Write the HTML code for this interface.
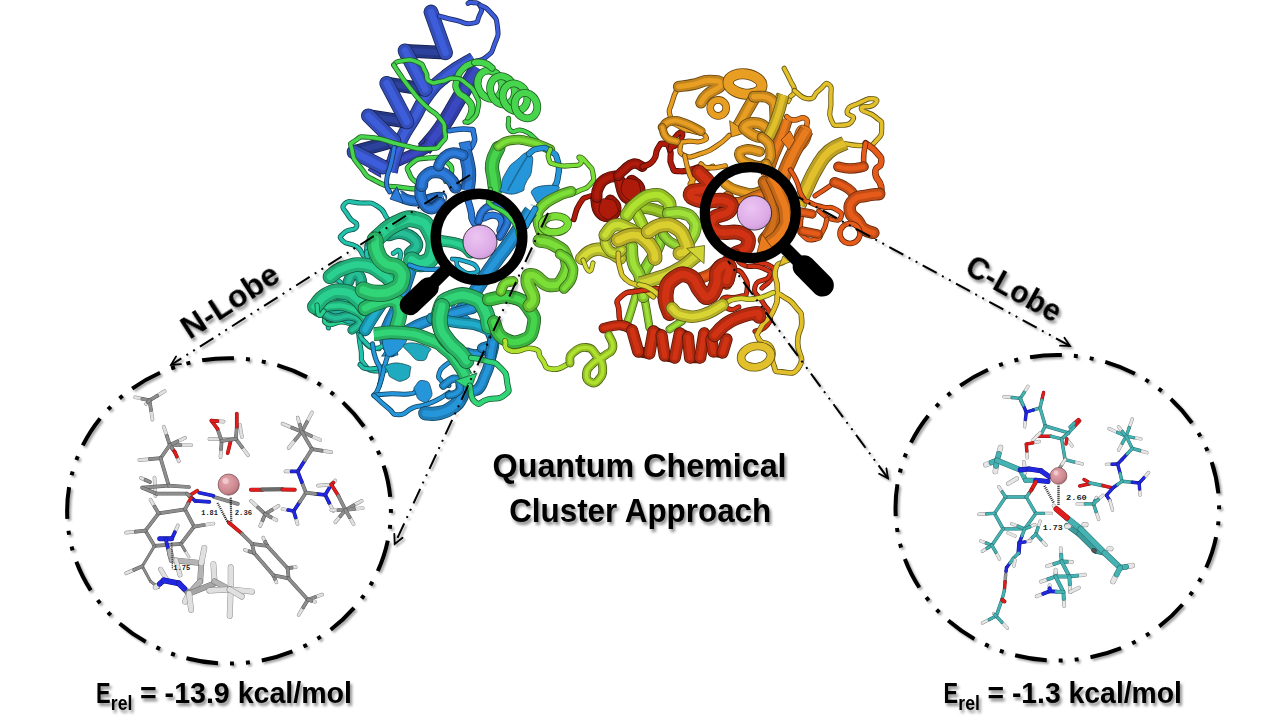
<!DOCTYPE html>
<html lang="en">
<head>
<meta charset="utf-8">
<title>Quantum Chemical Cluster Approach</title>
<style>
html,body{margin:0;padding:0;background:#fff;}
body{width:1280px;height:720px;overflow:hidden;font-family:"Liberation Sans",sans-serif;}
svg{display:block;}
.t{font-family:"Liberation Sans",sans-serif;font-weight:bold;fill:#000;}
.m{font-family:"Liberation Mono",monospace;fill:#222;}
</style>
</head>
<body>
<svg width="1280" height="720" viewBox="0 0 1280 720">
<defs>
<filter id="sh" x="-10%" y="-30%" width="120%" height="170%"><feGaussianBlur in="SourceAlpha" stdDeviation="1.6"/><feOffset dx="1.5" dy="2.5" result="o"/><feComponentTransfer><feFuncA type="linear" slope="0.45"/></feComponentTransfer><feMerge><feMergeNode/><feMergeNode in="SourceGraphic"/></feMerge></filter>
<filter id="sh2" x="-10%" y="-10%" width="120%" height="120%"><feGaussianBlur in="SourceAlpha" stdDeviation="1.2"/><feOffset dx="1.5" dy="2" result="o"/><feComponentTransfer><feFuncA type="linear" slope="0.35"/></feComponentTransfer><feMerge><feMergeNode/><feMergeNode in="SourceGraphic"/></feMerge></filter>
<radialGradient id="sph" cx="0.4" cy="0.35" r="0.75"><stop offset="0" stop-color="#ecc4f2"/><stop offset="0.7" stop-color="#dcaae6"/><stop offset="1" stop-color="#c392cf"/></radialGradient>
<radialGradient id="fe" cx="0.4" cy="0.35" r="0.75"><stop offset="0" stop-color="#e8aab0"/><stop offset="0.7" stop-color="#c9848c"/><stop offset="1" stop-color="#8f5a60"/></radialGradient>
</defs>
<rect width="1280" height="720" fill="#fff"/>
<g id="protein">
<path d="M477.5 68C472.6 76.1 468.6 82.5 459 98.4C449.4 114.3 450.7 114 441.4 127.5C432.1 141 428.6 143.3 424 149" fill="none" stroke="#191f54" stroke-width="15.9" stroke-linecap="butt" stroke-linejoin="round"/>
<path d="M477.5 68C472.6 76.1 468.6 82.5 459 98.4C449.4 114.3 450.7 114 441.4 127.5C432.1 141 428.6 143.3 424 149" fill="none" stroke="#303da2" stroke-width="14.3" stroke-linecap="butt" stroke-linejoin="round"/>
<path d="M477.5 68C472.6 76.1 468.6 82.5 459 98.4C449.4 114.3 450.7 114 441.4 127.5C432.1 141 428.6 143.3 424 149" fill="none" stroke="#3a49c2" stroke-width="7.2" stroke-linecap="butt" stroke-linejoin="round"/>
<path d="M430 142C428 144.3 434.5 142.8 424 149C413.5 155.2 412.3 154.4 398.6 160.6C384.9 166.8 389.5 165 383 167.5C376.5 170 380.5 167.9 379.2 168.1" fill="none" stroke="#191f54" stroke-width="11.5" stroke-linecap="butt" stroke-linejoin="round"/>
<path d="M430 142C428 144.3 434.5 142.8 424 149C413.5 155.2 412.3 154.4 398.6 160.6C384.9 166.8 389.5 165 383 167.5C376.5 170 380.5 167.9 379.2 168.1" fill="none" stroke="#303da2" stroke-width="9.9" stroke-linecap="butt" stroke-linejoin="round"/>
<path d="M430 142C428 144.3 434.5 142.8 424 149C413.5 155.2 412.3 154.4 398.6 160.6C384.9 166.8 389.5 165 383 167.5C376.5 170 380.5 167.9 379.2 168.1" fill="none" stroke="#3a49c2" stroke-width="5" stroke-linecap="butt" stroke-linejoin="round"/>
<path d="M377.7 158.9L368 170L380.8 177.4Z" fill="#3a49c2" stroke="#191f54" stroke-width="0.8" stroke-linejoin="round"/>
<path d="M473.6 58.5C466.6 62.9 459.5 65.4 447.3 75C435.1 84.6 436.6 83.1 427.8 94.5C419 105.9 420.9 106.4 414.2 117.8C407.5 129.2 407.7 126.9 402.5 137.3C397.3 147.7 397.8 147.4 394.7 156.7C391.6 166 392 167.9 391 172" fill="none" stroke="#1a285e" stroke-width="13.7" stroke-linecap="butt" stroke-linejoin="round"/>
<path d="M473.6 58.5C466.6 62.9 459.5 65.4 447.3 75C435.1 84.6 436.6 83.1 427.8 94.5C419 105.9 420.9 106.4 414.2 117.8C407.5 129.2 407.7 126.9 402.5 137.3C397.3 147.7 397.8 147.4 394.7 156.7C391.6 166 392 167.9 391 172" fill="none" stroke="#344eb7" stroke-width="12.1" stroke-linecap="butt" stroke-linejoin="round"/>
<path d="M473.6 58.5C466.6 62.9 459.5 65.4 447.3 75C435.1 84.6 436.6 83.1 427.8 94.5C419 105.9 420.9 106.4 414.2 117.8C407.5 129.2 407.7 126.9 402.5 137.3C397.3 147.7 397.8 147.4 394.7 156.7C391.6 166 392 167.9 391 172" fill="none" stroke="#3e5ddb" stroke-width="6.1" stroke-linecap="butt" stroke-linejoin="round"/>
<path d="M445.6 52.8L405 50.8" fill="none" stroke="#131c44" stroke-width="13.5" stroke-linecap="round" stroke-linejoin="round"/>
<path d="M445.6 52.8L405 50.8" fill="none" stroke="#243783" stroke-width="11.9" stroke-linecap="round" stroke-linejoin="round"/>
<path d="M445.6 52.8L405 50.8" fill="none" stroke="#2c429d" stroke-width="5.9" stroke-linecap="round" stroke-linejoin="round"/>
<path d="M425.3 89.4L386.7 83.3" fill="none" stroke="#131c44" stroke-width="13.5" stroke-linecap="round" stroke-linejoin="round"/>
<path d="M425.3 89.4L386.7 83.3" fill="none" stroke="#243783" stroke-width="11.9" stroke-linecap="round" stroke-linejoin="round"/>
<path d="M425.3 89.4L386.7 83.3" fill="none" stroke="#2c429d" stroke-width="5.9" stroke-linecap="round" stroke-linejoin="round"/>
<path d="M407 121.9L368.4 115.8" fill="none" stroke="#131c44" stroke-width="13.5" stroke-linecap="round" stroke-linejoin="round"/>
<path d="M407 121.9L368.4 115.8" fill="none" stroke="#243783" stroke-width="11.9" stroke-linecap="round" stroke-linejoin="round"/>
<path d="M407 121.9L368.4 115.8" fill="none" stroke="#2c429d" stroke-width="5.9" stroke-linecap="round" stroke-linejoin="round"/>
<path d="M394 141L354 152" fill="none" stroke="#131c44" stroke-width="13.5" stroke-linecap="round" stroke-linejoin="round"/>
<path d="M394 141L354 152" fill="none" stroke="#243783" stroke-width="11.9" stroke-linecap="round" stroke-linejoin="round"/>
<path d="M394 141L354 152" fill="none" stroke="#2c429d" stroke-width="5.9" stroke-linecap="round" stroke-linejoin="round"/>
<path d="M431 12L445.6 52.8" fill="none" stroke="#1a285e" stroke-width="14.8" stroke-linecap="round" stroke-linejoin="round"/>
<path d="M431 12L445.6 52.8" fill="none" stroke="#344eb7" stroke-width="13.2" stroke-linecap="round" stroke-linejoin="round"/>
<path d="M431 12L445.6 52.8" fill="none" stroke="#3e5ddb" stroke-width="6.6" stroke-linecap="round" stroke-linejoin="round"/>
<path d="M405 50.8L425.3 89.4" fill="none" stroke="#1a285e" stroke-width="14.8" stroke-linecap="round" stroke-linejoin="round"/>
<path d="M405 50.8L425.3 89.4" fill="none" stroke="#344eb7" stroke-width="13.2" stroke-linecap="round" stroke-linejoin="round"/>
<path d="M405 50.8L425.3 89.4" fill="none" stroke="#3e5ddb" stroke-width="6.6" stroke-linecap="round" stroke-linejoin="round"/>
<path d="M386.7 83.3L407 121.9" fill="none" stroke="#1a285e" stroke-width="14.8" stroke-linecap="round" stroke-linejoin="round"/>
<path d="M386.7 83.3L407 121.9" fill="none" stroke="#344eb7" stroke-width="13.2" stroke-linecap="round" stroke-linejoin="round"/>
<path d="M386.7 83.3L407 121.9" fill="none" stroke="#3e5ddb" stroke-width="6.6" stroke-linecap="round" stroke-linejoin="round"/>
<path d="M368.4 115.8L394 141" fill="none" stroke="#1a285e" stroke-width="14.8" stroke-linecap="round" stroke-linejoin="round"/>
<path d="M368.4 115.8L394 141" fill="none" stroke="#344eb7" stroke-width="13.2" stroke-linecap="round" stroke-linejoin="round"/>
<path d="M368.4 115.8L394 141" fill="none" stroke="#3e5ddb" stroke-width="6.6" stroke-linecap="round" stroke-linejoin="round"/>
<path d="M354 152L383 167" fill="none" stroke="#1a285e" stroke-width="14.8" stroke-linecap="round" stroke-linejoin="round"/>
<path d="M354 152L383 167" fill="none" stroke="#344eb7" stroke-width="13.2" stroke-linecap="round" stroke-linejoin="round"/>
<path d="M354 152L383 167" fill="none" stroke="#3e5ddb" stroke-width="6.6" stroke-linecap="round" stroke-linejoin="round"/>
<path d="M439.5 16.2C444.9 17.6 445 17.9 455.8 20.3C466.6 22.7 464.2 24.8 472 23.4C479.8 22 476.4 22 479.1 16.2C481.8 10.4 482.6 10.7 480.2 6.1C477.8 1.5 476.1 3.4 472 2.5C467.9 1.6 469.3 3.2 468 3.5" fill="none" stroke="#1a285e" stroke-width="5" stroke-linecap="round" stroke-linejoin="round"/>
<path d="M439.5 16.2C444.9 17.6 445 17.9 455.8 20.3C466.6 22.7 464.2 24.8 472 23.4C479.8 22 476.4 22 479.1 16.2C481.8 10.4 482.6 10.7 480.2 6.1C477.8 1.5 476.1 3.4 472 2.5C467.9 1.6 469.3 3.2 468 3.5" fill="none" stroke="#3e5ddb" stroke-width="3.4" stroke-linecap="round" stroke-linejoin="round"/>
<path d="M480 5C483.4 7.4 484.5 5.1 490.3 12.2C496.1 19.3 496 15.6 497.4 26.4C498.8 37.2 498.1 34.5 494.4 44.7C490.7 54.9 492.4 51.5 486.3 56.9C480.2 62.3 479.4 59.6 476 61" fill="none" stroke="#1a285e" stroke-width="5" stroke-linecap="round" stroke-linejoin="round"/>
<path d="M480 5C483.4 7.4 484.5 5.1 490.3 12.2C496.1 19.3 496 15.6 497.4 26.4C498.8 37.2 498.1 34.5 494.4 44.7C490.7 54.9 492.4 51.5 486.3 56.9C480.2 62.3 479.4 59.6 476 61" fill="none" stroke="#3e5ddb" stroke-width="3.4" stroke-linecap="round" stroke-linejoin="round"/>
<path d="M474.7 62.5C471.7 64 468.4 63.2 463.6 68C458.8 72.8 458.2 74.3 456.7 80.6C455.2 86.9 455.4 86.9 458 91.7C460.6 96.5 462.7 94.2 466.4 98.6C470.1 103 471.6 102.4 472 108.3C472.4 114.2 468.9 117.5 467.8 120.8" fill="none" stroke="#1e5c21" stroke-width="7.1" stroke-linecap="round" stroke-linejoin="round"/>
<path d="M474.7 62.5C471.7 64 468.4 63.2 463.6 68C458.8 72.8 458.2 74.3 456.7 80.6C455.2 86.9 455.4 86.9 458 91.7C460.6 96.5 462.7 94.2 466.4 98.6C470.1 103 471.6 102.4 472 108.3C472.4 114.2 468.9 117.5 467.8 120.8" fill="none" stroke="#46d54d" stroke-width="5.5" stroke-linecap="round" stroke-linejoin="round"/>
<ellipse cx="490" cy="84.7" rx="12" ry="14.5" fill="none" stroke="#1e5c21" stroke-width="7.8" transform="rotate(-22 490 84.7)"/>
<ellipse cx="490" cy="84.7" rx="12" ry="14.5" fill="none" stroke="#46d54d" stroke-width="6.2" transform="rotate(-22 490 84.7)"/>
<ellipse cx="502.5" cy="90.3" rx="12" ry="14.5" fill="none" stroke="#1e5c21" stroke-width="7.8" transform="rotate(-22 502.5 90.3)"/>
<ellipse cx="502.5" cy="90.3" rx="12" ry="14.5" fill="none" stroke="#46d54d" stroke-width="6.2" transform="rotate(-22 502.5 90.3)"/>
<ellipse cx="515" cy="97.2" rx="12" ry="14" fill="none" stroke="#1e5c21" stroke-width="7.8" transform="rotate(-22 515 97.2)"/>
<ellipse cx="515" cy="97.2" rx="12" ry="14" fill="none" stroke="#46d54d" stroke-width="6.2" transform="rotate(-22 515 97.2)"/>
<ellipse cx="526" cy="105.6" rx="11" ry="13" fill="none" stroke="#1e5c21" stroke-width="7.8" transform="rotate(-22 526 105.6)"/>
<ellipse cx="526" cy="105.6" rx="11" ry="13" fill="none" stroke="#46d54d" stroke-width="6.2" transform="rotate(-22 526 105.6)"/>
<path d="M474.7 62.5C477.8 62.7 478.2 61.2 484 63C489.8 64.8 489.3 66.3 492 68" fill="none" stroke="#1e5c21" stroke-width="7.1" stroke-linecap="round" stroke-linejoin="round"/>
<path d="M474.7 62.5C477.8 62.7 478.2 61.2 484 63C489.8 64.8 489.3 66.3 492 68" fill="none" stroke="#46d54d" stroke-width="5.5" stroke-linecap="round" stroke-linejoin="round"/>
<path d="M393.8 65C396.2 63.7 393.2 62 401 61C408.8 60 409.1 58.6 417.2 62C425.3 65.4 421.2 64.7 425.3 71.1C429.4 77.5 424 77.9 429.4 81.3C434.8 84.7 433.5 82.3 441.6 81.3C449.7 80.3 445.7 77.5 453.8 78.2C461.9 78.9 458.6 77.5 466 83.3C473.4 89.1 472 87.4 476 95.5C480 103.6 479.3 99.6 478 107.7C476.7 115.8 476.3 115.1 472 119.8C467.7 124.5 467.3 121.2 465 121.9" fill="none" stroke="#1e5c21" stroke-width="5.2" stroke-linecap="round" stroke-linejoin="round"/>
<path d="M393.8 65C396.2 63.7 393.2 62 401 61C408.8 60 409.1 58.6 417.2 62C425.3 65.4 421.2 64.7 425.3 71.1C429.4 77.5 424 77.9 429.4 81.3C434.8 84.7 433.5 82.3 441.6 81.3C449.7 80.3 445.7 77.5 453.8 78.2C461.9 78.9 458.6 77.5 466 83.3C473.4 89.1 472 87.4 476 95.5C480 103.6 479.3 99.6 478 107.7C476.7 115.8 476.3 115.1 472 119.8C467.7 124.5 467.3 121.2 465 121.9" fill="none" stroke="#46d54d" stroke-width="3.6" stroke-linecap="round" stroke-linejoin="round"/>
<path d="M393.8 65C395.5 67.7 393.3 64.9 399 73C404.7 81.1 402.2 78.5 411 89.4C419.8 100.3 415.8 96.1 425.3 105.6C434.8 115.1 433.1 109.5 439.5 117.8C445.9 126.1 443.9 122.2 444.6 130.5C445.3 138.8 447.4 136.6 441.6 142.7C435.8 148.8 440.8 148.1 427.3 148.8C413.8 149.5 419.3 148.4 401 144.7C382.7 141 387.8 139 372.5 137.6C357.2 136.2 362 136.2 355.2 140.6C348.4 145 350.5 142 352.2 150.8C353.9 159.6 352.2 156.8 360.3 167C368.4 177.2 363 174.5 376.6 181.3C390.2 188.1 387.1 185.6 401 187.3C414.9 189 415.2 190.3 418.2 186.3C421.2 182.3 412.4 182.6 410 175.2C407.6 167.8 404.5 169.8 411 164C417.5 158.2 417.5 158.6 429.4 157.9C441.3 157.2 439.3 156.2 446.6 162C453.9 167.8 451.6 168.8 451.3 175.2C451 181.6 447.5 179.3 445.6 181.3" fill="none" stroke="#1e5c21" stroke-width="5.2" stroke-linecap="round" stroke-linejoin="round"/>
<path d="M393.8 65C395.5 67.7 393.3 64.9 399 73C404.7 81.1 402.2 78.5 411 89.4C419.8 100.3 415.8 96.1 425.3 105.6C434.8 115.1 433.1 109.5 439.5 117.8C445.9 126.1 443.9 122.2 444.6 130.5C445.3 138.8 447.4 136.6 441.6 142.7C435.8 148.8 440.8 148.1 427.3 148.8C413.8 149.5 419.3 148.4 401 144.7C382.7 141 387.8 139 372.5 137.6C357.2 136.2 362 136.2 355.2 140.6C348.4 145 350.5 142 352.2 150.8C353.9 159.6 352.2 156.8 360.3 167C368.4 177.2 363 174.5 376.6 181.3C390.2 188.1 387.1 185.6 401 187.3C414.9 189 415.2 190.3 418.2 186.3C421.2 182.3 412.4 182.6 410 175.2C407.6 167.8 404.5 169.8 411 164C417.5 158.2 417.5 158.6 429.4 157.9C441.3 157.2 439.3 156.2 446.6 162C453.9 167.8 451.6 168.8 451.3 175.2C451 181.6 447.5 179.3 445.6 181.3" fill="none" stroke="#46d54d" stroke-width="3.6" stroke-linecap="round" stroke-linejoin="round"/>
<path d="M394.2 147.5C393.2 152.6 393.7 151.6 391.2 162.8C388.7 174 387.1 171.5 386.6 181.2C386.1 190.9 388.6 188.3 389.6 191.9" fill="none" stroke="#13355e" stroke-width="5" stroke-linecap="round" stroke-linejoin="round"/>
<path d="M394.2 147.5C393.2 152.6 393.7 151.6 391.2 162.8C388.7 174 387.1 171.5 386.6 181.2C386.1 190.9 388.6 188.3 389.6 191.9" fill="none" stroke="#2d7bdb" stroke-width="3.4" stroke-linecap="round" stroke-linejoin="round"/>
<path d="M449.3 130.7C455.4 130.2 459.5 128.2 467.6 129.2C475.7 130.2 472.2 128.2 473.7 133.8C475.2 139.4 475.2 140.4 472.2 146C469.2 151.6 467.1 149.1 464.6 150.6" fill="none" stroke="#13355e" stroke-width="5.6" stroke-linecap="round" stroke-linejoin="round"/>
<path d="M449.3 130.7C455.4 130.2 459.5 128.2 467.6 129.2C475.7 130.2 472.2 128.2 473.7 133.8C475.2 139.4 475.2 140.4 472.2 146C469.2 151.6 467.1 149.1 464.6 150.6" fill="none" stroke="#2d7bdb" stroke-width="4" stroke-linecap="round" stroke-linejoin="round"/>
<path d="M459 143L470 141L472 150L462 154Z" fill="#2d7bdb" stroke="#13355e" stroke-width="0.8" stroke-linejoin="round"/>
<path d="M464.6 150.6C465.4 153.9 466.4 156.3 467.6 162.8C468.8 169.3 469.1 167.7 469.1 175C469.1 182.3 468 186 467.6 190" fill="none" stroke="#13355e" stroke-width="14.2" stroke-linecap="butt" stroke-linejoin="round"/>
<path d="M464.6 150.6C465.4 153.9 466.4 156.3 467.6 162.8C468.8 169.3 469.1 167.7 469.1 175C469.1 182.3 468 186 467.6 190" fill="none" stroke="#2567b7" stroke-width="12.7" stroke-linecap="butt" stroke-linejoin="round"/>
<path d="M464.6 150.6C465.4 153.9 466.4 156.3 467.6 162.8C468.8 169.3 469.1 167.7 469.1 175C469.1 182.3 468 186 467.6 190" fill="none" stroke="#2d7bdb" stroke-width="6.3" stroke-linecap="butt" stroke-linejoin="round"/>
<path d="M441 199C439.7 198.5 445.5 196.8 437 197.5C428.5 198.2 428.3 201.7 415.6 201C402.9 200.3 404.2 197.5 399 195.5C393.8 193.5 399.7 195.2 400 195.1" fill="none" stroke="#13355e" stroke-width="11" stroke-linecap="butt" stroke-linejoin="round"/>
<path d="M441 199C439.7 198.5 445.5 196.8 437 197.5C428.5 198.2 428.3 201.7 415.6 201C402.9 200.3 404.2 197.5 399 195.5C393.8 193.5 399.7 195.2 400 195.1" fill="none" stroke="#2567b7" stroke-width="9.4" stroke-linecap="butt" stroke-linejoin="round"/>
<path d="M441 199C439.7 198.5 445.5 196.8 437 197.5C428.5 198.2 428.3 201.7 415.6 201C402.9 200.3 404.2 197.5 399 195.5C393.8 193.5 399.7 195.2 400 195.1" fill="none" stroke="#2d7bdb" stroke-width="4.7" stroke-linecap="butt" stroke-linejoin="round"/>
<path d="M396.8 186.8L390 199L403.2 203.4Z" fill="#2d7bdb" stroke="#13355e" stroke-width="0.8" stroke-linejoin="round"/>
<path d="M420.2 187.3C420.6 190.6 418.8 193.8 421.7 199.5C424.6 205.2 426 207.9 430.9 208.7C435.8 209.5 437.6 204.2 440.1 202.6" fill="none" stroke="#13355e" stroke-width="11.5" stroke-linecap="round" stroke-linejoin="round"/>
<path d="M420.2 187.3C420.6 190.6 418.8 193.8 421.7 199.5C424.6 205.2 426 207.9 430.9 208.7C435.8 209.5 437.6 204.2 440.1 202.6" fill="none" stroke="#2567b7" stroke-width="9.9" stroke-linecap="round" stroke-linejoin="round"/>
<path d="M420.2 187.3C420.6 190.6 418.8 193.8 421.7 199.5C424.6 205.2 426 207.9 430.9 208.7C435.8 209.5 437.6 204.2 440.1 202.6" fill="none" stroke="#2d7bdb" stroke-width="5" stroke-linecap="round" stroke-linejoin="round"/>
<path d="M421.7 185.7C422.5 183.3 420.7 180.3 424.8 176.6C428.9 172.9 430.5 171.6 437 172C443.5 172.4 444.4 174 449.3 178.1C454.2 182.2 453.8 184.8 455.4 187.3" fill="none" stroke="#13355e" stroke-width="12.6" stroke-linecap="round" stroke-linejoin="round"/>
<path d="M421.7 185.7C422.5 183.3 420.7 180.3 424.8 176.6C428.9 172.9 430.5 171.6 437 172C443.5 172.4 444.4 174 449.3 178.1C454.2 182.2 453.8 184.8 455.4 187.3" fill="none" stroke="#2567b7" stroke-width="11" stroke-linecap="round" stroke-linejoin="round"/>
<path d="M421.7 185.7C422.5 183.3 420.7 180.3 424.8 176.6C428.9 172.9 430.5 171.6 437 172C443.5 172.4 444.4 174 449.3 178.1C454.2 182.2 453.8 184.8 455.4 187.3" fill="none" stroke="#2d7bdb" stroke-width="5.5" stroke-linecap="round" stroke-linejoin="round"/>
<path d="M438.6 165.9C439.8 163.8 439.4 161.7 443.1 158.2C446.8 154.7 447 153.7 452.3 152.9C457.6 152.1 460.1 154.6 463 155.2" fill="none" stroke="#13355e" stroke-width="11" stroke-linecap="round" stroke-linejoin="round"/>
<path d="M438.6 165.9C439.8 163.8 439.4 161.7 443.1 158.2C446.8 154.7 447 153.7 452.3 152.9C457.6 152.1 460.1 154.6 463 155.2" fill="none" stroke="#2567b7" stroke-width="9.4" stroke-linecap="round" stroke-linejoin="round"/>
<path d="M438.6 165.9C439.8 163.8 439.4 161.7 443.1 158.2C446.8 154.7 447 153.7 452.3 152.9C457.6 152.1 460.1 154.6 463 155.2" fill="none" stroke="#2d7bdb" stroke-width="4.7" stroke-linecap="round" stroke-linejoin="round"/>
<path d="M508.6 118.3C509.3 122.4 505.9 126.4 510.6 130.5C515.3 134.6 514.7 127.8 522.8 130.5C530.9 133.2 528.9 133.2 535 138.6C541.1 144 539.1 144 541.1 146.7" fill="none" stroke="#1e5c21" stroke-width="5" stroke-linecap="round" stroke-linejoin="round"/>
<path d="M508.6 118.3C509.3 122.4 505.9 126.4 510.6 130.5C515.3 134.6 514.7 127.8 522.8 130.5C530.9 133.2 528.9 133.2 535 138.6C541.1 144 539.1 144 541.1 146.7" fill="none" stroke="#46d54d" stroke-width="3.4" stroke-linecap="round" stroke-linejoin="round"/>
<path d="M498.3 147.9C496.7 152 493.4 155 492.2 163.2C491 171.4 492.9 171.4 493.7 178.5C494.5 185.6 494.9 186.9 495.3 190" fill="none" stroke="#1e5c21" stroke-width="14.2" stroke-linecap="round" stroke-linejoin="round"/>
<path d="M498.3 147.9C496.7 152 493.4 155 492.2 163.2C491 171.4 492.9 171.4 493.7 178.5C494.5 185.6 494.9 186.9 495.3 190" fill="none" stroke="#3ab240" stroke-width="12.7" stroke-linecap="round" stroke-linejoin="round"/>
<path d="M498.3 147.9C496.7 152 493.4 155 492.2 163.2C491 171.4 492.9 171.4 493.7 178.5C494.5 185.6 494.9 186.9 495.3 190" fill="none" stroke="#46d54d" stroke-width="6.3" stroke-linecap="round" stroke-linejoin="round"/>
<path d="M498.3 146.4C501.6 144.8 502 141.5 510.6 140.3C519.2 139.1 519.8 139.4 530.4 141.8C541 144.2 545 147.4 550.3 149.4" fill="none" stroke="#356018" stroke-width="9.8" stroke-linecap="round" stroke-linejoin="round"/>
<path d="M498.3 146.4C501.6 144.8 502 141.5 510.6 140.3C519.2 139.1 519.8 139.4 530.4 141.8C541 144.2 545 147.4 550.3 149.4" fill="none" stroke="#67bb2f" stroke-width="8.2" stroke-linecap="round" stroke-linejoin="round"/>
<path d="M498.3 146.4C501.6 144.8 502 141.5 510.6 140.3C519.2 139.1 519.8 139.4 530.4 141.8C541 144.2 545 147.4 550.3 149.4" fill="none" stroke="#7bdf38" stroke-width="4.1" stroke-linecap="round" stroke-linejoin="round"/>
<path d="M528.9 154C534 156.6 532.9 158.1 531.9 167.8C530.9 177.5 529.9 174.9 525.8 183C521.7 191.1 527.3 189.1 519.7 192.2C512.1 195.3 509 194.2 502.9 192.2C496.8 190.2 500.4 192.7 501.4 186.1C502.4 179.5 500.9 181.1 506 172.4C511.1 163.7 509.1 166.2 516.7 160.1C524.3 154 523.8 151.4 528.9 154Z" fill="#2696db" stroke="#10415e" stroke-width="0.8" stroke-linejoin="round"/>
<path d="M527 157C524 162 524.3 161 518 172C511.7 183 511.3 184 508 190" fill="none" stroke="#0d344b" stroke-width="1.2" stroke-linecap="round" stroke-linejoin="round"/>
<path d="M527 157C524 162 524.3 161 518 172C511.7 183 511.3 184 508 190" fill="none" stroke="#1f78ae" stroke-width="1.2" stroke-linecap="round" stroke-linejoin="round"/>
<path d="M528.9 154C531.9 152.2 530.9 149.7 538 148.7C545.1 147.7 543.7 146.7 550.3 151C556.9 155.3 555.4 153.1 557.9 161.7C560.4 170.3 558.9 168.8 557.9 176.9C556.9 185 555.9 183 554.9 186.1" fill="none" stroke="#10415e" stroke-width="6.2" stroke-linecap="round" stroke-linejoin="round"/>
<path d="M528.9 154C531.9 152.2 530.9 149.7 538 148.7C545.1 147.7 543.7 146.7 550.3 151C556.9 155.3 555.4 153.1 557.9 161.7C560.4 170.3 558.9 168.8 557.9 176.9C556.9 185 555.9 183 554.9 186.1" fill="none" stroke="#2696db" stroke-width="4.6" stroke-linecap="round" stroke-linejoin="round"/>
<path d="M531.9 190.7C533.4 188.6 535.9 187 541.1 186.1C546.3 185.2 554.8 184.9 557.9 186.1C561 187.3 558.2 189.1 556.4 192.2C554.6 195.3 552.1 199 548.7 201.4C545.3 203.8 542.6 205.3 539.6 204.4C536.6 203.5 535 199.5 533.5 196.8C532 194.1 530.4 192.8 531.9 190.7Z" fill="#2696db" stroke="#10415e" stroke-width="0.8" stroke-linejoin="round"/>
<path d="M539.6 204.4C538.1 207.5 538.1 208.5 535 213.6C531.9 218.7 531.9 217.7 530.4 219.7" fill="none" stroke="#10415e" stroke-width="5.6" stroke-linecap="round" stroke-linejoin="round"/>
<path d="M539.6 204.4C538.1 207.5 538.1 208.5 535 213.6C531.9 218.7 531.9 217.7 530.4 219.7" fill="none" stroke="#2696db" stroke-width="4" stroke-linecap="round" stroke-linejoin="round"/>
<path d="M550.3 149.4C549.8 152.5 546.7 153.5 548.7 158.6C550.7 163.7 548.7 162.4 556.4 164.7C564.1 167 563.6 166 571.7 165.5C579.8 165 578.3 166 580.8 163.2C583.3 160.4 577.3 157.1 579.3 157.1C581.3 157.1 582.3 157.6 586.9 163.2C591.5 168.8 592 166.8 593 173.9C594 181 594.6 179 590 184.6C585.4 190.2 585.9 187.4 579.3 190.7C572.7 194 573.2 193.2 570.1 194.5" fill="none" stroke="#356018" stroke-width="5.2" stroke-linecap="round" stroke-linejoin="round"/>
<path d="M550.3 149.4C549.8 152.5 546.7 153.5 548.7 158.6C550.7 163.7 548.7 162.4 556.4 164.7C564.1 167 563.6 166 571.7 165.5C579.8 165 578.3 166 580.8 163.2C583.3 160.4 577.3 157.1 579.3 157.1C581.3 157.1 582.3 157.6 586.9 163.2C591.5 168.8 592 166.8 593 173.9C594 181 594.6 179 590 184.6C585.4 190.2 585.9 187.4 579.3 190.7C572.7 194 573.2 193.2 570.1 194.5" fill="none" stroke="#7bdf38" stroke-width="3.6" stroke-linecap="round" stroke-linejoin="round"/>
<path d="M571 191.5C567.1 192.9 564.4 192.5 556.4 196.8C548.4 201.1 546 201.4 541.1 207.5C536.2 213.6 538 213.2 538 219.7C538 226.2 540.3 228.6 541.1 231.9" fill="none" stroke="#356018" stroke-width="11" stroke-linecap="round" stroke-linejoin="round"/>
<path d="M571 191.5C567.1 192.9 564.4 192.5 556.4 196.8C548.4 201.1 546 201.4 541.1 207.5C536.2 213.6 538 213.2 538 219.7C538 226.2 540.3 228.6 541.1 231.9" fill="none" stroke="#67bb2f" stroke-width="9.4" stroke-linecap="round" stroke-linejoin="round"/>
<path d="M571 191.5C567.1 192.9 564.4 192.5 556.4 196.8C548.4 201.1 546 201.4 541.1 207.5C536.2 213.6 538 213.2 538 219.7C538 226.2 540.3 228.6 541.1 231.9" fill="none" stroke="#7bdf38" stroke-width="4.7" stroke-linecap="round" stroke-linejoin="round"/>
<ellipse cx="554.9" cy="224.3" rx="13" ry="8" fill="none" stroke="#356018" stroke-width="8.1" transform="rotate(-5 554.9 224.3)"/>
<ellipse cx="554.9" cy="224.3" rx="13" ry="8" fill="none" stroke="#7bdf38" stroke-width="6.5" transform="rotate(-5 554.9 224.3)"/>
<path d="M531 211C529.3 213.4 532.7 208.1 525.9 218.2C519.1 228.3 520.3 227.4 510.6 241.2C500.9 255 505 248.3 496.9 259.5C488.8 270.7 495.8 260.6 486.2 274.8C476.6 289 476.4 290.1 468 302C459.6 313.9 463.4 307.8 461.1 310.6" fill="none" stroke="#10415e" stroke-width="14.2" stroke-linecap="butt" stroke-linejoin="round"/>
<path d="M531 211C529.3 213.4 532.7 208.1 525.9 218.2C519.1 228.3 520.3 227.4 510.6 241.2C500.9 255 505 248.3 496.9 259.5C488.8 270.7 495.8 260.6 486.2 274.8C476.6 289 476.4 290.1 468 302C459.6 313.9 463.4 307.8 461.1 310.6" fill="none" stroke="#1f7eb7" stroke-width="12.7" stroke-linecap="butt" stroke-linejoin="round"/>
<path d="M531 211C529.3 213.4 532.7 208.1 525.9 218.2C519.1 228.3 520.3 227.4 510.6 241.2C500.9 255 505 248.3 496.9 259.5C488.8 270.7 495.8 260.6 486.2 274.8C476.6 289 476.4 290.1 468 302C459.6 313.9 463.4 307.8 461.1 310.6" fill="none" stroke="#2696db" stroke-width="6.3" stroke-linecap="butt" stroke-linejoin="round"/>
<path d="M451.7 303.1L452 322L470.5 318.1Z" fill="#2696db" stroke="#10415e" stroke-width="0.8" stroke-linejoin="round"/>
<path d="M535.1 209C533.1 212.6 532.1 214.2 529 219.8C525.9 225.4 526.9 223.9 525.9 225.9" fill="none" stroke="#10415e" stroke-width="6.6" stroke-linecap="round" stroke-linejoin="round"/>
<path d="M535.1 209C533.1 212.6 532.1 214.2 529 219.8C525.9 225.4 526.9 223.9 525.9 225.9" fill="none" stroke="#2696db" stroke-width="5" stroke-linecap="round" stroke-linejoin="round"/>
<path d="M466.3 195C467.8 200.2 468.9 202.3 470.9 210.6C472.9 218.9 470.4 214.7 472.4 219.8C474.4 224.9 475.5 223.9 477 225.9" fill="none" stroke="#13355e" stroke-width="7.1" stroke-linecap="round" stroke-linejoin="round"/>
<path d="M466.3 195C467.8 200.2 468.9 202.3 470.9 210.6C472.9 218.9 470.4 214.7 472.4 219.8C474.4 224.9 475.5 223.9 477 225.9" fill="none" stroke="#2d7bdb" stroke-width="5.5" stroke-linecap="round" stroke-linejoin="round"/>
<path d="M483.1 218.2C486 217.4 488.9 214.4 493.8 215.2C498.7 216 499.9 217.2 501.5 221.3C503.1 225.4 500.3 228 499.9 230.5" fill="none" stroke="#13355e" stroke-width="7.1" stroke-linecap="round" stroke-linejoin="round"/>
<path d="M483.1 218.2C486 217.4 488.9 214.4 493.8 215.2C498.7 216 499.9 217.2 501.5 221.3C503.1 225.4 500.3 228 499.9 230.5" fill="none" stroke="#2d7bdb" stroke-width="5.5" stroke-linecap="round" stroke-linejoin="round"/>
<path d="M478.5 221.3C479.7 218.4 479 214.7 483.1 210.6C487.2 206.5 488.5 206 493.8 206C499.1 206 499.3 206.9 503 210.6C506.7 214.3 507.2 214.9 507.6 219.8C508 224.7 506.6 224.4 504.5 228.9C502.4 233.4 501.1 234.5 499.9 236.6" fill="none" stroke="#13355e" stroke-width="8.2" stroke-linecap="round" stroke-linejoin="round"/>
<path d="M478.5 221.3C479.7 218.4 479 214.7 483.1 210.6C487.2 206.5 488.5 206 493.8 206C499.1 206 499.3 206.9 503 210.6C506.7 214.3 507.2 214.9 507.6 219.8C508 224.7 506.6 224.4 504.5 228.9C502.4 233.4 501.1 234.5 499.9 236.6" fill="none" stroke="#2567b7" stroke-width="6.6" stroke-linecap="round" stroke-linejoin="round"/>
<path d="M478.5 221.3C479.7 218.4 479 214.7 483.1 210.6C487.2 206.5 488.5 206 493.8 206C499.1 206 499.3 206.9 503 210.6C506.7 214.3 507.2 214.9 507.6 219.8C508 224.7 506.6 224.4 504.5 228.9C502.4 233.4 501.1 234.5 499.9 236.6" fill="none" stroke="#2d7bdb" stroke-width="3.3" stroke-linecap="round" stroke-linejoin="round"/>
<path d="M490.3 189.4C489.9 192.4 489.1 193.3 489.2 198.3C489.3 203.3 486.6 200.4 490.7 204.5C494.8 208.6 494.9 206 501.5 210.6C508.1 215.2 505.5 212.6 510.6 218.2C515.7 223.8 514.1 222.3 516.7 227.4C519.3 232.5 516.9 227.6 518.3 233.5C519.7 239.4 520.1 241.2 521 245" fill="none" stroke="#1e5c21" stroke-width="5.2" stroke-linecap="round" stroke-linejoin="round"/>
<path d="M490.3 189.4C489.9 192.4 489.1 193.3 489.2 198.3C489.3 203.3 486.6 200.4 490.7 204.5C494.8 208.6 494.9 206 501.5 210.6C508.1 215.2 505.5 212.6 510.6 218.2C515.7 223.8 514.1 222.3 516.7 227.4C519.3 232.5 516.9 227.6 518.3 233.5C519.7 239.4 520.1 241.2 521 245" fill="none" stroke="#46d54d" stroke-width="3.6" stroke-linecap="round" stroke-linejoin="round"/>
<path d="M411.6 267C407.5 278.5 407.3 281.9 399.4 301.6C391.5 321.3 392.7 313.9 388 326C383.3 338.1 384.2 330 385.2 338C386.2 346 390.2 346.8 391 350C391.8 353.2 388.8 348.4 387.7 347.6" fill="none" stroke="#10415e" stroke-width="12.6" stroke-linecap="butt" stroke-linejoin="round"/>
<path d="M411.6 267C407.5 278.5 407.3 281.9 399.4 301.6C391.5 321.3 392.7 313.9 388 326C383.3 338.1 384.2 330 385.2 338C386.2 346 390.2 346.8 391 350C391.8 353.2 388.8 348.4 387.7 347.6" fill="none" stroke="#1f7eb7" stroke-width="11" stroke-linecap="butt" stroke-linejoin="round"/>
<path d="M411.6 267C407.5 278.5 407.3 281.9 399.4 301.6C391.5 321.3 392.7 313.9 388 326C383.3 338.1 384.2 330 385.2 338C386.2 346 390.2 346.8 391 350C391.8 353.2 388.8 348.4 387.7 347.6" fill="none" stroke="#2696db" stroke-width="5.5" stroke-linecap="butt" stroke-linejoin="round"/>
<path d="M381.6 356.2L398 355L393.8 339.1Z" fill="#2696db" stroke="#10415e" stroke-width="0.8" stroke-linejoin="round"/>
<path d="M472.5 308.1C466 309.9 461 311.2 448 315C435 318.8 434.6 318.2 423.8 322.3C413 326.4 411.8 328.3 407.5 330.5" fill="none" stroke="#10415e" stroke-width="11.5" stroke-linecap="round" stroke-linejoin="round"/>
<path d="M472.5 308.1C466 309.9 461 311.2 448 315C435 318.8 434.6 318.2 423.8 322.3C413 326.4 411.8 328.3 407.5 330.5" fill="none" stroke="#1f7eb7" stroke-width="9.9" stroke-linecap="round" stroke-linejoin="round"/>
<path d="M472.5 308.1C466 309.9 461 311.2 448 315C435 318.8 434.6 318.2 423.8 322.3C413 326.4 411.8 328.3 407.5 330.5" fill="none" stroke="#2696db" stroke-width="5" stroke-linecap="round" stroke-linejoin="round"/>
<path d="M431.9 318.3C438.4 319.4 443.3 320.1 456.3 322.3C469.3 324.5 470.9 322.1 480.6 326.4C490.3 330.7 490.1 330.5 492.8 338.6C495.5 346.7 491.3 352 490.8 356.9" fill="none" stroke="#0e4a58" stroke-width="11.5" stroke-linecap="round" stroke-linejoin="round"/>
<path d="M431.9 318.3C438.4 319.4 443.3 320.1 456.3 322.3C469.3 324.5 470.9 322.1 480.6 326.4C490.3 330.7 490.1 330.5 492.8 338.6C495.5 346.7 491.3 352 490.8 356.9" fill="none" stroke="#1a90aa" stroke-width="9.9" stroke-linecap="round" stroke-linejoin="round"/>
<path d="M431.9 318.3C438.4 319.4 443.3 320.1 456.3 322.3C469.3 324.5 470.9 322.1 480.6 326.4C490.3 330.7 490.1 330.5 492.8 338.6C495.5 346.7 491.3 352 490.8 356.9" fill="none" stroke="#20accb" stroke-width="5" stroke-linecap="round" stroke-linejoin="round"/>
<path d="M391.2 224.4C389.9 222.4 391.9 224.4 387.2 218.3C382.5 212.2 385.8 211.1 377 206C368.2 200.9 371.6 203.7 360.8 203C350 202.3 348.6 199.6 344.5 204C340.4 208.4 344.5 208.7 348.6 216.2C352.7 223.7 358.1 221 356.7 226.4C355.3 231.8 349.2 227.8 344.5 232.5C339.8 237.2 338.4 235.9 342.5 240.6C346.6 245.3 349.3 242 356.7 246.7C364.1 251.4 360.7 256.8 364.8 254.8C368.9 252.8 364.2 247.4 368.9 240.6C373.6 233.8 375.6 236.5 379 234.5" fill="none" stroke="#0f544a" stroke-width="5" stroke-linecap="round" stroke-linejoin="round"/>
<path d="M391.2 224.4C389.9 222.4 391.9 224.4 387.2 218.3C382.5 212.2 385.8 211.1 377 206C368.2 200.9 371.6 203.7 360.8 203C350 202.3 348.6 199.6 344.5 204C340.4 208.4 344.5 208.7 348.6 216.2C352.7 223.7 358.1 221 356.7 226.4C355.3 231.8 349.2 227.8 344.5 232.5C339.8 237.2 338.4 235.9 342.5 240.6C346.6 245.3 349.3 242 356.7 246.7C364.1 251.4 360.7 256.8 364.8 254.8C368.9 252.8 364.2 247.4 368.9 240.6C373.6 233.8 375.6 236.5 379 234.5" fill="none" stroke="#23c2ac" stroke-width="3.4" stroke-linecap="round" stroke-linejoin="round"/>
<path d="M314 301.6C314.7 305.7 311.9 309.7 316 313.8C320.1 317.9 322.2 309.1 326.3 313.8C330.4 318.5 327.6 323.3 328.3 328" fill="none" stroke="#0f544a" stroke-width="5" stroke-linecap="round" stroke-linejoin="round"/>
<path d="M314 301.6C314.7 305.7 311.9 309.7 316 313.8C320.1 317.9 322.2 309.1 326.3 313.8C330.4 318.5 327.6 323.3 328.3 328" fill="none" stroke="#23c2ac" stroke-width="3.4" stroke-linecap="round" stroke-linejoin="round"/>
<path d="M324.2 316.2C325.6 318.9 321.5 322.4 328.3 324.4C335.1 326.4 335 320.3 344.5 322.3C354 324.3 349.2 323 356.7 330.5C364.2 338 359.5 338.6 366.9 344.7C374.3 350.8 375 347.4 379 348.8" fill="none" stroke="#125a3e" stroke-width="5" stroke-linecap="round" stroke-linejoin="round"/>
<path d="M324.2 316.2C325.6 318.9 321.5 322.4 328.3 324.4C335.1 326.4 335 320.3 344.5 322.3C354 324.3 349.2 323 356.7 330.5C364.2 338 359.5 338.6 366.9 344.7C374.3 350.8 375 347.4 379 348.8" fill="none" stroke="#29d090" stroke-width="3.4" stroke-linecap="round" stroke-linejoin="round"/>
<path d="M358.8 334.5C359.5 339.3 358.8 338.6 360.8 348.8C362.8 359 358.7 357.6 364.8 365C370.9 372.4 370.2 370.4 379 371.1C387.8 371.8 387.1 368.4 391.2 367" fill="none" stroke="#0f544a" stroke-width="5" stroke-linecap="round" stroke-linejoin="round"/>
<path d="M358.8 334.5C359.5 339.3 358.8 338.6 360.8 348.8C362.8 359 358.7 357.6 364.8 365C370.9 372.4 370.2 370.4 379 371.1C387.8 371.8 387.1 368.4 391.2 367" fill="none" stroke="#23c2ac" stroke-width="3.4" stroke-linecap="round" stroke-linejoin="round"/>
<path d="M330 305C334 298.3 340 297.7 352 300C364 302.3 363.3 304.7 366 312C368.7 319.3 368.7 319.3 360 322C351.3 324.7 350 325.7 340 320C330 314.3 326 311.7 330 305Z" fill="#23b2a2" stroke="#0f4d46" stroke-width="0.8" stroke-linejoin="round"/>
<path d="M322 312C325.2 313.6 326.5 316.9 334 318C341.5 319.1 343.1 314.9 350 316C356.9 317.1 359.5 318.3 360 322C360.5 325.7 354.1 327.9 352 330" fill="none" stroke="#105241" stroke-width="9.3" stroke-linecap="round" stroke-linejoin="round"/>
<path d="M322 312C325.2 313.6 326.5 316.9 334 318C341.5 319.1 343.1 314.9 350 316C356.9 317.1 359.5 318.3 360 322C360.5 325.7 354.1 327.9 352 330" fill="none" stroke="#1f9f7e" stroke-width="7.7" stroke-linecap="round" stroke-linejoin="round"/>
<path d="M322 312C325.2 313.6 326.5 316.9 334 318C341.5 319.1 343.1 314.9 350 316C356.9 317.1 359.5 318.3 360 322C360.5 325.7 354.1 327.9 352 330" fill="none" stroke="#25be97" stroke-width="3.9" stroke-linecap="round" stroke-linejoin="round"/>
<path d="M316.1 310.2C319.9 309.1 321.1 306.7 330.3 306.1C339.5 305.5 340.8 304.3 350.6 308.1C360.4 311.9 363.1 314.3 366.9 320.3C370.7 326.3 365.4 327.8 364.8 330.5" fill="none" stroke="#125a3e" stroke-width="10.4" stroke-linecap="round" stroke-linejoin="round"/>
<path d="M316.1 310.2C319.9 309.1 321.1 306.7 330.3 306.1C339.5 305.5 340.8 304.3 350.6 308.1C360.4 311.9 363.1 314.3 366.9 320.3C370.7 326.3 365.4 327.8 364.8 330.5" fill="none" stroke="#22ae78" stroke-width="8.8" stroke-linecap="round" stroke-linejoin="round"/>
<path d="M316.1 310.2C319.9 309.1 321.1 306.7 330.3 306.1C339.5 305.5 340.8 304.3 350.6 308.1C360.4 311.9 363.1 314.3 366.9 320.3C370.7 326.3 365.4 327.8 364.8 330.5" fill="none" stroke="#29d090" stroke-width="4.4" stroke-linecap="round" stroke-linejoin="round"/>
<path d="M381.7 303.3C379.1 307.2 376.5 310.9 372 318C367.5 325.1 366.9 326.8 365 330" fill="none" stroke="#0e4a58" stroke-width="12.6" stroke-linecap="round" stroke-linejoin="round"/>
<path d="M381.7 303.3C379.1 307.2 376.5 310.9 372 318C367.5 325.1 366.9 326.8 365 330" fill="none" stroke="#1a90aa" stroke-width="11" stroke-linecap="round" stroke-linejoin="round"/>
<path d="M381.7 303.3C379.1 307.2 376.5 310.9 372 318C367.5 325.1 366.9 326.8 365 330" fill="none" stroke="#20accb" stroke-width="5.5" stroke-linecap="round" stroke-linejoin="round"/>
<path d="M326.7 276.7C329.5 274.5 329.5 274.5 335 270C340.5 265.5 333.9 265 343.3 263.3C352.7 261.6 355.5 268.9 363.3 265C371.1 261.1 365.6 256.1 366.7 251.7" fill="none" stroke="#0f544a" stroke-width="5" stroke-linecap="round" stroke-linejoin="round"/>
<path d="M326.7 276.7C329.5 274.5 329.5 274.5 335 270C340.5 265.5 333.9 265 343.3 263.3C352.7 261.6 355.5 268.9 363.3 265C371.1 261.1 365.6 256.1 366.7 251.7" fill="none" stroke="#23c2ac" stroke-width="3.4" stroke-linecap="round" stroke-linejoin="round"/>
<path d="M331.7 280C334.5 280.6 336.7 278.4 340 281.7C343.3 285 341.1 287.2 341.7 290" fill="none" stroke="#0f544a" stroke-width="5" stroke-linecap="round" stroke-linejoin="round"/>
<path d="M331.7 280C334.5 280.6 336.7 278.4 340 281.7C343.3 285 341.1 287.2 341.7 290" fill="none" stroke="#23c2ac" stroke-width="3.4" stroke-linecap="round" stroke-linejoin="round"/>
<path d="M348.3 281.7C349.6 279.5 350.2 274.6 353.3 273.3C356.4 272 357.8 272.7 360 276.7C362.2 280.7 361.2 285.2 361.7 288.3" fill="none" stroke="#105241" stroke-width="11.5" stroke-linecap="round" stroke-linejoin="round"/>
<path d="M348.3 281.7C349.6 279.5 350.2 274.6 353.3 273.3C356.4 272 357.8 272.7 360 276.7C362.2 280.7 361.2 285.2 361.7 288.3" fill="none" stroke="#1f9f7e" stroke-width="9.9" stroke-linecap="round" stroke-linejoin="round"/>
<path d="M348.3 281.7C349.6 279.5 350.2 274.6 353.3 273.3C356.4 272 357.8 272.7 360 276.7C362.2 280.7 361.2 285.2 361.7 288.3" fill="none" stroke="#25be97" stroke-width="5" stroke-linecap="round" stroke-linejoin="round"/>
<path d="M330 276.7C333.5 274.5 334 271.4 343.3 268.3C352.6 265.2 354.8 263.7 365 265C375.2 266.3 375 269.3 381.7 273.3C388.4 277.3 387.8 278.2 390 280" fill="none" stroke="#125a3e" stroke-width="14.8" stroke-linecap="round" stroke-linejoin="round"/>
<path d="M330 276.7C333.5 274.5 334 271.4 343.3 268.3C352.6 265.2 354.8 263.7 365 265C375.2 266.3 375 269.3 381.7 273.3C388.4 277.3 387.8 278.2 390 280" fill="none" stroke="#22ae78" stroke-width="13.2" stroke-linecap="round" stroke-linejoin="round"/>
<path d="M330 276.7C333.5 274.5 334 271.4 343.3 268.3C352.6 265.2 354.8 263.7 365 265C375.2 266.3 375 269.3 381.7 273.3C388.4 277.3 387.8 278.2 390 280" fill="none" stroke="#29d090" stroke-width="6.6" stroke-linecap="round" stroke-linejoin="round"/>
<path d="M315 306.7C318.1 303.6 319.2 299 326.7 295C334.2 291 335.3 290.8 343.3 291.7C351.3 292.6 350.9 293.9 356.7 298.3C362.5 302.7 362.8 305.6 365 308.3" fill="none" stroke="#125a3e" stroke-width="15.9" stroke-linecap="round" stroke-linejoin="round"/>
<path d="M315 306.7C318.1 303.6 319.2 299 326.7 295C334.2 291 335.3 290.8 343.3 291.7C351.3 292.6 350.9 293.9 356.7 298.3C362.5 302.7 362.8 305.6 365 308.3" fill="none" stroke="#22ae78" stroke-width="14.3" stroke-linecap="round" stroke-linejoin="round"/>
<path d="M315 306.7C318.1 303.6 319.2 299 326.7 295C334.2 291 335.3 290.8 343.3 291.7C351.3 292.6 350.9 293.9 356.7 298.3C362.5 302.7 362.8 305.6 365 308.3" fill="none" stroke="#29d090" stroke-width="7.2" stroke-linecap="round" stroke-linejoin="round"/>
<path d="M317 305C317.7 308.3 316.7 313 319 315C321.3 317 322.3 312.3 324 311" fill="none" stroke="#125a3e" stroke-width="5.1" stroke-linecap="round" stroke-linejoin="round"/>
<path d="M317 305C317.7 308.3 316.7 313 319 315C321.3 317 322.3 312.3 324 311" fill="none" stroke="#29d090" stroke-width="3.5" stroke-linecap="round" stroke-linejoin="round"/>
<path d="M365 308.3C368.1 307 369.2 305.5 376.7 303.3C384.2 301.1 387.1 298.2 393.3 300C399.5 301.8 399.1 302.9 400 310C400.9 317.1 397.6 322.2 396.7 326.7" fill="none" stroke="#155b33" stroke-width="14.8" stroke-linecap="round" stroke-linejoin="round"/>
<path d="M365 308.3C368.1 307 369.2 305.5 376.7 303.3C384.2 301.1 387.1 298.2 393.3 300C399.5 301.8 399.1 302.9 400 310C400.9 317.1 397.6 322.2 396.7 326.7" fill="none" stroke="#29b263" stroke-width="13.2" stroke-linecap="round" stroke-linejoin="round"/>
<path d="M365 308.3C368.1 307 369.2 305.5 376.7 303.3C384.2 301.1 387.1 298.2 393.3 300C399.5 301.8 399.1 302.9 400 310C400.9 317.1 397.6 322.2 396.7 326.7" fill="none" stroke="#31d476" stroke-width="6.6" stroke-linecap="round" stroke-linejoin="round"/>
<path d="M388.3 235C392.3 234.5 395.7 231.1 403.3 233.3C410.9 235.5 414.9 238 416.7 243.3C418.5 248.6 411.8 250.6 410 253.3" fill="none" stroke="#105241" stroke-width="12.6" stroke-linecap="round" stroke-linejoin="round"/>
<path d="M388.3 235C392.3 234.5 395.7 231.1 403.3 233.3C410.9 235.5 414.9 238 416.7 243.3C418.5 248.6 411.8 250.6 410 253.3" fill="none" stroke="#1f9f7e" stroke-width="11" stroke-linecap="round" stroke-linejoin="round"/>
<path d="M388.3 235C392.3 234.5 395.7 231.1 403.3 233.3C410.9 235.5 414.9 238 416.7 243.3C418.5 248.6 411.8 250.6 410 253.3" fill="none" stroke="#25be97" stroke-width="5.5" stroke-linecap="round" stroke-linejoin="round"/>
<path d="M393.3 253.3C395.5 252.8 398.3 247.8 400 251.7C401.7 255.6 398.9 260.6 398.3 265" fill="none" stroke="#0f544a" stroke-width="5.1" stroke-linecap="round" stroke-linejoin="round"/>
<path d="M393.3 253.3C395.5 252.8 398.3 247.8 400 251.7C401.7 255.6 398.9 260.6 398.3 265" fill="none" stroke="#23c2ac" stroke-width="3.5" stroke-linecap="round" stroke-linejoin="round"/>
<path d="M376.7 238.3C382 234.3 386 228.2 396.7 223.3C407.4 218.4 407.8 217.8 416.7 220C425.6 222.2 425.6 223.2 430 231.7C434.4 240.2 435.1 243.3 433.3 251.7C431.5 260.1 429.1 261.1 423.3 263.3C417.5 265.5 414.8 260.9 411.7 260" fill="none" stroke="#125a3e" stroke-width="17" stroke-linecap="round" stroke-linejoin="round"/>
<path d="M376.7 238.3C382 234.3 386 228.2 396.7 223.3C407.4 218.4 407.8 217.8 416.7 220C425.6 222.2 425.6 223.2 430 231.7C434.4 240.2 435.1 243.3 433.3 251.7C431.5 260.1 429.1 261.1 423.3 263.3C417.5 265.5 414.8 260.9 411.7 260" fill="none" stroke="#22ae78" stroke-width="15.4" stroke-linecap="round" stroke-linejoin="round"/>
<path d="M376.7 238.3C382 234.3 386 228.2 396.7 223.3C407.4 218.4 407.8 217.8 416.7 220C425.6 222.2 425.6 223.2 430 231.7C434.4 240.2 435.1 243.3 433.3 251.7C431.5 260.1 429.1 261.1 423.3 263.3C417.5 265.5 414.8 260.9 411.7 260" fill="none" stroke="#29d090" stroke-width="7.7" stroke-linecap="round" stroke-linejoin="round"/>
<path d="M375 240C375.5 243.1 374 245.5 376.7 251.7C379.4 257.9 379.2 258.9 385 263.3C390.8 267.7 393.8 263.8 398.3 268.3C402.8 272.8 403 274.2 401.7 280C400.4 285.8 400 286.5 393.3 290C386.6 293.5 384.7 293.3 376.7 293.3C368.7 293.3 366.9 290.9 363.3 290" fill="none" stroke="#155b33" stroke-width="17" stroke-linecap="round" stroke-linejoin="round"/>
<path d="M375 240C375.5 243.1 374 245.5 376.7 251.7C379.4 257.9 379.2 258.9 385 263.3C390.8 267.7 393.8 263.8 398.3 268.3C402.8 272.8 403 274.2 401.7 280C400.4 285.8 400 286.5 393.3 290C386.6 293.5 384.7 293.3 376.7 293.3C368.7 293.3 366.9 290.9 363.3 290" fill="none" stroke="#29b263" stroke-width="15.4" stroke-linecap="round" stroke-linejoin="round"/>
<path d="M375 240C375.5 243.1 374 245.5 376.7 251.7C379.4 257.9 379.2 258.9 385 263.3C390.8 267.7 393.8 263.8 398.3 268.3C402.8 272.8 403 274.2 401.7 280C400.4 285.8 400 286.5 393.3 290C386.6 293.5 384.7 293.3 376.7 293.3C368.7 293.3 366.9 290.9 363.3 290" fill="none" stroke="#31d476" stroke-width="7.7" stroke-linecap="round" stroke-linejoin="round"/>
<path d="M440 240.6C445.4 241.7 452.2 241.4 460.3 244.7C468.4 248 467.8 250.6 470.5 252.8" fill="none" stroke="#125a3e" stroke-width="11.5" stroke-linecap="round" stroke-linejoin="round"/>
<path d="M440 240.6C445.4 241.7 452.2 241.4 460.3 244.7C468.4 248 467.8 250.6 470.5 252.8" fill="none" stroke="#22ae78" stroke-width="9.9" stroke-linecap="round" stroke-linejoin="round"/>
<path d="M440 240.6C445.4 241.7 452.2 241.4 460.3 244.7C468.4 248 467.8 250.6 470.5 252.8" fill="none" stroke="#29d090" stroke-width="5" stroke-linecap="round" stroke-linejoin="round"/>
<path d="M452.2 258.9C456.3 259.6 456.3 258.3 464.4 261C472.5 263.7 473.9 263 476.6 267C479.3 271 477.9 272.4 472.5 273.1C467.1 273.8 465.7 273 460.3 269C454.9 265 457.6 263.7 456.3 261" fill="none" stroke="#0e4a58" stroke-width="4.6" stroke-linecap="round" stroke-linejoin="round"/>
<path d="M452.2 258.9C456.3 259.6 456.3 258.3 464.4 261C472.5 263.7 473.9 263 476.6 267C479.3 271 477.9 272.4 472.5 273.1C467.1 273.8 465.7 273 460.3 269C454.9 265 457.6 263.7 456.3 261" fill="none" stroke="#20accb" stroke-width="3" stroke-linecap="round" stroke-linejoin="round"/>
<path d="M409.5 265C414.3 266.3 413.6 267.7 423.8 269C434 270.3 434.6 269 440 269" fill="none" stroke="#10415e" stroke-width="5.1" stroke-linecap="round" stroke-linejoin="round"/>
<path d="M409.5 265C414.3 266.3 413.6 267.7 423.8 269C434 270.3 434.6 269 440 269" fill="none" stroke="#2696db" stroke-width="3.5" stroke-linecap="round" stroke-linejoin="round"/>
<path d="M360 335.6C361.4 337.4 359.6 337 364.2 341.1C368.8 345.2 367.4 346.6 373.9 348C380.4 349.4 380.4 346.2 383.6 345.3" fill="none" stroke="#0f544a" stroke-width="5" stroke-linecap="round" stroke-linejoin="round"/>
<path d="M360 335.6C361.4 337.4 359.6 337 364.2 341.1C368.8 345.2 367.4 346.6 373.9 348C380.4 349.4 380.4 346.2 383.6 345.3" fill="none" stroke="#23c2ac" stroke-width="3.4" stroke-linecap="round" stroke-linejoin="round"/>
<path d="M360 364.7C362.8 366.1 360 368.4 368.3 368.9C376.6 369.4 379.4 367 385 366.1" fill="none" stroke="#0f544a" stroke-width="5" stroke-linecap="round" stroke-linejoin="round"/>
<path d="M360 364.7C362.8 366.1 360 368.4 368.3 368.9C376.6 369.4 379.4 367 385 366.1" fill="none" stroke="#23c2ac" stroke-width="3.4" stroke-linecap="round" stroke-linejoin="round"/>
<path d="M372.5 343.9C373.4 348.5 372.5 348.5 375.3 357.8C378.1 367.1 379.4 362.4 380.8 371.7C382.2 381 379.9 381 379.4 385.6" fill="none" stroke="#10415e" stroke-width="5" stroke-linecap="round" stroke-linejoin="round"/>
<path d="M372.5 343.9C373.4 348.5 372.5 348.5 375.3 357.8C378.1 367.1 379.4 362.4 380.8 371.7C382.2 381 379.9 381 379.4 385.6" fill="none" stroke="#2696db" stroke-width="3.4" stroke-linecap="round" stroke-linejoin="round"/>
<path d="M373.9 395.3C375.7 392.1 375.7 395.8 379.4 385.6C383.1 375.4 382.2 374.9 385 364.7C387.8 354.5 386.9 358.2 387.8 355" fill="none" stroke="#10415e" stroke-width="5" stroke-linecap="round" stroke-linejoin="round"/>
<path d="M373.9 395.3C375.7 392.1 375.7 395.8 379.4 385.6C383.1 375.4 382.2 374.9 385 364.7C387.8 354.5 386.9 358.2 387.8 355" fill="none" stroke="#2696db" stroke-width="3.4" stroke-linecap="round" stroke-linejoin="round"/>
<path d="M373.9 395.3C378.5 394.8 376.2 394.4 387.8 393.9C399.4 393.4 399.3 394.8 408.6 393.9C417.9 393 413.3 392 415.6 391.1" fill="none" stroke="#10415e" stroke-width="5" stroke-linecap="round" stroke-linejoin="round"/>
<path d="M373.9 395.3C378.5 394.8 376.2 394.4 387.8 393.9C399.4 393.4 399.3 394.8 408.6 393.9C417.9 393 413.3 392 415.6 391.1" fill="none" stroke="#2696db" stroke-width="3.4" stroke-linecap="round" stroke-linejoin="round"/>
<path d="M373.9 395.3C378.5 399.5 379.5 401.3 387.8 407.8C396.1 414.3 390.6 414.7 398.9 414.7C407.2 414.7 404.5 411 412.8 407.8C421.1 404.6 415.6 407.8 423.9 405C432.2 402.2 429.5 403.6 437.8 399.4C446.1 395.2 445.2 394.8 448.9 392.5" fill="none" stroke="#10415e" stroke-width="5" stroke-linecap="round" stroke-linejoin="round"/>
<path d="M373.9 395.3C378.5 399.5 379.5 401.3 387.8 407.8C396.1 414.3 390.6 414.7 398.9 414.7C407.2 414.7 404.5 411 412.8 407.8C421.1 404.6 415.6 407.8 423.9 405C432.2 402.2 429.5 403.6 437.8 399.4C446.1 395.2 445.2 394.8 448.9 392.5" fill="none" stroke="#2696db" stroke-width="3.4" stroke-linecap="round" stroke-linejoin="round"/>
<path d="M383.6 338.3C386.8 335.5 402.8 336.7 405.8 338.3C408.8 339.9 403.8 345.2 401.7 348C399.6 350.8 395.9 353.8 393.3 355C390.8 356.2 388 357.8 386.4 355C384.8 352.2 380.4 341.1 383.6 338.3Z" fill="#2696db" stroke="#10415e" stroke-width="0.8" stroke-linejoin="round"/>
<path d="M405.8 343.9C411.4 341.6 419.3 343.5 426.7 346.7C434.1 349.9 429.9 349 428 353.6C426.1 358.2 427.1 360.6 421.1 360.6C415.1 360.6 415.1 359.2 410 353.6C404.9 348 400.2 346.2 405.8 343.9Z" fill="#20aac0" stroke="#0e4953" stroke-width="0.8" stroke-linejoin="round"/>
<path d="M387.8 364.7C393.8 362.4 398.4 362.4 405.8 364.7C413.2 367 410.5 366.6 410 371.7C409.5 376.8 410 377.7 404.4 380C398.8 382.3 398.8 381.4 393.3 378.6C387.8 375.8 389.6 376.3 387.8 371.7C386 367.1 381.8 367 387.8 364.7Z" fill="#20aac0" stroke="#0e4953" stroke-width="0.8" stroke-linejoin="round"/>
<path d="M415.6 385.6C418.4 381.7 418.8 379.8 423.9 380.7C429 381.6 429 382.1 430.8 388.3C432.6 394.5 432.6 395.2 429.4 399.4C426.2 403.6 425.7 403.1 421.1 400.8C416.5 398.5 417.4 397.6 415.6 392.5C413.8 387.4 412.8 389.5 415.6 385.6Z" fill="#2696db" stroke="#10415e" stroke-width="0.8" stroke-linejoin="round"/>
<path d="M466.9 352.2C469.9 352.6 473.2 354.7 478 353.6C482.8 352.5 483.1 349.5 485 348" fill="none" stroke="#10415e" stroke-width="9.3" stroke-linecap="round" stroke-linejoin="round"/>
<path d="M466.9 352.2C469.9 352.6 473.2 354.7 478 353.6C482.8 352.5 483.1 349.5 485 348" fill="none" stroke="#1f7eb7" stroke-width="7.7" stroke-linecap="round" stroke-linejoin="round"/>
<path d="M466.9 352.2C469.9 352.6 473.2 354.7 478 353.6C482.8 352.5 483.1 349.5 485 348" fill="none" stroke="#2696db" stroke-width="3.9" stroke-linecap="round" stroke-linejoin="round"/>
<path d="M482.2 348C484.8 346.9 488.9 346.5 491.9 343.9C494.9 341.3 492.9 339.8 493.3 338.3" fill="none" stroke="#10415e" stroke-width="10.4" stroke-linecap="round" stroke-linejoin="round"/>
<path d="M482.2 348C484.8 346.9 488.9 346.5 491.9 343.9C494.9 341.3 492.9 339.8 493.3 338.3" fill="none" stroke="#1f7eb7" stroke-width="8.8" stroke-linecap="round" stroke-linejoin="round"/>
<path d="M482.2 348C484.8 346.9 488.9 346.5 491.9 343.9C494.9 341.3 492.9 339.8 493.3 338.3" fill="none" stroke="#2696db" stroke-width="4.4" stroke-linecap="round" stroke-linejoin="round"/>
<path d="M493.3 340C492.7 343.2 492.1 345.4 491 352C489.9 358.6 490.8 358.4 489.2 364.7C487.6 371 487.5 369.9 485 375.8C482.5 381.7 483 382.9 480 387C477 391.1 475.5 390 473.9 391.1" fill="none" stroke="#10415e" stroke-width="11.5" stroke-linecap="round" stroke-linejoin="round"/>
<path d="M493.3 340C492.7 343.2 492.1 345.4 491 352C489.9 358.6 490.8 358.4 489.2 364.7C487.6 371 487.5 369.9 485 375.8C482.5 381.7 483 382.9 480 387C477 391.1 475.5 390 473.9 391.1" fill="none" stroke="#1f7eb7" stroke-width="9.9" stroke-linecap="round" stroke-linejoin="round"/>
<path d="M493.3 340C492.7 343.2 492.1 345.4 491 352C489.9 358.6 490.8 358.4 489.2 364.7C487.6 371 487.5 369.9 485 375.8C482.5 381.7 483 382.9 480 387C477 391.1 475.5 390 473.9 391.1" fill="none" stroke="#2696db" stroke-width="5" stroke-linecap="round" stroke-linejoin="round"/>
<path d="M425.3 413.3C428.6 413.3 430.8 414.8 437.8 413.3C444.8 411.8 445.4 412.2 451.7 407.8C458 403.4 458.4 402.6 461.4 396.7C464.4 390.8 462.4 388.6 462.8 385.6" fill="none" stroke="#10415e" stroke-width="14.2" stroke-linecap="round" stroke-linejoin="round"/>
<path d="M425.3 413.3C428.6 413.3 430.8 414.8 437.8 413.3C444.8 411.8 445.4 412.2 451.7 407.8C458 403.4 458.4 402.6 461.4 396.7C464.4 390.8 462.4 388.6 462.8 385.6" fill="none" stroke="#1f7eb7" stroke-width="12.7" stroke-linecap="round" stroke-linejoin="round"/>
<path d="M425.3 413.3C428.6 413.3 430.8 414.8 437.8 413.3C444.8 411.8 445.4 412.2 451.7 407.8C458 403.4 458.4 402.6 461.4 396.7C464.4 390.8 462.4 388.6 462.8 385.6" fill="none" stroke="#2696db" stroke-width="6.3" stroke-linecap="round" stroke-linejoin="round"/>
<path d="M448.9 385.6C446.6 384.2 445.1 385.6 441.9 381.4C438.7 377.2 437.8 378.6 439.2 373C440.6 367.4 441.9 368.4 446.1 364.7C450.3 361 449.8 362.9 451.7 362" fill="none" stroke="#10415e" stroke-width="5" stroke-linecap="round" stroke-linejoin="round"/>
<path d="M448.9 385.6C446.6 384.2 445.1 385.6 441.9 381.4C438.7 377.2 437.8 378.6 439.2 373C440.6 367.4 441.9 368.4 446.1 364.7C450.3 361 449.8 362.9 451.7 362" fill="none" stroke="#2696db" stroke-width="3.4" stroke-linecap="round" stroke-linejoin="round"/>
<path d="M443.3 385.6C446.3 383.7 449.9 378.6 454.4 378.6C458.9 378.6 459.3 381.9 460 385.6C460.7 389.3 460.2 389.9 457.2 392.5C454.2 395.1 451.1 394.6 448.9 395.3" fill="none" stroke="#10415e" stroke-width="8.2" stroke-linecap="round" stroke-linejoin="round"/>
<path d="M443.3 385.6C446.3 383.7 449.9 378.6 454.4 378.6C458.9 378.6 459.3 381.9 460 385.6C460.7 389.3 460.2 389.9 457.2 392.5C454.2 395.1 451.1 394.6 448.9 395.3" fill="none" stroke="#1f7eb7" stroke-width="6.6" stroke-linecap="round" stroke-linejoin="round"/>
<path d="M443.3 385.6C446.3 383.7 449.9 378.6 454.4 378.6C458.9 378.6 459.3 381.9 460 385.6C460.7 389.3 460.2 389.9 457.2 392.5C454.2 395.1 451.1 394.6 448.9 395.3" fill="none" stroke="#2696db" stroke-width="3.3" stroke-linecap="round" stroke-linejoin="round"/>
<path d="M373.9 334.2C383.2 333.7 383.2 331 401.7 332.8C420.2 334.6 414.6 334.2 429.4 339.7C444.2 345.2 436.8 342 446.1 349.4C455.4 356.8 450.7 353.1 457.2 361.9C463.7 370.7 462.7 370.8 465.6 375.8C468.5 380.8 465.8 376.5 466 376.8" fill="none" stroke="#155b33" stroke-width="13.7" stroke-linecap="butt" stroke-linejoin="round"/>
<path d="M373.9 334.2C383.2 333.7 383.2 331 401.7 332.8C420.2 334.6 414.6 334.2 429.4 339.7C444.2 345.2 436.8 342 446.1 349.4C455.4 356.8 450.7 353.1 457.2 361.9C463.7 370.7 462.7 370.8 465.6 375.8C468.5 380.8 465.8 376.5 466 376.8" fill="none" stroke="#29b263" stroke-width="12.1" stroke-linecap="butt" stroke-linejoin="round"/>
<path d="M373.9 334.2C383.2 333.7 383.2 331 401.7 332.8C420.2 334.6 414.6 334.2 429.4 339.7C444.2 345.2 436.8 342 446.1 349.4C455.4 356.8 450.7 353.1 457.2 361.9C463.7 370.7 462.7 370.8 465.6 375.8C468.5 380.8 465.8 376.5 466 376.8" fill="none" stroke="#31d476" stroke-width="6.1" stroke-linecap="butt" stroke-linejoin="round"/>
<path d="M455.1 380.6L470.5 390L476.8 373.1Z" fill="#31d476" stroke="#155b33" stroke-width="0.8" stroke-linejoin="round"/>
<path d="M452.2 346C449.5 342.3 445.3 341.7 442 332C438.7 322.3 437.3 318.9 440 309.7C442.7 300.5 443.5 300.8 452.2 297.5C460.9 294.2 463.8 294.2 472.5 297.5C481.2 300.8 480.4 302.1 484.7 309.7C489 317.3 487.7 321.7 488.8 326" fill="none" stroke="#155b33" stroke-width="15.9" stroke-linecap="round" stroke-linejoin="round"/>
<path d="M452.2 346C449.5 342.3 445.3 341.7 442 332C438.7 322.3 437.3 318.9 440 309.7C442.7 300.5 443.5 300.8 452.2 297.5C460.9 294.2 463.8 294.2 472.5 297.5C481.2 300.8 480.4 302.1 484.7 309.7C489 317.3 487.7 321.7 488.8 326" fill="none" stroke="#29b263" stroke-width="14.3" stroke-linecap="round" stroke-linejoin="round"/>
<path d="M452.2 346C449.5 342.3 445.3 341.7 442 332C438.7 322.3 437.3 318.9 440 309.7C442.7 300.5 443.5 300.8 452.2 297.5C460.9 294.2 463.8 294.2 472.5 297.5C481.2 300.8 480.4 302.1 484.7 309.7C489 317.3 487.7 321.7 488.8 326" fill="none" stroke="#31d476" stroke-width="7.2" stroke-linecap="round" stroke-linejoin="round"/>
<path d="M442 306C441.5 310.9 438.4 315.2 440 324.4C441.6 333.6 442.7 333 448.1 340.6C453.5 348.2 455.4 347.4 460.3 352.8C465.2 358.2 464.8 358.8 466.4 361" fill="none" stroke="#155b33" stroke-width="15.9" stroke-linecap="round" stroke-linejoin="round"/>
<path d="M442 306C441.5 310.9 438.4 315.2 440 324.4C441.6 333.6 442.7 333 448.1 340.6C453.5 348.2 455.4 347.4 460.3 352.8C465.2 358.2 464.8 358.8 466.4 361" fill="none" stroke="#29b263" stroke-width="14.3" stroke-linecap="round" stroke-linejoin="round"/>
<path d="M442 306C441.5 310.9 438.4 315.2 440 324.4C441.6 333.6 442.7 333 448.1 340.6C453.5 348.2 455.4 347.4 460.3 352.8C465.2 358.2 464.8 358.8 466.4 361" fill="none" stroke="#31d476" stroke-width="7.2" stroke-linecap="round" stroke-linejoin="round"/>
<path d="M469.7 385.6C471.6 391.1 469.3 397.6 475.3 402.2C481.3 406.8 478.1 401.7 487.8 399.4C497.5 397.1 497.9 400.8 504.4 395.3C510.9 389.8 508.6 392.1 507.2 382.8C505.8 373.5 507.7 374.9 500.3 367.5C492.9 360.1 494.7 363.8 485 360.6C475.3 357.4 475.7 358.7 471.1 357.8" fill="none" stroke="#155b33" stroke-width="6" stroke-linecap="round" stroke-linejoin="round"/>
<path d="M469.7 385.6C471.6 391.1 469.3 397.6 475.3 402.2C481.3 406.8 478.1 401.7 487.8 399.4C497.5 397.1 497.9 400.8 504.4 395.3C510.9 389.8 508.6 392.1 507.2 382.8C505.8 373.5 507.7 374.9 500.3 367.5C492.9 360.1 494.7 363.8 485 360.6C475.3 357.4 475.7 358.7 471.1 357.8" fill="none" stroke="#31d476" stroke-width="4.4" stroke-linecap="round" stroke-linejoin="round"/>
<path d="M488.8 299.5C495.3 299 502.3 294.8 513.1 297.5C523.9 300.2 524 302.1 529.4 309.7C534.8 317.3 535 317.9 533.4 326C531.8 334.1 531.4 337 523.3 340.2C515.2 343.4 510.8 343 503 338.1C495.2 333.2 496.4 326.3 494 322" fill="none" stroke="#1e5c21" stroke-width="13.7" stroke-linecap="round" stroke-linejoin="round"/>
<path d="M488.8 299.5C495.3 299 502.3 294.8 513.1 297.5C523.9 300.2 524 302.1 529.4 309.7C534.8 317.3 535 317.9 533.4 326C531.8 334.1 531.4 337 523.3 340.2C515.2 343.4 510.8 343 503 338.1C495.2 333.2 496.4 326.3 494 322" fill="none" stroke="#3ab240" stroke-width="12.1" stroke-linecap="round" stroke-linejoin="round"/>
<path d="M488.8 299.5C495.3 299 502.3 294.8 513.1 297.5C523.9 300.2 524 302.1 529.4 309.7C534.8 317.3 535 317.9 533.4 326C531.8 334.1 531.4 337 523.3 340.2C515.2 343.4 510.8 343 503 338.1C495.2 333.2 496.4 326.3 494 322" fill="none" stroke="#46d54d" stroke-width="6.1" stroke-linecap="round" stroke-linejoin="round"/>
<path d="M539.5 240.6C543.3 241.7 546.7 240.4 553.7 244.7C560.7 249 563.2 248.2 565.9 256.9C568.6 265.6 568.2 269.6 563.9 277.2C559.6 284.8 557.8 285.8 549.7 285.3C541.6 284.8 539.4 276.3 533.4 275.2C527.4 274.1 527.3 275.4 527.3 281.3C527.3 287.2 532.8 291 533.4 297.5C534 304 530.5 303.4 529.4 305.6" fill="none" stroke="#356018" stroke-width="13.7" stroke-linecap="round" stroke-linejoin="round"/>
<path d="M539.5 240.6C543.3 241.7 546.7 240.4 553.7 244.7C560.7 249 563.2 248.2 565.9 256.9C568.6 265.6 568.2 269.6 563.9 277.2C559.6 284.8 557.8 285.8 549.7 285.3C541.6 284.8 539.4 276.3 533.4 275.2C527.4 274.1 527.3 275.4 527.3 281.3C527.3 287.2 532.8 291 533.4 297.5C534 304 530.5 303.4 529.4 305.6" fill="none" stroke="#67bb2f" stroke-width="12.1" stroke-linecap="round" stroke-linejoin="round"/>
<path d="M539.5 240.6C543.3 241.7 546.7 240.4 553.7 244.7C560.7 249 563.2 248.2 565.9 256.9C568.6 265.6 568.2 269.6 563.9 277.2C559.6 284.8 557.8 285.8 549.7 285.3C541.6 284.8 539.4 276.3 533.4 275.2C527.4 274.1 527.3 275.4 527.3 281.3C527.3 287.2 532.8 291 533.4 297.5C534 304 530.5 303.4 529.4 305.6" fill="none" stroke="#7bdf38" stroke-width="6.1" stroke-linecap="round" stroke-linejoin="round"/>
<path d="M500.9 291.4C502 289.2 501.7 286 505 283.3C508.3 280.6 510.9 281.8 513.1 281.3" fill="none" stroke="#356018" stroke-width="10.4" stroke-linecap="round" stroke-linejoin="round"/>
<path d="M500.9 291.4C502 289.2 501.7 286 505 283.3C508.3 280.6 510.9 281.8 513.1 281.3" fill="none" stroke="#67bb2f" stroke-width="8.8" stroke-linecap="round" stroke-linejoin="round"/>
<path d="M500.9 291.4C502 289.2 501.7 286 505 283.3C508.3 280.6 510.9 281.8 513.1 281.3" fill="none" stroke="#7bdf38" stroke-width="4.4" stroke-linecap="round" stroke-linejoin="round"/>
<path d="M505 340.6C507 344 501.6 348.1 511.1 350.8C520.6 353.5 523.2 346.1 533.4 348.8C543.6 351.5 535.5 352.1 541.6 358.9C547.7 365.7 542.2 367.7 551.7 369.1C561.2 370.5 563.9 365 570 363" fill="none" stroke="#4c6214" stroke-width="5.6" stroke-linecap="round" stroke-linejoin="round"/>
<path d="M505 340.6C507 344 501.6 348.1 511.1 350.8C520.6 353.5 523.2 346.1 533.4 348.8C543.6 351.5 535.5 352.1 541.6 358.9C547.7 365.7 542.2 367.7 551.7 369.1C561.2 370.5 563.9 365 570 363" fill="none" stroke="#afe22e" stroke-width="4" stroke-linecap="round" stroke-linejoin="round"/>
<path d="M573.8 219.4C575.8 214.1 574.8 211 579.9 203.4C585 195.8 583.4 198.6 589 196.5C594.6 194.4 594.1 197 596.7 197.2" fill="none" stroke="#4b0b05" stroke-width="5.6" stroke-linecap="round" stroke-linejoin="round"/>
<path d="M573.8 219.4C575.8 214.1 574.8 211 579.9 203.4C585 195.8 583.4 198.6 589 196.5C594.6 194.4 594.1 197 596.7 197.2" fill="none" stroke="#ae1b0b" stroke-width="4" stroke-linecap="round" stroke-linejoin="round"/>
<path d="M595.9 198.8C596.9 202.5 595.8 208 599.7 212.5C603.6 217 606.1 216.8 610.4 215.6C614.7 214.4 615.8 212.1 615.8 208C615.8 203.9 611.8 202.4 610.4 200.3" fill="none" stroke="#4b0b05" stroke-width="11.5" stroke-linecap="round" stroke-linejoin="round"/>
<path d="M595.9 198.8C596.9 202.5 595.8 208 599.7 212.5C603.6 217 606.1 216.8 610.4 215.6C614.7 214.4 615.8 212.1 615.8 208C615.8 203.9 611.8 202.4 610.4 200.3" fill="none" stroke="#921609" stroke-width="9.9" stroke-linecap="round" stroke-linejoin="round"/>
<path d="M595.9 198.8C596.9 202.5 595.8 208 599.7 212.5C603.6 217 606.1 216.8 610.4 215.6C614.7 214.4 615.8 212.1 615.8 208C615.8 203.9 611.8 202.4 610.4 200.3" fill="none" stroke="#ae1b0b" stroke-width="5" stroke-linecap="round" stroke-linejoin="round"/>
<path d="M600 204C601.7 198 602.3 198.3 608 199C613.7 199.7 615 200.3 617 206C619 211.7 618.7 212.3 614 216C609.3 219.7 607.7 221 603 217C598.3 213 598.3 210 600 204Z" fill="#ae1b0b" stroke="#4b0b05" stroke-width="0.8" stroke-linejoin="round"/>
<path d="M596.7 197.2C597.1 194.8 595.8 193 598.2 188.1C600.6 183.2 600.5 182.2 605.8 178.9C611.1 175.6 614.8 176.6 618.1 175.8" fill="none" stroke="#4b0b05" stroke-width="11.5" stroke-linecap="round" stroke-linejoin="round"/>
<path d="M596.7 197.2C597.1 194.8 595.8 193 598.2 188.1C600.6 183.2 600.5 182.2 605.8 178.9C611.1 175.6 614.8 176.6 618.1 175.8" fill="none" stroke="#921609" stroke-width="9.9" stroke-linecap="round" stroke-linejoin="round"/>
<path d="M596.7 197.2C597.1 194.8 595.8 193 598.2 188.1C600.6 183.2 600.5 182.2 605.8 178.9C611.1 175.6 614.8 176.6 618.1 175.8" fill="none" stroke="#ae1b0b" stroke-width="5" stroke-linecap="round" stroke-linejoin="round"/>
<path d="M619.6 180.4C621.2 184.9 621.2 193.1 625.7 197.2C630.2 201.3 632.7 198.1 636.4 195.7C640.1 193.3 640.7 192.2 639.5 188.1C638.3 184 633.9 182.5 631.8 180.4" fill="none" stroke="#4b0b05" stroke-width="11.5" stroke-linecap="round" stroke-linejoin="round"/>
<path d="M619.6 180.4C621.2 184.9 621.2 193.1 625.7 197.2C630.2 201.3 632.7 198.1 636.4 195.7C640.1 193.3 640.7 192.2 639.5 188.1C638.3 184 633.9 182.5 631.8 180.4" fill="none" stroke="#921609" stroke-width="9.9" stroke-linecap="round" stroke-linejoin="round"/>
<path d="M619.6 180.4C621.2 184.9 621.2 193.1 625.7 197.2C630.2 201.3 632.7 198.1 636.4 195.7C640.1 193.3 640.7 192.2 639.5 188.1C638.3 184 633.9 182.5 631.8 180.4" fill="none" stroke="#ae1b0b" stroke-width="5" stroke-linecap="round" stroke-linejoin="round"/>
<path d="M622 184C624 177.7 626 178 632 179C638 180 638.7 181 640 187C641.3 193 640.7 193.3 636 197C631.3 200.7 630.7 202.3 626 198C621.3 193.7 620 190.3 622 184Z" fill="#ae1b0b" stroke="#4b0b05" stroke-width="0.8" stroke-linejoin="round"/>
<path d="M618.1 175.8C619.7 174.2 620.1 173 624.2 169.7C628.3 166.4 628.5 164.4 633.4 163.6C638.3 162.8 640.1 165.9 642.5 166.7" fill="none" stroke="#4b0b05" stroke-width="10.4" stroke-linecap="round" stroke-linejoin="round"/>
<path d="M618.1 175.8C619.7 174.2 620.1 173 624.2 169.7C628.3 166.4 628.5 164.4 633.4 163.6C638.3 162.8 640.1 165.9 642.5 166.7" fill="none" stroke="#921609" stroke-width="8.8" stroke-linecap="round" stroke-linejoin="round"/>
<path d="M618.1 175.8C619.7 174.2 620.1 173 624.2 169.7C628.3 166.4 628.5 164.4 633.4 163.6C638.3 162.8 640.1 165.9 642.5 166.7" fill="none" stroke="#ae1b0b" stroke-width="4.4" stroke-linecap="round" stroke-linejoin="round"/>
<path d="M642.5 166.7C646.1 164.7 648.1 166.7 653.2 160.6C658.3 154.5 654.2 153.9 657.8 148.3C661.4 142.7 659.8 143.3 663.9 143.8C668 144.3 667.4 142.8 670 149.9C672.6 157 668 158 671.6 165.1C675.2 172.2 671.2 170.8 680.7 171.3C690.2 171.8 693.6 168.2 700 166.7" fill="none" stroke="#4b0b05" stroke-width="6.1" stroke-linecap="round" stroke-linejoin="round"/>
<path d="M642.5 166.7C646.1 164.7 648.1 166.7 653.2 160.6C658.3 154.5 654.2 153.9 657.8 148.3C661.4 142.7 659.8 143.3 663.9 143.8C668 144.3 667.4 142.8 670 149.9C672.6 157 668 158 671.6 165.1C675.2 172.2 671.2 170.8 680.7 171.3C690.2 171.8 693.6 168.2 700 166.7" fill="none" stroke="#ae1b0b" stroke-width="4.5" stroke-linecap="round" stroke-linejoin="round"/>
<path d="M670 149.9C671.5 145.8 670.5 143.2 674.6 137.6C678.7 132 680.8 131.6 682.3 133.1C683.8 134.6 682.3 137.6 679.2 142.2C676.1 146.8 675.1 145.3 673.1 146.8" fill="none" stroke="#4b0b05" stroke-width="5.6" stroke-linecap="round" stroke-linejoin="round"/>
<path d="M670 149.9C671.5 145.8 670.5 143.2 674.6 137.6C678.7 132 680.8 131.6 682.3 133.1C683.8 134.6 682.3 137.6 679.2 142.2C676.1 146.8 675.1 145.3 673.1 146.8" fill="none" stroke="#ae1b0b" stroke-width="4" stroke-linecap="round" stroke-linejoin="round"/>
<path d="M678.6 86.6C676.6 91.3 675.2 90.7 672.5 100.8C669.8 110.9 667.8 108.2 670.5 117C673.2 125.8 673.2 122.4 680.6 127.2C688 132 684.7 128.6 692.8 131.3C700.9 134 702.3 131.9 705 135.3C707.7 138.7 707.1 139.4 701 141.4C694.9 143.4 693.5 140 686.7 141.4C679.9 142.8 681.3 140.8 680.6 145.5C679.9 150.2 677.9 152.9 684.7 155.6C691.5 158.3 690.2 157 701 153.6C711.8 150.2 707.7 151.6 717.2 145.5C726.7 139.4 725.3 138.7 729.4 135.3" fill="none" stroke="#64440f" stroke-width="5.2" stroke-linecap="round" stroke-linejoin="round"/>
<path d="M678.6 86.6C676.6 91.3 675.2 90.7 672.5 100.8C669.8 110.9 667.8 108.2 670.5 117C673.2 125.8 673.2 122.4 680.6 127.2C688 132 684.7 128.6 692.8 131.3C700.9 134 702.3 131.9 705 135.3C707.7 138.7 707.1 139.4 701 141.4C694.9 143.4 693.5 140 686.7 141.4C679.9 142.8 681.3 140.8 680.6 145.5C679.9 150.2 677.9 152.9 684.7 155.6C691.5 158.3 690.2 157 701 153.6C711.8 150.2 707.7 151.6 717.2 145.5C726.7 139.4 725.3 138.7 729.4 135.3" fill="none" stroke="#e89e23" stroke-width="3.6" stroke-linecap="round" stroke-linejoin="round"/>
<path d="M684.7 155.6C686 161 686 163.1 688.7 171.9C691.4 180.7 692.1 178.5 692.8 182C693.5 185.5 688.1 185.7 690.8 182.5C693.5 179.3 693.6 177.7 701 172.3C708.4 166.9 709.1 168.2 713.1 166.2" fill="none" stroke="#64440f" stroke-width="5.2" stroke-linecap="round" stroke-linejoin="round"/>
<path d="M684.7 155.6C686 161 686 163.1 688.7 171.9C691.4 180.7 692.1 178.5 692.8 182C693.5 185.5 688.1 185.7 690.8 182.5C693.5 179.3 693.6 177.7 701 172.3C708.4 166.9 709.1 168.2 713.1 166.2" fill="none" stroke="#e89e23" stroke-width="3.6" stroke-linecap="round" stroke-linejoin="round"/>
<path d="M701 163.8C703.7 165.1 700.9 167.1 709 167.8C717.1 168.5 719.9 166.5 725.3 165.8" fill="none" stroke="#64440f" stroke-width="5.2" stroke-linecap="round" stroke-linejoin="round"/>
<path d="M701 163.8C703.7 165.1 700.9 167.1 709 167.8C717.1 168.5 719.9 166.5 725.3 165.8" fill="none" stroke="#e89e23" stroke-width="3.6" stroke-linecap="round" stroke-linejoin="round"/>
<path d="M662.3 127.2C664.5 125.6 664.5 122.2 670.5 121.1C676.5 120 676.6 120.4 684.7 123.1C692.8 125.8 696.7 129.1 701 131.3" fill="none" stroke="#64440f" stroke-width="9.3" stroke-linecap="round" stroke-linejoin="round"/>
<path d="M662.3 127.2C664.5 125.6 664.5 122.2 670.5 121.1C676.5 120 676.6 120.4 684.7 123.1C692.8 125.8 696.7 129.1 701 131.3" fill="none" stroke="#c2841d" stroke-width="7.7" stroke-linecap="round" stroke-linejoin="round"/>
<path d="M662.3 127.2C664.5 125.6 664.5 122.2 670.5 121.1C676.5 120 676.6 120.4 684.7 123.1C692.8 125.8 696.7 129.1 701 131.3" fill="none" stroke="#e89e23" stroke-width="3.9" stroke-linecap="round" stroke-linejoin="round"/>
<path d="M662.3 127.2C663.4 129.9 662.6 133.5 666.4 137.3C670.2 141.1 673.9 140.3 676.6 141.4" fill="none" stroke="#64440f" stroke-width="8.2" stroke-linecap="round" stroke-linejoin="round"/>
<path d="M662.3 127.2C663.4 129.9 662.6 133.5 666.4 137.3C670.2 141.1 673.9 140.3 676.6 141.4" fill="none" stroke="#c2841d" stroke-width="6.6" stroke-linecap="round" stroke-linejoin="round"/>
<path d="M662.3 127.2C663.4 129.9 662.6 133.5 666.4 137.3C670.2 141.1 673.9 140.3 676.6 141.4" fill="none" stroke="#e89e23" stroke-width="3.3" stroke-linecap="round" stroke-linejoin="round"/>
<path d="M784.2 68.3C786.2 72.4 786.9 73.1 790.3 80.5C793.7 87.9 794.4 85.2 794.4 90.6C794.4 96 791.7 94.7 790.3 96.7" fill="none" stroke="#615313" stroke-width="5.2" stroke-linecap="round" stroke-linejoin="round"/>
<path d="M784.2 68.3C786.2 72.4 786.9 73.1 790.3 80.5C793.7 87.9 794.4 85.2 794.4 90.6C794.4 96 791.7 94.7 790.3 96.7" fill="none" stroke="#e1c02c" stroke-width="3.6" stroke-linecap="round" stroke-linejoin="round"/>
<path d="M794.4 90.6C799.1 93.3 800.5 98.8 808.6 98.8C816.7 98.8 811.9 95.4 818.7 90.6C825.5 85.8 824.8 81.1 828.9 84.5C833 87.9 830.2 89.3 830.9 100.8C831.6 112.3 827.5 111 830.9 119.1C834.3 127.2 833.6 125.2 841.1 125.2C848.6 125.2 851.3 123.8 853.3 119.1C855.3 114.4 845.2 116.4 847.2 111C849.2 105.6 850.6 106.9 859.4 102.8C868.2 98.7 868.9 98.1 873.6 98.8C878.3 99.5 877.7 101.5 873.6 104.9C869.5 108.3 860.7 104.9 861.4 108.9C862.1 112.9 868.8 110.9 875.6 117C882.4 123.1 881.7 119.1 881.7 127.2C881.7 135.3 881.7 135.3 875.6 141.4C869.5 147.5 874.2 144.8 863.4 145.5C852.6 146.2 849.9 144.1 843.1 143.4" fill="none" stroke="#615313" stroke-width="5.2" stroke-linecap="round" stroke-linejoin="round"/>
<path d="M794.4 90.6C799.1 93.3 800.5 98.8 808.6 98.8C816.7 98.8 811.9 95.4 818.7 90.6C825.5 85.8 824.8 81.1 828.9 84.5C833 87.9 830.2 89.3 830.9 100.8C831.6 112.3 827.5 111 830.9 119.1C834.3 127.2 833.6 125.2 841.1 125.2C848.6 125.2 851.3 123.8 853.3 119.1C855.3 114.4 845.2 116.4 847.2 111C849.2 105.6 850.6 106.9 859.4 102.8C868.2 98.7 868.9 98.1 873.6 98.8C878.3 99.5 877.7 101.5 873.6 104.9C869.5 108.3 860.7 104.9 861.4 108.9C862.1 112.9 868.8 110.9 875.6 117C882.4 123.1 881.7 119.1 881.7 127.2C881.7 135.3 881.7 135.3 875.6 141.4C869.5 147.5 874.2 144.8 863.4 145.5C852.6 146.2 849.9 144.1 843.1 143.4" fill="none" stroke="#e1c02c" stroke-width="3.6" stroke-linecap="round" stroke-linejoin="round"/>
<path d="M777 93L792 99L789 104L775 98Z" fill="#e1c02c" stroke="#615313" stroke-width="0.8" stroke-linejoin="round"/>
<path d="M845 143C840.7 145.3 836.4 145 828.9 151.6C821.4 158.2 822.6 158.1 816.7 167.8C810.8 177.5 811.3 178.2 806.6 188.1C801.9 198 801 200.5 799 205" fill="none" stroke="#615313" stroke-width="14.8" stroke-linecap="butt" stroke-linejoin="round"/>
<path d="M845 143C840.7 145.3 836.4 145 828.9 151.6C821.4 158.2 822.6 158.1 816.7 167.8C810.8 177.5 811.3 178.2 806.6 188.1C801.9 198 801 200.5 799 205" fill="none" stroke="#bda124" stroke-width="13.2" stroke-linecap="butt" stroke-linejoin="round"/>
<path d="M845 143C840.7 145.3 836.4 145 828.9 151.6C821.4 158.2 822.6 158.1 816.7 167.8C810.8 177.5 811.3 178.2 806.6 188.1C801.9 198 801 200.5 799 205" fill="none" stroke="#e1c02c" stroke-width="6.6" stroke-linecap="butt" stroke-linejoin="round"/>
<path d="M786.7 116.7C788.9 117.8 787.2 119.5 793.3 120C799.4 120.5 800.5 116.1 805 118.3C809.5 120.5 806.1 123.9 806.7 126.7" fill="none" stroke="#65350d" stroke-width="5.6" stroke-linecap="round" stroke-linejoin="round"/>
<path d="M786.7 116.7C788.9 117.8 787.2 119.5 793.3 120C799.4 120.5 800.5 116.1 805 118.3C809.5 120.5 806.1 123.9 806.7 126.7" fill="none" stroke="#ea7c1e" stroke-width="4" stroke-linecap="round" stroke-linejoin="round"/>
<path d="M786.7 120C784.9 125.3 784 129.3 780 140C776 150.7 775.2 150.2 771.7 160C768.2 169.8 768 172.2 766.7 176.7" fill="none" stroke="#65350d" stroke-width="12.1" stroke-linecap="butt" stroke-linejoin="round"/>
<path d="M786.7 120C784.9 125.3 784 129.3 780 140C776 150.7 775.2 150.2 771.7 160C768.2 169.8 768 172.2 766.7 176.7" fill="none" stroke="#c46819" stroke-width="10.5" stroke-linecap="butt" stroke-linejoin="round"/>
<path d="M786.7 120C784.9 125.3 784 129.3 780 140C776 150.7 775.2 150.2 771.7 160C768.2 169.8 768 172.2 766.7 176.7" fill="none" stroke="#ea7c1e" stroke-width="5.2" stroke-linecap="butt" stroke-linejoin="round"/>
<path d="M798 127C801.3 123.4 807 126 809.6 128C812.2 130 811.7 133.2 811 137C810.3 140.8 808.4 144 806 147C803.6 150 801.6 152.2 799 152C796.4 151.8 793.2 151 793 146C792.8 141 794.7 130.6 798 127Z" fill="#ea7c1e" stroke="#65350d" stroke-width="0.8" stroke-linejoin="round"/>
<path d="M806.7 130C803.1 136.2 799.5 140.8 793.3 153.3C787.1 165.8 786.8 166.3 783.3 176.7C779.8 187.1 781 188.1 780.2 192.2" fill="none" stroke="#65350d" stroke-width="14.8" stroke-linecap="butt" stroke-linejoin="round"/>
<path d="M806.7 130C803.1 136.2 799.5 140.8 793.3 153.3C787.1 165.8 786.8 166.3 783.3 176.7C779.8 187.1 781 188.1 780.2 192.2" fill="none" stroke="#c46819" stroke-width="13.2" stroke-linecap="butt" stroke-linejoin="round"/>
<path d="M806.7 130C803.1 136.2 799.5 140.8 793.3 153.3C787.1 165.8 786.8 166.3 783.3 176.7C779.8 187.1 781 188.1 780.2 192.2" fill="none" stroke="#ea7c1e" stroke-width="6.6" stroke-linecap="butt" stroke-linejoin="round"/>
<path d="M781 140L790 131L795 140L789 150Z" fill="#ea7c1e" stroke="#65350d" stroke-width="0.8" stroke-linejoin="round"/>
<path d="M678.6 86.6C682.4 86 684.7 86.1 692.8 84.5C700.9 82.9 701.4 80.5 709 80.5C716.6 80.5 721.8 80.7 721.3 84.5C720.8 88.3 712.4 89.8 707 94.7C701.6 99.6 702.6 100.6 701 102.8" fill="none" stroke="#64440f" stroke-width="11.5" stroke-linecap="round" stroke-linejoin="round"/>
<path d="M678.6 86.6C682.4 86 684.7 86.1 692.8 84.5C700.9 82.9 701.4 80.5 709 80.5C716.6 80.5 721.8 80.7 721.3 84.5C720.8 88.3 712.4 89.8 707 94.7C701.6 99.6 702.6 100.6 701 102.8" fill="none" stroke="#c2841d" stroke-width="9.9" stroke-linecap="round" stroke-linejoin="round"/>
<path d="M678.6 86.6C682.4 86 684.7 86.1 692.8 84.5C700.9 82.9 701.4 80.5 709 80.5C716.6 80.5 721.8 80.7 721.3 84.5C720.8 88.3 712.4 89.8 707 94.7C701.6 99.6 702.6 100.6 701 102.8" fill="none" stroke="#e89e23" stroke-width="5" stroke-linecap="round" stroke-linejoin="round"/>
<ellipse cx="718.2" cy="107.9" rx="8" ry="8" fill="none" stroke="#64440f" stroke-width="7.6"/>
<ellipse cx="718.2" cy="107.9" rx="8" ry="8" fill="none" stroke="#e89e23" stroke-width="6"/>
<ellipse cx="745" cy="84" rx="17" ry="10" fill="none" stroke="#64440f" stroke-width="11.1" transform="rotate(8 745 84)"/>
<ellipse cx="745" cy="84" rx="17" ry="10" fill="none" stroke="#e89e23" stroke-width="9.5" transform="rotate(8 745 84)"/>
<path d="M753.8 98.8C751.1 103.5 750.9 103.6 745.6 113C740.3 122.4 740.4 122.5 738 127C735.6 131.5 738.2 126.6 738.4 126.4" fill="none" stroke="#64440f" stroke-width="12.6" stroke-linecap="butt" stroke-linejoin="round"/>
<path d="M753.8 98.8C751.1 103.5 750.9 103.6 745.6 113C740.3 122.4 740.4 122.5 738 127C735.6 131.5 738.2 126.6 738.4 126.4" fill="none" stroke="#c2841d" stroke-width="11" stroke-linecap="butt" stroke-linejoin="round"/>
<path d="M753.8 98.8C751.1 103.5 750.9 103.6 745.6 113C740.3 122.4 740.4 122.5 738 127C735.6 131.5 738.2 126.6 738.4 126.4" fill="none" stroke="#e89e23" stroke-width="5.5" stroke-linecap="butt" stroke-linejoin="round"/>
<path d="M729.6 120.7L731.4 137L747.1 132.2Z" fill="#e89e23" stroke="#64440f" stroke-width="0.8" stroke-linejoin="round"/>
<path d="M753.8 96.7C758.1 97.3 764.3 94.5 770 98.8C775.7 103.1 774.6 104.3 775.1 113C775.6 121.7 775.5 124.8 772 131.3C768.5 137.8 768.4 137.3 761.9 137.3C755.4 137.3 752 134.5 747.7 131.3C743.4 128.1 742.9 127.4 745.6 125.2C748.3 123 751.8 122 757.8 123.1C763.8 124.2 765.3 127.6 768 129.2" fill="none" stroke="#64440f" stroke-width="11.5" stroke-linecap="round" stroke-linejoin="round"/>
<path d="M753.8 96.7C758.1 97.3 764.3 94.5 770 98.8C775.7 103.1 774.6 104.3 775.1 113C775.6 121.7 775.5 124.8 772 131.3C768.5 137.8 768.4 137.3 761.9 137.3C755.4 137.3 752 134.5 747.7 131.3C743.4 128.1 742.9 127.4 745.6 125.2C748.3 123 751.8 122 757.8 123.1C763.8 124.2 765.3 127.6 768 129.2" fill="none" stroke="#c2841d" stroke-width="9.9" stroke-linecap="round" stroke-linejoin="round"/>
<path d="M753.8 96.7C758.1 97.3 764.3 94.5 770 98.8C775.7 103.1 774.6 104.3 775.1 113C775.6 121.7 775.5 124.8 772 131.3C768.5 137.8 768.4 137.3 761.9 137.3C755.4 137.3 752 134.5 747.7 131.3C743.4 128.1 742.9 127.4 745.6 125.2C748.3 123 751.8 122 757.8 123.1C763.8 124.2 765.3 127.6 768 129.2" fill="none" stroke="#e89e23" stroke-width="5" stroke-linecap="round" stroke-linejoin="round"/>
<path d="M783.5 95C781.7 101.2 780.8 106.8 776.7 118.3C772.6 129.8 770.3 132.7 768 138" fill="none" stroke="#615313" stroke-width="12.1" stroke-linecap="butt" stroke-linejoin="round"/>
<path d="M783.5 95C781.7 101.2 780.8 106.8 776.7 118.3C772.6 129.8 770.3 132.7 768 138" fill="none" stroke="#bda124" stroke-width="10.5" stroke-linecap="butt" stroke-linejoin="round"/>
<path d="M783.5 95C781.7 101.2 780.8 106.8 776.7 118.3C772.6 129.8 770.3 132.7 768 138" fill="none" stroke="#e1c02c" stroke-width="5.2" stroke-linecap="butt" stroke-linejoin="round"/>
<path d="M761.9 137.3C764.1 140 768.9 140.4 770 147.5C771.1 154.6 771.4 159.5 766 163.8C760.6 168.1 756.8 166 749.7 163.8C742.6 161.6 740.6 159.4 739.5 155.6C738.4 151.8 740.2 150.6 745.6 149.5C751 148.4 756 151 759.8 151.6" fill="none" stroke="#64440f" stroke-width="10.4" stroke-linecap="round" stroke-linejoin="round"/>
<path d="M761.9 137.3C764.1 140 768.9 140.4 770 147.5C771.1 154.6 771.4 159.5 766 163.8C760.6 168.1 756.8 166 749.7 163.8C742.6 161.6 740.6 159.4 739.5 155.6C738.4 151.8 740.2 150.6 745.6 149.5C751 148.4 756 151 759.8 151.6" fill="none" stroke="#c2841d" stroke-width="8.8" stroke-linecap="round" stroke-linejoin="round"/>
<path d="M761.9 137.3C764.1 140 768.9 140.4 770 147.5C771.1 154.6 771.4 159.5 766 163.8C760.6 168.1 756.8 166 749.7 163.8C742.6 161.6 740.6 159.4 739.5 155.6C738.4 151.8 740.2 150.6 745.6 149.5C751 148.4 756 151 759.8 151.6" fill="none" stroke="#e89e23" stroke-width="4.4" stroke-linecap="round" stroke-linejoin="round"/>
<path d="M766 163.8C767.1 168.1 772.2 172.4 770 180C767.8 187.6 766.5 189.5 757.8 192.2C749.1 194.9 746.2 192.4 737.5 190.2C728.8 188 728.6 185.7 725.3 184" fill="none" stroke="#64440f" stroke-width="10.4" stroke-linecap="round" stroke-linejoin="round"/>
<path d="M766 163.8C767.1 168.1 772.2 172.4 770 180C767.8 187.6 766.5 189.5 757.8 192.2C749.1 194.9 746.2 192.4 737.5 190.2C728.8 188 728.6 185.7 725.3 184" fill="none" stroke="#c2841d" stroke-width="8.8" stroke-linecap="round" stroke-linejoin="round"/>
<path d="M766 163.8C767.1 168.1 772.2 172.4 770 180C767.8 187.6 766.5 189.5 757.8 192.2C749.1 194.9 746.2 192.4 737.5 190.2C728.8 188 728.6 185.7 725.3 184" fill="none" stroke="#e89e23" stroke-width="4.4" stroke-linecap="round" stroke-linejoin="round"/>
<path d="M727.3 196.7C730 198.3 728.3 203.3 737.5 202.8C746.7 202.3 753.2 195.8 761.9 194.7C770.6 193.6 767.8 197.7 770 198.8" fill="none" stroke="#65350d" stroke-width="11.5" stroke-linecap="round" stroke-linejoin="round"/>
<path d="M727.3 196.7C730 198.3 728.3 203.3 737.5 202.8C746.7 202.3 753.2 195.8 761.9 194.7C770.6 193.6 767.8 197.7 770 198.8" fill="none" stroke="#c46819" stroke-width="9.9" stroke-linecap="round" stroke-linejoin="round"/>
<path d="M727.3 196.7C730 198.3 728.3 203.3 737.5 202.8C746.7 202.3 753.2 195.8 761.9 194.7C770.6 193.6 767.8 197.7 770 198.8" fill="none" stroke="#ea7c1e" stroke-width="5" stroke-linecap="round" stroke-linejoin="round"/>
<path d="M790.3 169.9C792.3 173.4 792.3 171.6 796.4 180.5C800.5 189.4 797.8 189.3 802.5 196.7C807.2 204.1 803.8 199.4 810.6 202.8C817.4 206.2 814.7 204.9 822.8 206.9C830.9 208.9 828.9 205.5 835 208.9C841.1 212.3 842.5 213.6 841.1 217C839.7 220.4 838.4 221.1 830.9 219.1C823.4 217.1 822.8 213.6 818.7 210.9" fill="none" stroke="#63270a" stroke-width="5.1" stroke-linecap="round" stroke-linejoin="round"/>
<path d="M790.3 169.9C792.3 173.4 792.3 171.6 796.4 180.5C800.5 189.4 797.8 189.3 802.5 196.7C807.2 204.1 803.8 199.4 810.6 202.8C817.4 206.2 814.7 204.9 822.8 206.9C830.9 208.9 828.9 205.5 835 208.9C841.1 212.3 842.5 213.6 841.1 217C839.7 220.4 838.4 221.1 830.9 219.1C823.4 217.1 822.8 213.6 818.7 210.9" fill="none" stroke="#e65b19" stroke-width="3.5" stroke-linecap="round" stroke-linejoin="round"/>
<path d="M802.5 210.9C801.8 215.7 800.5 217.1 800.5 225.2C800.5 233.3 797.8 230.6 802.5 235.3C807.2 240 807.9 240.7 814.7 239.4C821.5 238.1 818.7 238.1 822.8 231.3C826.9 224.5 825.5 223.2 826.9 219.1" fill="none" stroke="#63270a" stroke-width="5.1" stroke-linecap="round" stroke-linejoin="round"/>
<path d="M802.5 210.9C801.8 215.7 800.5 217.1 800.5 225.2C800.5 233.3 797.8 230.6 802.5 235.3C807.2 240 807.9 240.7 814.7 239.4C821.5 238.1 818.7 238.1 822.8 231.3C826.9 224.5 825.5 223.2 826.9 219.1" fill="none" stroke="#e65b19" stroke-width="3.5" stroke-linecap="round" stroke-linejoin="round"/>
<path d="M801 212L812 214" fill="none" stroke="#63270a" stroke-width="9.3" stroke-linecap="round" stroke-linejoin="round"/>
<path d="M801 212L812 214" fill="none" stroke="#c14c15" stroke-width="7.7" stroke-linecap="round" stroke-linejoin="round"/>
<path d="M801 212L812 214" fill="none" stroke="#e65b19" stroke-width="3.9" stroke-linecap="round" stroke-linejoin="round"/>
<path d="M803 231L818 234" fill="none" stroke="#63270a" stroke-width="9.3" stroke-linecap="round" stroke-linejoin="round"/>
<path d="M803 231L818 234" fill="none" stroke="#c14c15" stroke-width="7.7" stroke-linecap="round" stroke-linejoin="round"/>
<path d="M803 231L818 234" fill="none" stroke="#e65b19" stroke-width="3.9" stroke-linecap="round" stroke-linejoin="round"/>
<path d="M815 195.8C818.9 193.2 820.2 192.6 826.7 188.1C833.2 183.6 831.9 184.2 834.5 182.2" fill="none" stroke="#63270a" stroke-width="5.1" stroke-linecap="round" stroke-linejoin="round"/>
<path d="M815 195.8C818.9 193.2 820.2 192.6 826.7 188.1C833.2 183.6 831.9 184.2 834.5 182.2" fill="none" stroke="#e65b19" stroke-width="3.5" stroke-linecap="round" stroke-linejoin="round"/>
<path d="M865.6 143.3C869.5 146.6 872 146.6 877.2 153.1C882.4 159.6 881.7 156.3 881.1 162.8C880.5 169.3 875.3 164.7 875.3 172.5C875.3 180.3 879.8 179 881.1 186.1C882.4 193.2 879.8 191.3 879.2 193.9" fill="none" stroke="#63270a" stroke-width="6.6" stroke-linecap="round" stroke-linejoin="round"/>
<path d="M865.6 143.3C869.5 146.6 872 146.6 877.2 153.1C882.4 159.6 881.7 156.3 881.1 162.8C880.5 169.3 875.3 164.7 875.3 172.5C875.3 180.3 879.8 179 881.1 186.1C882.4 193.2 879.8 191.3 879.2 193.9" fill="none" stroke="#e65b19" stroke-width="5" stroke-linecap="round" stroke-linejoin="round"/>
<path d="M865.6 143.3C864.9 148.5 863.6 151.1 863.6 158.9C863.6 166.7 864.9 164.1 865.6 166.7" fill="none" stroke="#63270a" stroke-width="5.6" stroke-linecap="round" stroke-linejoin="round"/>
<path d="M865.6 143.3C864.9 148.5 863.6 151.1 863.6 158.9C863.6 166.7 864.9 164.1 865.6 166.7" fill="none" stroke="#e65b19" stroke-width="4" stroke-linecap="round" stroke-linejoin="round"/>
<path d="M838.3 166.7C841.4 167.2 843.3 168.5 850 168.5C856.7 168.5 860 167.2 863.6 166.7" fill="none" stroke="#63270a" stroke-width="10.4" stroke-linecap="round" stroke-linejoin="round"/>
<path d="M838.3 166.7C841.4 167.2 843.3 168.5 850 168.5C856.7 168.5 860 167.2 863.6 166.7" fill="none" stroke="#c14c15" stroke-width="8.8" stroke-linecap="round" stroke-linejoin="round"/>
<path d="M838.3 166.7C841.4 167.2 843.3 168.5 850 168.5C856.7 168.5 860 167.2 863.6 166.7" fill="none" stroke="#e65b19" stroke-width="4.4" stroke-linecap="round" stroke-linejoin="round"/>
<path d="M834.5 182.2C837.1 183.2 839.5 183.5 844.2 186.1C848.9 188.7 849.4 188.9 852 192C854.6 195.1 853.4 196.3 853.9 197.8" fill="none" stroke="#63270a" stroke-width="10.4" stroke-linecap="round" stroke-linejoin="round"/>
<path d="M834.5 182.2C837.1 183.2 839.5 183.5 844.2 186.1C848.9 188.7 849.4 188.9 852 192C854.6 195.1 853.4 196.3 853.9 197.8" fill="none" stroke="#c14c15" stroke-width="8.8" stroke-linecap="round" stroke-linejoin="round"/>
<path d="M834.5 182.2C837.1 183.2 839.5 183.5 844.2 186.1C848.9 188.7 849.4 188.9 852 192C854.6 195.1 853.4 196.3 853.9 197.8" fill="none" stroke="#e65b19" stroke-width="4.4" stroke-linecap="round" stroke-linejoin="round"/>
<path d="M879.2 193.9C875.6 194.4 872.3 194.3 865.6 195.8C858.9 197.3 858.1 195.5 853.9 199.7C849.7 203.9 849 205.7 850 211.4C851 217.1 854.2 216.4 857.8 221.1C861.4 225.8 859.5 225.8 863.6 228.9C867.7 232 870.7 231.8 873.3 232.8" fill="none" stroke="#63270a" stroke-width="12.6" stroke-linecap="round" stroke-linejoin="round"/>
<path d="M879.2 193.9C875.6 194.4 872.3 194.3 865.6 195.8C858.9 197.3 858.1 195.5 853.9 199.7C849.7 203.9 849 205.7 850 211.4C851 217.1 854.2 216.4 857.8 221.1C861.4 225.8 859.5 225.8 863.6 228.9C867.7 232 870.7 231.8 873.3 232.8" fill="none" stroke="#c14c15" stroke-width="11" stroke-linecap="round" stroke-linejoin="round"/>
<path d="M879.2 193.9C875.6 194.4 872.3 194.3 865.6 195.8C858.9 197.3 858.1 195.5 853.9 199.7C849.7 203.9 849 205.7 850 211.4C851 217.1 854.2 216.4 857.8 221.1C861.4 225.8 859.5 225.8 863.6 228.9C867.7 232 870.7 231.8 873.3 232.8" fill="none" stroke="#e65b19" stroke-width="5.5" stroke-linecap="round" stroke-linejoin="round"/>
<ellipse cx="850" cy="233.5" rx="10" ry="10" fill="none" stroke="#63270a" stroke-width="5.6"/>
<ellipse cx="850" cy="233.5" rx="10" ry="10" fill="none" stroke="#e65b19" stroke-width="4"/>
<path d="M764 182C766.1 187.6 769.6 191.8 772 203C774.4 214.2 775.1 214.1 773 224C770.9 233.9 766.4 235.7 764 240" fill="none" stroke="#5b300b" stroke-width="12.6" stroke-linecap="round" stroke-linejoin="round"/>
<path d="M764 182C766.1 187.6 769.6 191.8 772 203C774.4 214.2 775.1 214.1 773 224C770.9 233.9 766.4 235.7 764 240" fill="none" stroke="#b05d15" stroke-width="11" stroke-linecap="round" stroke-linejoin="round"/>
<path d="M764 182C766.1 187.6 769.6 191.8 772 203C774.4 214.2 775.1 214.1 773 224C770.9 233.9 766.4 235.7 764 240" fill="none" stroke="#d26f1a" stroke-width="5.5" stroke-linecap="round" stroke-linejoin="round"/>
<path d="M772 176.4C774.7 182.5 775.4 181.8 780.2 194.7C785 207.6 785.6 202.8 786.3 215C787 227.2 787.6 221.8 782.2 231.3C776.8 240.8 774.3 239.2 770 243.4C765.7 247.6 769.5 243.8 769.2 244" fill="none" stroke="#65350d" stroke-width="14.8" stroke-linecap="butt" stroke-linejoin="round"/>
<path d="M772 176.4C774.7 182.5 775.4 181.8 780.2 194.7C785 207.6 785.6 202.8 786.3 215C787 227.2 787.6 221.8 782.2 231.3C776.8 240.8 774.3 239.2 770 243.4C765.7 247.6 769.5 243.8 769.2 244" fill="none" stroke="#c46819" stroke-width="13.2" stroke-linecap="butt" stroke-linejoin="round"/>
<path d="M772 176.4C774.7 182.5 775.4 181.8 780.2 194.7C785 207.6 785.6 202.8 786.3 215C787 227.2 787.6 221.8 782.2 231.3C776.8 240.8 774.3 239.2 770 243.4C765.7 247.6 769.5 243.8 769.2 244" fill="none" stroke="#ea7c1e" stroke-width="6.6" stroke-linecap="butt" stroke-linejoin="round"/>
<path d="M761.8 233.9L757 253L776.7 254.1Z" fill="#ea7c1e" stroke="#65350d" stroke-width="0.8" stroke-linejoin="round"/>
<path d="M698.9 172.3C701.6 176.1 711.2 181.2 709 186.6C706.8 192 692.9 188.9 690.8 192.7C688.7 196.5 691.8 198.6 701 200.8C710.2 203 717.7 198.1 725.3 200.8C732.9 203.5 732.7 206 729.4 210.9C726.1 215.8 716.4 213.7 713.1 219.1C709.8 224.5 709.6 227.5 717.2 231.3C724.8 235.1 733.5 229.5 741.6 233.3C749.7 237.1 749.3 240.1 747.7 245.5C746.1 250.9 738.8 251.4 735.5 253.6" fill="none" stroke="#5a1508" stroke-width="14.8" stroke-linecap="round" stroke-linejoin="round"/>
<path d="M698.9 172.3C701.6 176.1 711.2 181.2 709 186.6C706.8 192 692.9 188.9 690.8 192.7C688.7 196.5 691.8 198.6 701 200.8C710.2 203 717.7 198.1 725.3 200.8C732.9 203.5 732.7 206 729.4 210.9C726.1 215.8 716.4 213.7 713.1 219.1C709.8 224.5 709.6 227.5 717.2 231.3C724.8 235.1 733.5 229.5 741.6 233.3C749.7 237.1 749.3 240.1 747.7 245.5C746.1 250.9 738.8 251.4 735.5 253.6" fill="none" stroke="#af2a0f" stroke-width="13.2" stroke-linecap="round" stroke-linejoin="round"/>
<path d="M698.9 172.3C701.6 176.1 711.2 181.2 709 186.6C706.8 192 692.9 188.9 690.8 192.7C688.7 196.5 691.8 198.6 701 200.8C710.2 203 717.7 198.1 725.3 200.8C732.9 203.5 732.7 206 729.4 210.9C726.1 215.8 716.4 213.7 713.1 219.1C709.8 224.5 709.6 227.5 717.2 231.3C724.8 235.1 733.5 229.5 741.6 233.3C749.7 237.1 749.3 240.1 747.7 245.5C746.1 250.9 738.8 251.4 735.5 253.6" fill="none" stroke="#d13213" stroke-width="6.6" stroke-linecap="round" stroke-linejoin="round"/>
<path d="M735.5 253.6C732.8 256.3 726.9 256.8 725.3 263.8C723.7 270.8 728.3 275.7 729.4 280" fill="none" stroke="#5a1508" stroke-width="10.4" stroke-linecap="round" stroke-linejoin="round"/>
<path d="M735.5 253.6C732.8 256.3 726.9 256.8 725.3 263.8C723.7 270.8 728.3 275.7 729.4 280" fill="none" stroke="#af2a0f" stroke-width="8.8" stroke-linecap="round" stroke-linejoin="round"/>
<path d="M735.5 253.6C732.8 256.3 726.9 256.8 725.3 263.8C723.7 270.8 728.3 275.7 729.4 280" fill="none" stroke="#d13213" stroke-width="4.4" stroke-linecap="round" stroke-linejoin="round"/>
<path d="M735.5 253.6C738.9 257.7 735.4 262.4 745.6 265.8C755.8 269.2 757.2 260.4 766 263.8C774.8 267.2 773.4 267.8 772 275.9C770.6 284 765.3 284 761.9 288.1" fill="none" stroke="#5a1508" stroke-width="5.1" stroke-linecap="round" stroke-linejoin="round"/>
<path d="M735.5 253.6C738.9 257.7 735.4 262.4 745.6 265.8C755.8 269.2 757.2 260.4 766 263.8C774.8 267.2 773.4 267.8 772 275.9C770.6 284 765.3 284 761.9 288.1" fill="none" stroke="#d13213" stroke-width="3.5" stroke-linecap="round" stroke-linejoin="round"/>
<path d="M748.9 266.2C753.6 266.9 756.3 264.9 763.1 268.3C769.9 271.7 771.9 270.3 769.2 276.4C766.5 282.5 757 277.8 755 286.6C753 295.4 758.4 294 763.1 302.8C767.8 311.6 767.8 305.5 769.2 313C770.6 320.5 771.9 319.1 767.2 325.2C762.5 331.3 759.1 329.3 755 331.3" fill="none" stroke="#5a1508" stroke-width="5.1" stroke-linecap="round" stroke-linejoin="round"/>
<path d="M748.9 266.2C753.6 266.9 756.3 264.9 763.1 268.3C769.9 271.7 771.9 270.3 769.2 276.4C766.5 282.5 757 277.8 755 286.6C753 295.4 758.4 294 763.1 302.8C767.8 311.6 767.8 305.5 769.2 313C770.6 320.5 771.9 319.1 767.2 325.2C762.5 331.3 759.1 329.3 755 331.3" fill="none" stroke="#d13213" stroke-width="3.5" stroke-linecap="round" stroke-linejoin="round"/>
<path d="M732.7 270.3C736.1 271.7 738.1 267.6 742.8 274.4C747.5 281.2 748.2 283.2 746.9 290.6C745.6 298 746.9 294 738.8 296.7C730.7 299.4 725.9 294.7 722.5 298.8C719.1 302.9 723.2 306.2 728.6 308.9C734 311.6 735.4 307.6 738.8 306.9" fill="none" stroke="#5a1508" stroke-width="5.1" stroke-linecap="round" stroke-linejoin="round"/>
<path d="M732.7 270.3C736.1 271.7 738.1 267.6 742.8 274.4C747.5 281.2 748.2 283.2 746.9 290.6C745.6 298 746.9 294 738.8 296.7C730.7 299.4 725.9 294.7 722.5 298.8C719.1 302.9 723.2 306.2 728.6 308.9C734 311.6 735.4 307.6 738.8 306.9" fill="none" stroke="#d13213" stroke-width="3.5" stroke-linecap="round" stroke-linejoin="round"/>
<path d="M783.4 262C780.7 264.8 777.3 260.8 775.3 270.3C773.3 279.8 778 277.1 777.3 290.6C776.6 304.1 778.7 298.7 773.3 310.9C767.9 323.1 765.8 317.7 761.1 327.2C756.4 336.7 755.7 332.6 759.1 339.4C762.5 346.2 766.5 339.4 771.2 347.5C775.9 355.6 769.9 355.7 773.3 363.8C776.7 371.9 772.6 371.2 781.4 371.9C790.2 372.6 794.3 376 799.7 365.8C805.1 355.6 797 356.3 797.7 341.4C798.4 326.5 802.4 332.6 801.7 321.1C801 309.6 801.7 315 795.6 306.9C789.5 298.8 790.2 301.4 783.4 296.7C776.6 292 778 294 775.3 292.7" fill="none" stroke="#615313" stroke-width="5.6" stroke-linecap="round" stroke-linejoin="round"/>
<path d="M783.4 262C780.7 264.8 777.3 260.8 775.3 270.3C773.3 279.8 778 277.1 777.3 290.6C776.6 304.1 778.7 298.7 773.3 310.9C767.9 323.1 765.8 317.7 761.1 327.2C756.4 336.7 755.7 332.6 759.1 339.4C762.5 346.2 766.5 339.4 771.2 347.5C775.9 355.6 769.9 355.7 773.3 363.8C776.7 371.9 772.6 371.2 781.4 371.9C790.2 372.6 794.3 376 799.7 365.8C805.1 355.6 797 356.3 797.7 341.4C798.4 326.5 802.4 332.6 801.7 321.1C801 309.6 801.7 315 795.6 306.9C789.5 298.8 790.2 301.4 783.4 296.7C776.6 292 778 294 775.3 292.7" fill="none" stroke="#e1c02c" stroke-width="4" stroke-linecap="round" stroke-linejoin="round"/>
<path d="M779 266L783 256L790 262Z" fill="#e1c02c" stroke="#615313" stroke-width="0.8" stroke-linejoin="round"/>
<ellipse cx="756" cy="356.6" rx="15" ry="10.5" fill="none" stroke="#615313" stroke-width="8.6" transform="rotate(-10 756 356.6)"/>
<ellipse cx="756" cy="356.6" rx="15" ry="10.5" fill="none" stroke="#e1c02c" stroke-width="7" transform="rotate(-10 756 356.6)"/>
<path d="M633.1 250C633.7 254.3 633 257.5 635.2 266.2C637.4 274.9 638.6 272.7 641.3 282.5C644 292.3 643.1 290.9 645.3 302.8C647.5 314.7 648.3 320.7 649.4 327.2" fill="none" stroke="#446118" stroke-width="8.2" stroke-linecap="round" stroke-linejoin="round"/>
<path d="M633.1 250C633.7 254.3 633 257.5 635.2 266.2C637.4 274.9 638.6 272.7 641.3 282.5C644 292.3 643.1 290.9 645.3 302.8C647.5 314.7 648.3 320.7 649.4 327.2" fill="none" stroke="#85bd2f" stroke-width="6.6" stroke-linecap="round" stroke-linejoin="round"/>
<path d="M633.1 250C633.7 254.3 633 257.5 635.2 266.2C637.4 274.9 638.6 272.7 641.3 282.5C644 292.3 643.1 290.9 645.3 302.8C647.5 314.7 648.3 320.7 649.4 327.2" fill="none" stroke="#9fe138" stroke-width="3.3" stroke-linecap="round" stroke-linejoin="round"/>
<path d="M637.2 290.6C635.6 296 633.8 302.2 631.1 310.9C628.4 319.6 628.1 319.8 627 323.1" fill="none" stroke="#446118" stroke-width="8.2" stroke-linecap="round" stroke-linejoin="round"/>
<path d="M637.2 290.6C635.6 296 633.8 302.2 631.1 310.9C628.4 319.6 628.1 319.8 627 323.1" fill="none" stroke="#85bd2f" stroke-width="6.6" stroke-linecap="round" stroke-linejoin="round"/>
<path d="M637.2 290.6C635.6 296 633.8 302.2 631.1 310.9C628.4 319.6 628.1 319.8 627 323.1" fill="none" stroke="#9fe138" stroke-width="3.3" stroke-linecap="round" stroke-linejoin="round"/>
<path d="M681.9 321.1L669.7 329.2" fill="none" stroke="#446118" stroke-width="8.2" stroke-linecap="round" stroke-linejoin="round"/>
<path d="M681.9 321.1L669.7 329.2" fill="none" stroke="#85bd2f" stroke-width="6.6" stroke-linecap="round" stroke-linejoin="round"/>
<path d="M681.9 321.1L669.7 329.2" fill="none" stroke="#9fe138" stroke-width="3.3" stroke-linecap="round" stroke-linejoin="round"/>
<path d="M661.7 235C660.4 239 660.7 241.5 656.7 250C652.7 258.5 651.2 258.7 646.7 266.7C642.2 274.7 641.8 276.5 640 280" fill="none" stroke="#3f6018" stroke-width="12.1" stroke-linecap="round" stroke-linejoin="round"/>
<path d="M661.7 235C660.4 239 660.7 241.5 656.7 250C652.7 258.5 651.2 258.7 646.7 266.7C642.2 274.7 641.8 276.5 640 280" fill="none" stroke="#7bbb2f" stroke-width="10.5" stroke-linecap="round" stroke-linejoin="round"/>
<path d="M661.7 235C660.4 239 660.7 241.5 656.7 250C652.7 258.5 651.2 258.7 646.7 266.7C642.2 274.7 641.8 276.5 640 280" fill="none" stroke="#93df38" stroke-width="5.2" stroke-linecap="round" stroke-linejoin="round"/>
<path d="M631.7 246.7C632.1 251.1 631.1 255.3 633.3 263.3C635.5 271.3 637.3 267.8 640 276.7C642.7 285.6 642.4 291.4 643.3 296.7" fill="none" stroke="#446118" stroke-width="12.6" stroke-linecap="round" stroke-linejoin="round"/>
<path d="M631.7 246.7C632.1 251.1 631.1 255.3 633.3 263.3C635.5 271.3 637.3 267.8 640 276.7C642.7 285.6 642.4 291.4 643.3 296.7" fill="none" stroke="#85bd2f" stroke-width="11" stroke-linecap="round" stroke-linejoin="round"/>
<path d="M631.7 246.7C632.1 251.1 631.1 255.3 633.3 263.3C635.5 271.3 637.3 267.8 640 276.7C642.7 285.6 642.4 291.4 643.3 296.7" fill="none" stroke="#9fe138" stroke-width="5.5" stroke-linecap="round" stroke-linejoin="round"/>
<path d="M630 208.3C634.9 208.3 639 207 648.3 208.3C657.6 209.6 660.5 212 665 213.3" fill="none" stroke="#445812" stroke-width="12.1" stroke-linecap="round" stroke-linejoin="round"/>
<path d="M630 208.3C634.9 208.3 639 207 648.3 208.3C657.6 209.6 660.5 212 665 213.3" fill="none" stroke="#83aa22" stroke-width="10.5" stroke-linecap="round" stroke-linejoin="round"/>
<path d="M630 208.3C634.9 208.3 639 207 648.3 208.3C657.6 209.6 660.5 212 665 213.3" fill="none" stroke="#9dcb29" stroke-width="5.2" stroke-linecap="round" stroke-linejoin="round"/>
<path d="M636.7 213.3C638 216 639.5 218.4 641.7 223.3C643.9 228.2 644.1 229.5 645 231.7" fill="none" stroke="#4c6214" stroke-width="12.1" stroke-linecap="round" stroke-linejoin="round"/>
<path d="M636.7 213.3C638 216 639.5 218.4 641.7 223.3C643.9 228.2 644.1 229.5 645 231.7" fill="none" stroke="#93bd26" stroke-width="10.5" stroke-linecap="round" stroke-linejoin="round"/>
<path d="M636.7 213.3C638 216 639.5 218.4 641.7 223.3C643.9 228.2 644.1 229.5 645 231.7" fill="none" stroke="#afe22e" stroke-width="5.2" stroke-linecap="round" stroke-linejoin="round"/>
<path d="M626.7 215C629.4 211.9 629.6 208.6 636.7 203.3C643.8 198 645.3 195.9 653.3 195C661.3 194.1 662.2 196.5 666.7 200C671.2 203.5 669.1 206.1 670 208.3" fill="none" stroke="#4c6214" stroke-width="13.7" stroke-linecap="round" stroke-linejoin="round"/>
<path d="M626.7 215C629.4 211.9 629.6 208.6 636.7 203.3C643.8 198 645.3 195.9 653.3 195C661.3 194.1 662.2 196.5 666.7 200C671.2 203.5 669.1 206.1 670 208.3" fill="none" stroke="#93bd26" stroke-width="12.1" stroke-linecap="round" stroke-linejoin="round"/>
<path d="M626.7 215C629.4 211.9 629.6 208.6 636.7 203.3C643.8 198 645.3 195.9 653.3 195C661.3 194.1 662.2 196.5 666.7 200C671.2 203.5 669.1 206.1 670 208.3" fill="none" stroke="#afe22e" stroke-width="6.1" stroke-linecap="round" stroke-linejoin="round"/>
<path d="M668.3 213.3C672.3 213.3 676.6 211.5 683.3 213.3C690 215.1 690.2 215.5 693.3 220C696.4 224.5 695.9 224.7 695 230C694.1 235.3 691.3 237.3 690 240" fill="none" stroke="#446118" stroke-width="12.6" stroke-linecap="round" stroke-linejoin="round"/>
<path d="M668.3 213.3C672.3 213.3 676.6 211.5 683.3 213.3C690 215.1 690.2 215.5 693.3 220C696.4 224.5 695.9 224.7 695 230C694.1 235.3 691.3 237.3 690 240" fill="none" stroke="#85bd2f" stroke-width="11" stroke-linecap="round" stroke-linejoin="round"/>
<path d="M668.3 213.3C672.3 213.3 676.6 211.5 683.3 213.3C690 215.1 690.2 215.5 693.3 220C696.4 224.5 695.9 224.7 695 230C694.1 235.3 691.3 237.3 690 240" fill="none" stroke="#9fe138" stroke-width="5.5" stroke-linecap="round" stroke-linejoin="round"/>
<path d="M663.3 235C665.1 236.8 665.5 238.6 670 241.7C674.5 244.8 677.3 245.4 680 246.7" fill="none" stroke="#415e18" stroke-width="10.4" stroke-linecap="round" stroke-linejoin="round"/>
<path d="M663.3 235C665.1 236.8 665.5 238.6 670 241.7C674.5 244.8 677.3 245.4 680 246.7" fill="none" stroke="#7eb62f" stroke-width="8.8" stroke-linecap="round" stroke-linejoin="round"/>
<path d="M663.3 235C665.1 236.8 665.5 238.6 670 241.7C674.5 244.8 677.3 245.4 680 246.7" fill="none" stroke="#97d938" stroke-width="4.4" stroke-linecap="round" stroke-linejoin="round"/>
<path d="M581.7 258.3C584.8 256.1 586.2 251.8 593.3 250C600.4 248.2 601.2 249.5 608.3 251.7C615.4 253.9 616.9 256.5 620 258.3" fill="none" stroke="#5c5e17" stroke-width="13.2" stroke-linecap="round" stroke-linejoin="round"/>
<path d="M581.7 258.3C584.8 256.1 586.2 251.8 593.3 250C600.4 248.2 601.2 249.5 608.3 251.7C615.4 253.9 616.9 256.5 620 258.3" fill="none" stroke="#b2b72d" stroke-width="11.6" stroke-linecap="round" stroke-linejoin="round"/>
<path d="M581.7 258.3C584.8 256.1 586.2 251.8 593.3 250C600.4 248.2 601.2 249.5 608.3 251.7C615.4 253.9 616.9 256.5 620 258.3" fill="none" stroke="#d5db36" stroke-width="5.8" stroke-linecap="round" stroke-linejoin="round"/>
<path d="M583 260C585 263.7 585.7 270 589 271C592.3 272 591.7 265.7 593 263" fill="none" stroke="#5c5e17" stroke-width="5.1" stroke-linecap="round" stroke-linejoin="round"/>
<path d="M583 260C585 263.7 585.7 270 589 271C592.3 272 591.7 265.7 593 263" fill="none" stroke="#d5db36" stroke-width="3.5" stroke-linecap="round" stroke-linejoin="round"/>
<path d="M605 235C605.5 238.1 604 241.8 606.7 246.7C609.4 251.6 611 252.4 615 253.3C619 254.2 619.9 250.9 621.7 250" fill="none" stroke="#575f16" stroke-width="11" stroke-linecap="round" stroke-linejoin="round"/>
<path d="M605 235C605.5 238.1 604 241.8 606.7 246.7C609.4 251.6 611 252.4 615 253.3C619 254.2 619.9 250.9 621.7 250" fill="none" stroke="#a8b92b" stroke-width="9.4" stroke-linecap="round" stroke-linejoin="round"/>
<path d="M605 235C605.5 238.1 604 241.8 606.7 246.7C609.4 251.6 611 252.4 615 253.3C619 254.2 619.9 250.9 621.7 250" fill="none" stroke="#c9dd34" stroke-width="4.7" stroke-linecap="round" stroke-linejoin="round"/>
<path d="M605 235C607.7 232.3 608.8 226.8 615 225C621.2 223.2 622.5 226.1 628.3 228.3C634.1 230.5 634.5 232 636.7 233.3" fill="none" stroke="#575f16" stroke-width="13.2" stroke-linecap="round" stroke-linejoin="round"/>
<path d="M605 235C607.7 232.3 608.8 226.8 615 225C621.2 223.2 622.5 226.1 628.3 228.3C634.1 230.5 634.5 232 636.7 233.3" fill="none" stroke="#a8b92b" stroke-width="11.6" stroke-linecap="round" stroke-linejoin="round"/>
<path d="M605 235C607.7 232.3 608.8 226.8 615 225C621.2 223.2 622.5 226.1 628.3 228.3C634.1 230.5 634.5 232 636.7 233.3" fill="none" stroke="#c9dd34" stroke-width="5.8" stroke-linecap="round" stroke-linejoin="round"/>
<path d="M618.3 240C622.3 238.7 626.2 235 633.3 235C640.4 235 639.7 236 645 240C650.3 244 650.6 245.1 653.3 250C656 254.9 654.5 256.1 655 258.3" fill="none" stroke="#5e5915" stroke-width="14.8" stroke-linecap="round" stroke-linejoin="round"/>
<path d="M618.3 240C622.3 238.7 626.2 235 633.3 235C640.4 235 639.7 236 645 240C650.3 244 650.6 245.1 653.3 250C656 254.9 654.5 256.1 655 258.3" fill="none" stroke="#b7ad28" stroke-width="13.2" stroke-linecap="round" stroke-linejoin="round"/>
<path d="M618.3 240C622.3 238.7 626.2 235 633.3 235C640.4 235 639.7 236 645 240C650.3 244 650.6 245.1 653.3 250C656 254.9 654.5 256.1 655 258.3" fill="none" stroke="#dbcf30" stroke-width="6.6" stroke-linecap="round" stroke-linejoin="round"/>
<path d="M648.3 231.7C651.9 229.9 654.1 225.9 661.7 225C669.3 224.1 670.5 224.3 676.7 228.3C682.9 232.3 682.3 234.2 685 240C687.7 245.8 688 246.5 686.7 250C685.4 253.5 681.8 252.4 680 253.3" fill="none" stroke="#5e5915" stroke-width="14.8" stroke-linecap="round" stroke-linejoin="round"/>
<path d="M648.3 231.7C651.9 229.9 654.1 225.9 661.7 225C669.3 224.1 670.5 224.3 676.7 228.3C682.9 232.3 682.3 234.2 685 240C687.7 245.8 688 246.5 686.7 250C685.4 253.5 681.8 252.4 680 253.3" fill="none" stroke="#b7ad28" stroke-width="13.2" stroke-linecap="round" stroke-linejoin="round"/>
<path d="M648.3 231.7C651.9 229.9 654.1 225.9 661.7 225C669.3 224.1 670.5 224.3 676.7 228.3C682.9 232.3 682.3 234.2 685 240C687.7 245.8 688 246.5 686.7 250C685.4 253.5 681.8 252.4 680 253.3" fill="none" stroke="#dbcf30" stroke-width="6.6" stroke-linecap="round" stroke-linejoin="round"/>
<path d="M618.3 253.3C618.9 258.3 617.2 259.4 620 268.3C622.8 277.2 620 273.9 626.7 280C633.4 286.1 631.1 281.1 640 286.7C648.9 292.3 648.9 293.4 653.3 296.7" fill="none" stroke="#5e5714" stroke-width="5.6" stroke-linecap="round" stroke-linejoin="round"/>
<path d="M618.3 253.3C618.9 258.3 617.2 259.4 620 268.3C622.8 277.2 620 273.9 626.7 280C633.4 286.1 631.1 281.1 640 286.7C648.9 292.3 648.9 293.4 653.3 296.7" fill="none" stroke="#d9c92e" stroke-width="4" stroke-linecap="round" stroke-linejoin="round"/>
<path d="M640 283.3C645.6 281.6 644.5 282.7 656.7 278.3C668.9 273.9 664.5 276.7 676.7 270C688.9 263.3 687.1 263 693.3 258.3C699.5 253.6 694.7 256.7 695.3 256" fill="none" stroke="#5a5c16" stroke-width="13.7" stroke-linecap="butt" stroke-linejoin="round"/>
<path d="M640 283.3C645.6 281.6 644.5 282.7 656.7 278.3C668.9 273.9 664.5 276.7 676.7 270C688.9 263.3 687.1 263 693.3 258.3C699.5 253.6 694.7 256.7 695.3 256" fill="none" stroke="#afb22b" stroke-width="12.1" stroke-linecap="butt" stroke-linejoin="round"/>
<path d="M640 283.3C645.6 281.6 644.5 282.7 656.7 278.3C668.9 273.9 664.5 276.7 676.7 270C688.9 263.3 687.1 263 693.3 258.3C699.5 253.6 694.7 256.7 695.3 256" fill="none" stroke="#d1d534" stroke-width="6.1" stroke-linecap="butt" stroke-linejoin="round"/>
<path d="M704 263.5L704.5 245.5L686.7 248.4Z" fill="#d1d534" stroke="#5a5c16" stroke-width="0.8" stroke-linejoin="round"/>
<path d="M620.9 324.1C620.2 319.7 618.9 320 618.9 310.9C618.9 301.8 613.4 303.5 620.9 296.7C628.4 289.9 627.7 293.3 641.3 290.6C654.9 287.9 654.8 289.3 661.6 288.6" fill="none" stroke="#5a1508" stroke-width="5.6" stroke-linecap="round" stroke-linejoin="round"/>
<path d="M620.9 324.1C620.2 319.7 618.9 320 618.9 310.9C618.9 301.8 613.4 303.5 620.9 296.7C628.4 289.9 627.7 293.3 641.3 290.6C654.9 287.9 654.8 289.3 661.6 288.6" fill="none" stroke="#d13213" stroke-width="4" stroke-linecap="round" stroke-linejoin="round"/>
<path d="M639.2 284.5C643.9 286.5 643.9 283.8 653.4 290.6C662.9 297.4 658.2 296.7 667.7 304.8C677.2 312.9 670.4 311.6 681.9 315C693.4 318.4 688.7 318.4 702.2 315C715.7 311.6 711 310.2 722.5 304.8C734 299.4 725.9 300.8 736.7 298.8C747.5 296.8 742.8 300.8 755 298.8C767.2 296.8 767.2 294.7 773.3 292.7" fill="none" stroke="#5e5c15" stroke-width="5.6" stroke-linecap="round" stroke-linejoin="round"/>
<path d="M639.2 284.5C643.9 286.5 643.9 283.8 653.4 290.6C662.9 297.4 658.2 296.7 667.7 304.8C677.2 312.9 670.4 311.6 681.9 315C693.4 318.4 688.7 318.4 702.2 315C715.7 311.6 711 310.2 722.5 304.8C734 299.4 725.9 300.8 736.7 298.8C747.5 296.8 742.8 300.8 755 298.8C767.2 296.8 767.2 294.7 773.3 292.7" fill="none" stroke="#d9d532" stroke-width="4" stroke-linecap="round" stroke-linejoin="round"/>
<path d="M694.1 280C698.4 278.4 702.7 278.2 710.3 273.9C717.9 269.6 717.6 264.3 722.5 263.8C727.4 263.3 727.5 266.5 728.6 271.9C729.7 277.3 727.1 280.8 726.6 284.1" fill="none" stroke="#63270a" stroke-width="11.5" stroke-linecap="round" stroke-linejoin="round"/>
<path d="M694.1 280C698.4 278.4 702.7 278.2 710.3 273.9C717.9 269.6 717.6 264.3 722.5 263.8C727.4 263.3 727.5 266.5 728.6 271.9C729.7 277.3 727.1 280.8 726.6 284.1" fill="none" stroke="#c14c15" stroke-width="9.9" stroke-linecap="round" stroke-linejoin="round"/>
<path d="M694.1 280C698.4 278.4 702.7 278.2 710.3 273.9C717.9 269.6 717.6 264.3 722.5 263.8C727.4 263.3 727.5 266.5 728.6 271.9C729.7 277.3 727.1 280.8 726.6 284.1" fill="none" stroke="#e65b19" stroke-width="5" stroke-linecap="round" stroke-linejoin="round"/>
<path d="M669.7 313C668.6 308.1 664.5 303.9 665.6 294.7C666.7 285.5 667.3 283.3 673.8 278.4C680.3 273.5 683 273.1 690 276.4C697 279.7 695.3 285.2 700.2 290.6C705.1 296 704 298.3 708.3 296.7C712.6 295.1 713.7 291.5 716.4 284.5C719.1 277.5 715.1 275.2 718.4 270.3C721.7 265.4 726.4 263.5 728.6 266.2C730.8 268.9 727.1 276.7 726.6 280.5" fill="none" stroke="#5a1508" stroke-width="15.9" stroke-linecap="round" stroke-linejoin="round"/>
<path d="M669.7 313C668.6 308.1 664.5 303.9 665.6 294.7C666.7 285.5 667.3 283.3 673.8 278.4C680.3 273.5 683 273.1 690 276.4C697 279.7 695.3 285.2 700.2 290.6C705.1 296 704 298.3 708.3 296.7C712.6 295.1 713.7 291.5 716.4 284.5C719.1 277.5 715.1 275.2 718.4 270.3C721.7 265.4 726.4 263.5 728.6 266.2C730.8 268.9 727.1 276.7 726.6 280.5" fill="none" stroke="#af2a0f" stroke-width="14.3" stroke-linecap="round" stroke-linejoin="round"/>
<path d="M669.7 313C668.6 308.1 664.5 303.9 665.6 294.7C666.7 285.5 667.3 283.3 673.8 278.4C680.3 273.5 683 273.1 690 276.4C697 279.7 695.3 285.2 700.2 290.6C705.1 296 704 298.3 708.3 296.7C712.6 295.1 713.7 291.5 716.4 284.5C719.1 277.5 715.1 275.2 718.4 270.3C721.7 265.4 726.4 263.5 728.6 266.2C730.8 268.9 727.1 276.7 726.6 280.5" fill="none" stroke="#d13213" stroke-width="7.2" stroke-linecap="round" stroke-linejoin="round"/>
<path d="M672 308C674.6 309.9 673.8 313.1 681.9 315C690 316.9 691.4 317.7 702.2 315C713 312.3 717.1 307.5 722.5 304.8" fill="none" stroke="#5e5c15" stroke-width="12.6" stroke-linecap="round" stroke-linejoin="round"/>
<path d="M672 308C674.6 309.9 673.8 313.1 681.9 315C690 316.9 691.4 317.7 702.2 315C713 312.3 717.1 307.5 722.5 304.8" fill="none" stroke="#b6b22a" stroke-width="11" stroke-linecap="round" stroke-linejoin="round"/>
<path d="M672 308C674.6 309.9 673.8 313.1 681.9 315C690 316.9 691.4 317.7 702.2 315C713 312.3 717.1 307.5 722.5 304.8" fill="none" stroke="#d9d532" stroke-width="5.5" stroke-linecap="round" stroke-linejoin="round"/>
<path d="M603.7 328.2C608.3 327.4 613.3 324.7 620.9 325.2C628.5 325.7 629.1 328.9 632.1 330.2" fill="none" stroke="#5a1508" stroke-width="10.4" stroke-linecap="round" stroke-linejoin="round"/>
<path d="M603.7 328.2C608.3 327.4 613.3 324.7 620.9 325.2C628.5 325.7 629.1 328.9 632.1 330.2" fill="none" stroke="#af2a0f" stroke-width="8.8" stroke-linecap="round" stroke-linejoin="round"/>
<path d="M603.7 328.2C608.3 327.4 613.3 324.7 620.9 325.2C628.5 325.7 629.1 328.9 632.1 330.2" fill="none" stroke="#d13213" stroke-width="4.4" stroke-linecap="round" stroke-linejoin="round"/>
<path d="M638.2 351.6L649.4 353.6" fill="none" stroke="#410f05" stroke-width="11" stroke-linecap="round" stroke-linejoin="round"/>
<path d="M638.2 351.6L649.4 353.6" fill="none" stroke="#7e1d0a" stroke-width="9.4" stroke-linecap="round" stroke-linejoin="round"/>
<path d="M638.2 351.6L649.4 353.6" fill="none" stroke="#96230d" stroke-width="4.7" stroke-linecap="round" stroke-linejoin="round"/>
<path d="M653.4 331.3L661.6 335.3" fill="none" stroke="#410f05" stroke-width="11" stroke-linecap="round" stroke-linejoin="round"/>
<path d="M653.4 331.3L661.6 335.3" fill="none" stroke="#7e1d0a" stroke-width="9.4" stroke-linecap="round" stroke-linejoin="round"/>
<path d="M653.4 331.3L661.6 335.3" fill="none" stroke="#96230d" stroke-width="4.7" stroke-linecap="round" stroke-linejoin="round"/>
<path d="M664.6 355.6L674.8 357.7" fill="none" stroke="#410f05" stroke-width="11" stroke-linecap="round" stroke-linejoin="round"/>
<path d="M664.6 355.6L674.8 357.7" fill="none" stroke="#7e1d0a" stroke-width="9.4" stroke-linecap="round" stroke-linejoin="round"/>
<path d="M664.6 355.6L674.8 357.7" fill="none" stroke="#96230d" stroke-width="4.7" stroke-linecap="round" stroke-linejoin="round"/>
<path d="M679.8 333.3L688 337.3" fill="none" stroke="#410f05" stroke-width="11" stroke-linecap="round" stroke-linejoin="round"/>
<path d="M679.8 333.3L688 337.3" fill="none" stroke="#7e1d0a" stroke-width="9.4" stroke-linecap="round" stroke-linejoin="round"/>
<path d="M679.8 333.3L688 337.3" fill="none" stroke="#96230d" stroke-width="4.7" stroke-linecap="round" stroke-linejoin="round"/>
<path d="M690 357.7L700.2 357.7" fill="none" stroke="#410f05" stroke-width="11" stroke-linecap="round" stroke-linejoin="round"/>
<path d="M690 357.7L700.2 357.7" fill="none" stroke="#7e1d0a" stroke-width="9.4" stroke-linecap="round" stroke-linejoin="round"/>
<path d="M690 357.7L700.2 357.7" fill="none" stroke="#96230d" stroke-width="4.7" stroke-linecap="round" stroke-linejoin="round"/>
<path d="M704.2 333.3L711.3 339.4" fill="none" stroke="#410f05" stroke-width="11" stroke-linecap="round" stroke-linejoin="round"/>
<path d="M704.2 333.3L711.3 339.4" fill="none" stroke="#7e1d0a" stroke-width="9.4" stroke-linecap="round" stroke-linejoin="round"/>
<path d="M704.2 333.3L711.3 339.4" fill="none" stroke="#96230d" stroke-width="4.7" stroke-linecap="round" stroke-linejoin="round"/>
<path d="M713.4 351.6L722.5 352.6" fill="none" stroke="#410f05" stroke-width="11" stroke-linecap="round" stroke-linejoin="round"/>
<path d="M713.4 351.6L722.5 352.6" fill="none" stroke="#7e1d0a" stroke-width="9.4" stroke-linecap="round" stroke-linejoin="round"/>
<path d="M713.4 351.6L722.5 352.6" fill="none" stroke="#96230d" stroke-width="4.7" stroke-linecap="round" stroke-linejoin="round"/>
<path d="M632.1 330.2L638.2 351.6" fill="none" stroke="#5a1508" stroke-width="12.1" stroke-linecap="round" stroke-linejoin="round"/>
<path d="M632.1 330.2L638.2 351.6" fill="none" stroke="#af2a0f" stroke-width="10.5" stroke-linecap="round" stroke-linejoin="round"/>
<path d="M632.1 330.2L638.2 351.6" fill="none" stroke="#d13213" stroke-width="5.2" stroke-linecap="round" stroke-linejoin="round"/>
<path d="M649.4 353.6L653.4 331.3" fill="none" stroke="#5a1508" stroke-width="12.1" stroke-linecap="round" stroke-linejoin="round"/>
<path d="M649.4 353.6L653.4 331.3" fill="none" stroke="#af2a0f" stroke-width="10.5" stroke-linecap="round" stroke-linejoin="round"/>
<path d="M649.4 353.6L653.4 331.3" fill="none" stroke="#d13213" stroke-width="5.2" stroke-linecap="round" stroke-linejoin="round"/>
<path d="M661.6 335.3L664.6 355.6" fill="none" stroke="#5a1508" stroke-width="12.1" stroke-linecap="round" stroke-linejoin="round"/>
<path d="M661.6 335.3L664.6 355.6" fill="none" stroke="#af2a0f" stroke-width="10.5" stroke-linecap="round" stroke-linejoin="round"/>
<path d="M661.6 335.3L664.6 355.6" fill="none" stroke="#d13213" stroke-width="5.2" stroke-linecap="round" stroke-linejoin="round"/>
<path d="M674.8 357.7L679.8 333.3" fill="none" stroke="#5a1508" stroke-width="12.1" stroke-linecap="round" stroke-linejoin="round"/>
<path d="M674.8 357.7L679.8 333.3" fill="none" stroke="#af2a0f" stroke-width="10.5" stroke-linecap="round" stroke-linejoin="round"/>
<path d="M674.8 357.7L679.8 333.3" fill="none" stroke="#d13213" stroke-width="5.2" stroke-linecap="round" stroke-linejoin="round"/>
<path d="M688 337.3L690 357.7" fill="none" stroke="#5a1508" stroke-width="12.1" stroke-linecap="round" stroke-linejoin="round"/>
<path d="M688 337.3L690 357.7" fill="none" stroke="#af2a0f" stroke-width="10.5" stroke-linecap="round" stroke-linejoin="round"/>
<path d="M688 337.3L690 357.7" fill="none" stroke="#d13213" stroke-width="5.2" stroke-linecap="round" stroke-linejoin="round"/>
<path d="M700.2 357.7L704.2 333.3" fill="none" stroke="#5a1508" stroke-width="12.1" stroke-linecap="round" stroke-linejoin="round"/>
<path d="M700.2 357.7L704.2 333.3" fill="none" stroke="#af2a0f" stroke-width="10.5" stroke-linecap="round" stroke-linejoin="round"/>
<path d="M700.2 357.7L704.2 333.3" fill="none" stroke="#d13213" stroke-width="5.2" stroke-linecap="round" stroke-linejoin="round"/>
<path d="M711.3 339.4L713.4 351.6" fill="none" stroke="#5a1508" stroke-width="12.1" stroke-linecap="round" stroke-linejoin="round"/>
<path d="M711.3 339.4L713.4 351.6" fill="none" stroke="#af2a0f" stroke-width="10.5" stroke-linecap="round" stroke-linejoin="round"/>
<path d="M711.3 339.4L713.4 351.6" fill="none" stroke="#d13213" stroke-width="5.2" stroke-linecap="round" stroke-linejoin="round"/>
<path d="M722.5 352.6L726.6 339.4" fill="none" stroke="#5a1508" stroke-width="12.1" stroke-linecap="round" stroke-linejoin="round"/>
<path d="M722.5 352.6L726.6 339.4" fill="none" stroke="#af2a0f" stroke-width="10.5" stroke-linecap="round" stroke-linejoin="round"/>
<path d="M722.5 352.6L726.6 339.4" fill="none" stroke="#d13213" stroke-width="5.2" stroke-linecap="round" stroke-linejoin="round"/>
<path d="M714.4 335.3C718.7 331.5 719.8 327 730.6 321.1C741.4 315.2 747.4 314.1 755 313C762.6 311.9 758 315.9 759.1 317" fill="none" stroke="#5a1508" stroke-width="13.7" stroke-linecap="round" stroke-linejoin="round"/>
<path d="M714.4 335.3C718.7 331.5 719.8 327 730.6 321.1C741.4 315.2 747.4 314.1 755 313C762.6 311.9 758 315.9 759.1 317" fill="none" stroke="#af2a0f" stroke-width="12.1" stroke-linecap="round" stroke-linejoin="round"/>
<path d="M714.4 335.3C718.7 331.5 719.8 327 730.6 321.1C741.4 315.2 747.4 314.1 755 313C762.6 311.9 758 315.9 759.1 317" fill="none" stroke="#d13213" stroke-width="6.1" stroke-linecap="round" stroke-linejoin="round"/>
<path d="M560 254C562.7 256.2 566.9 256.2 570.2 262.2C573.5 268.2 573.9 269.4 572.2 276.4C570.5 283.4 566.2 285.3 564 288.6" fill="none" stroke="#356018" stroke-width="10.4" stroke-linecap="round" stroke-linejoin="round"/>
<path d="M560 254C562.7 256.2 566.9 256.2 570.2 262.2C573.5 268.2 573.9 269.4 572.2 276.4C570.5 283.4 566.2 285.3 564 288.6" fill="none" stroke="#67bb2f" stroke-width="8.8" stroke-linecap="round" stroke-linejoin="round"/>
<path d="M560 254C562.7 256.2 566.9 256.2 570.2 262.2C573.5 268.2 573.9 269.4 572.2 276.4C570.5 283.4 566.2 285.3 564 288.6" fill="none" stroke="#7bdf38" stroke-width="4.4" stroke-linecap="round" stroke-linejoin="round"/>
<path d="M570 363C570.6 360.5 567.8 357.7 572.2 353.6C576.6 349.5 579.9 347 586.4 347.5C592.9 348 592.3 350.2 596.6 355.6C600.9 361 602.2 361.3 602.7 367.8C603.2 374.3 601.9 376.2 598.6 380C595.3 383.8 593.8 383.6 590.5 382C587.2 380.4 585.9 378.8 586.4 373.9C586.9 369 587.6 368.7 592.5 363.8C597.4 358.9 599.3 359.9 604.7 355.6C610.1 351.3 611.7 352.9 612.8 347.5C613.9 342.1 609.9 338.6 608.8 335.3" fill="none" stroke="#4c6214" stroke-width="8.8" stroke-linecap="round" stroke-linejoin="round"/>
<path d="M570 363C570.6 360.5 567.8 357.7 572.2 353.6C576.6 349.5 579.9 347 586.4 347.5C592.9 348 592.3 350.2 596.6 355.6C600.9 361 602.2 361.3 602.7 367.8C603.2 374.3 601.9 376.2 598.6 380C595.3 383.8 593.8 383.6 590.5 382C587.2 380.4 585.9 378.8 586.4 373.9C586.9 369 587.6 368.7 592.5 363.8C597.4 358.9 599.3 359.9 604.7 355.6C610.1 351.3 611.7 352.9 612.8 347.5C613.9 342.1 609.9 338.6 608.8 335.3" fill="none" stroke="#93bd26" stroke-width="7.2" stroke-linecap="round" stroke-linejoin="round"/>
<path d="M570 363C570.6 360.5 567.8 357.7 572.2 353.6C576.6 349.5 579.9 347 586.4 347.5C592.9 348 592.3 350.2 596.6 355.6C600.9 361 602.2 361.3 602.7 367.8C603.2 374.3 601.9 376.2 598.6 380C595.3 383.8 593.8 383.6 590.5 382C587.2 380.4 585.9 378.8 586.4 373.9C586.9 369 587.6 368.7 592.5 363.8C597.4 358.9 599.3 359.9 604.7 355.6C610.1 351.3 611.7 352.9 612.8 347.5C613.9 342.1 609.9 338.6 608.8 335.3" fill="none" stroke="#afe22e" stroke-width="3.6" stroke-linecap="round" stroke-linejoin="round"/>
</g>
<g id="lines" filter="url(#sh2)"><path d="M229 358.2A162 152.7 0 0 1 229 663.5999999999999A162 152.7 0 0 1 229 358.2Z" stroke="#000" stroke-width="4.0" fill="none" pathLength="988" stroke-dasharray="32 12 4 12 4 12" stroke-dashoffset="27"/><path d="M1057.3 355.0A161.8 152.75 0 0 1 1057.3 660.5A161.8 152.75 0 0 1 1057.3 355.0Z" stroke="#000" stroke-width="4.0" fill="none" pathLength="988" stroke-dasharray="32 12 4 12 4 12" stroke-dashoffset="27.4"/><path d="M470.0 175.0L171.0 365.0" stroke="#000" stroke-width="2.0" fill="none" stroke-dasharray="16.0 6.0 2.0 6.0 2.0 6.0" stroke-dashoffset="0"/><path d="M181.0 364.1L171.0 365.0L176.1 356.4" stroke="#000" stroke-width="1.80" fill="none" stroke-linecap="round" stroke-linejoin="miter"/><path d="M548.0 213.0L394.7 543.9" stroke="#000" stroke-width="2.0" fill="none" stroke-dasharray="16.0 6.0 2.0 6.0 2.0 6.0" stroke-dashoffset="0"/><path d="M402.6 537.7L394.7 543.9L394.3 533.9" stroke="#000" stroke-width="1.80" fill="none" stroke-linecap="round" stroke-linejoin="miter"/><path d="M798.0 197.0L1070.0 346.0" stroke="#000" stroke-width="2.0" fill="none" stroke-dasharray="16.0 6.0 2.0 6.0 2.0 6.0" stroke-dashoffset="9.9"/><path d="M1064.4 337.7L1070.0 346.0L1060.0 345.7" stroke="#000" stroke-width="1.80" fill="none" stroke-linecap="round" stroke-linejoin="miter"/><path d="M728.0 261.0L888.0 478.3" stroke="#000" stroke-width="2.0" fill="none" stroke-dasharray="16.0 6.0 2.0 6.0 2.0 6.0" stroke-dashoffset="12.1"/><path d="M886.4 468.4L888.0 478.3L879.1 473.8" stroke="#000" stroke-width="1.80" fill="none" stroke-linecap="round" stroke-linejoin="miter"/></g>
<g id="mag"><circle cx="480" cy="242" r="17" fill="url(#sph)" stroke="#111" stroke-width="0.8"/><circle cx="754.4" cy="212.9" r="17.2" fill="url(#sph)" stroke="#111" stroke-width="0.8"/><circle cx="479" cy="237" r="43.3" fill="none" stroke="#000" stroke-width="10.5"/><path d="M451 265L430 286" stroke="#000" stroke-width="13" stroke-linecap="butt" fill="none"/><path d="M428.5 287.5L410 305" stroke="#000" stroke-width="20.7" stroke-linecap="round" fill="none"/><circle cx="750.3" cy="212.7" r="45.5" fill="none" stroke="#000" stroke-width="10.2"/><path d="M782 245L802 265" stroke="#000" stroke-width="12.7" stroke-linecap="butt" fill="none"/><path d="M804 266.5L822.5 285.2" stroke="#000" stroke-width="22.7" stroke-linecap="round" fill="none"/></g>
<g id="mol_left">
<path d="M142.3 398.8L135.2 397.3" stroke="#8a8a8a" stroke-width="3.7" stroke-linecap="round" fill="none"/>
<path d="M142.3 398.8L135.2 397.3" stroke="#e0e0e0" stroke-width="2.8" stroke-linecap="round" fill="none"/>
<path d="M149.5 400.3L142.3 398.8" stroke="#585858" stroke-width="3.7" stroke-linecap="round" fill="none"/>
<path d="M149.5 400.3L142.3 398.8" stroke="#8e8e8e" stroke-width="2.8" stroke-linecap="round" fill="none"/>
<path d="M157.1 395.8L164.7 391.2" stroke="#8a8a8a" stroke-width="3.7" stroke-linecap="round" fill="none"/>
<path d="M157.1 395.8L164.7 391.2" stroke="#e0e0e0" stroke-width="2.8" stroke-linecap="round" fill="none"/>
<path d="M149.5 400.3L157.1 395.8" stroke="#585858" stroke-width="3.7" stroke-linecap="round" fill="none"/>
<path d="M149.5 400.3L157.1 395.8" stroke="#8e8e8e" stroke-width="2.8" stroke-linecap="round" fill="none"/>
<path d="M151 410L152.5 419.6" stroke="#8a8a8a" stroke-width="3.7" stroke-linecap="round" fill="none"/>
<path d="M151 410L152.5 419.6" stroke="#e0e0e0" stroke-width="2.8" stroke-linecap="round" fill="none"/>
<path d="M149.5 400.3L151 410" stroke="#585858" stroke-width="3.7" stroke-linecap="round" fill="none"/>
<path d="M149.5 400.3L151 410" stroke="#8e8e8e" stroke-width="2.8" stroke-linecap="round" fill="none"/>
<path d="M147.8 402.1L146 404" stroke="#8a8a8a" stroke-width="3.7" stroke-linecap="round" fill="none"/>
<path d="M147.8 402.1L146 404" stroke="#e0e0e0" stroke-width="2.8" stroke-linecap="round" fill="none"/>
<path d="M149.5 400.3L147.8 402.1" stroke="#585858" stroke-width="3.7" stroke-linecap="round" fill="none"/>
<path d="M149.5 400.3L147.8 402.1" stroke="#8e8e8e" stroke-width="2.8" stroke-linecap="round" fill="none"/>
<path d="M221.1 449L220.5 457.2" stroke="#8a8a8a" stroke-width="3.7" stroke-linecap="round" fill="none"/>
<path d="M221.1 449L220.5 457.2" stroke="#e0e0e0" stroke-width="2.8" stroke-linecap="round" fill="none"/>
<path d="M221.6 440.9L221.1 449" stroke="#585858" stroke-width="3.7" stroke-linecap="round" fill="none"/>
<path d="M221.6 440.9L221.1 449" stroke="#8e8e8e" stroke-width="2.8" stroke-linecap="round" fill="none"/>
<path d="M209.4 438.9L233.8 438.9" stroke="#8a8a8a" stroke-width="3.7" stroke-linecap="round" fill="none"/>
<path d="M209.4 438.9L233.8 438.9" stroke="#e0e0e0" stroke-width="2.8" stroke-linecap="round" fill="none"/>
<path d="M217.5 428.8L221.6 440.9" stroke="#585858" stroke-width="3.7" stroke-linecap="round" fill="none"/>
<path d="M217.5 428.8L221.6 440.9" stroke="#8e8e8e" stroke-width="2.8" stroke-linecap="round" fill="none"/>
<path d="M217.5 428.8L211.4 420.6" stroke="#8a1111" stroke-width="3.7" stroke-linecap="round" fill="none"/>
<path d="M217.5 428.8L211.4 420.6" stroke="#e01c1c" stroke-width="2.8" stroke-linecap="round" fill="none"/>
<path d="M217.5 421.1L223.6 421.6" stroke="#8a8a8a" stroke-width="3.7" stroke-linecap="round" fill="none"/>
<path d="M217.5 421.1L223.6 421.6" stroke="#e0e0e0" stroke-width="2.8" stroke-linecap="round" fill="none"/>
<path d="M211.4 420.6L217.5 421.1" stroke="#8a1111" stroke-width="3.7" stroke-linecap="round" fill="none"/>
<path d="M211.4 420.6L217.5 421.1" stroke="#e01c1c" stroke-width="2.8" stroke-linecap="round" fill="none"/>
<path d="M239.8 424.7L241.9 436.9" stroke="#8a8a8a" stroke-width="3.7" stroke-linecap="round" fill="none"/>
<path d="M239.8 424.7L241.9 436.9" stroke="#e0e0e0" stroke-width="2.8" stroke-linecap="round" fill="none"/>
<path d="M241.9 447L248 455.2" stroke="#8a8a8a" stroke-width="3.7" stroke-linecap="round" fill="none"/>
<path d="M241.9 447L248 455.2" stroke="#e0e0e0" stroke-width="2.8" stroke-linecap="round" fill="none"/>
<path d="M235.8 438.9L241.9 447" stroke="#585858" stroke-width="3.7" stroke-linecap="round" fill="none"/>
<path d="M235.8 438.9L241.9 447" stroke="#8e8e8e" stroke-width="2.8" stroke-linecap="round" fill="none"/>
<path d="M236.8 426.7L235.8 438.9" stroke="#585858" stroke-width="3.7" stroke-linecap="round" fill="none"/>
<path d="M236.8 426.7L235.8 438.9" stroke="#8e8e8e" stroke-width="2.8" stroke-linecap="round" fill="none"/>
<path d="M236.8 413.5L236.8 426.7" stroke="#8a1111" stroke-width="3.7" stroke-linecap="round" fill="none"/>
<path d="M236.8 413.5L236.8 426.7" stroke="#e01c1c" stroke-width="2.8" stroke-linecap="round" fill="none"/>
<path d="M230.7 440.9L227.7 453.1" stroke="#8a1111" stroke-width="3.7" stroke-linecap="round" fill="none"/>
<path d="M230.7 440.9L227.7 453.1" stroke="#e01c1c" stroke-width="2.8" stroke-linecap="round" fill="none"/>
<path d="M221.6 440.9L235.8 438.9" stroke="#585858" stroke-width="3.7" stroke-linecap="round" fill="none"/>
<path d="M221.6 440.9L235.8 438.9" stroke="#8e8e8e" stroke-width="2.8" stroke-linecap="round" fill="none"/>
<path d="M166.8 435.9L163.7 426.7" stroke="#8a8a8a" stroke-width="3.7" stroke-linecap="round" fill="none"/>
<path d="M166.8 435.9L163.7 426.7" stroke="#e0e0e0" stroke-width="2.8" stroke-linecap="round" fill="none"/>
<path d="M169.8 445L166.8 435.9" stroke="#585858" stroke-width="3.7" stroke-linecap="round" fill="none"/>
<path d="M169.8 445L166.8 435.9" stroke="#8e8e8e" stroke-width="2.8" stroke-linecap="round" fill="none"/>
<path d="M180.4 445L191.1 445" stroke="#8a8a8a" stroke-width="3.7" stroke-linecap="round" fill="none"/>
<path d="M180.4 445L191.1 445" stroke="#e0e0e0" stroke-width="2.8" stroke-linecap="round" fill="none"/>
<path d="M169.8 445L180.4 445" stroke="#585858" stroke-width="3.7" stroke-linecap="round" fill="none"/>
<path d="M169.8 445L180.4 445" stroke="#8e8e8e" stroke-width="2.8" stroke-linecap="round" fill="none"/>
<path d="M177.4 441.4L185 437.9" stroke="#8a8a8a" stroke-width="3.7" stroke-linecap="round" fill="none"/>
<path d="M177.4 441.4L185 437.9" stroke="#e0e0e0" stroke-width="2.8" stroke-linecap="round" fill="none"/>
<path d="M169.8 445L177.4 441.4" stroke="#585858" stroke-width="3.7" stroke-linecap="round" fill="none"/>
<path d="M169.8 445L177.4 441.4" stroke="#8e8e8e" stroke-width="2.8" stroke-linecap="round" fill="none"/>
<path d="M172.3 448.6L174.8 452.1" stroke="#8a1111" stroke-width="3.7" stroke-linecap="round" fill="none"/>
<path d="M172.3 448.6L174.8 452.1" stroke="#e01c1c" stroke-width="2.8" stroke-linecap="round" fill="none"/>
<path d="M169.8 445L172.3 448.6" stroke="#585858" stroke-width="3.7" stroke-linecap="round" fill="none"/>
<path d="M169.8 445L172.3 448.6" stroke="#8e8e8e" stroke-width="2.8" stroke-linecap="round" fill="none"/>
<path d="M176.9 456.7L178.9 461.3" stroke="#8a8a8a" stroke-width="3.7" stroke-linecap="round" fill="none"/>
<path d="M176.9 456.7L178.9 461.3" stroke="#e0e0e0" stroke-width="2.8" stroke-linecap="round" fill="none"/>
<path d="M174.8 452.1L176.9 456.7" stroke="#8a1111" stroke-width="3.7" stroke-linecap="round" fill="none"/>
<path d="M174.8 452.1L176.9 456.7" stroke="#e01c1c" stroke-width="2.8" stroke-linecap="round" fill="none"/>
<path d="M169.8 445L160.6 458.2" stroke="#585858" stroke-width="3.7" stroke-linecap="round" fill="none"/>
<path d="M169.8 445L160.6 458.2" stroke="#8e8e8e" stroke-width="2.8" stroke-linecap="round" fill="none"/>
<path d="M149.9 459.2L139.3 460.2" stroke="#8a8a8a" stroke-width="3.7" stroke-linecap="round" fill="none"/>
<path d="M149.9 459.2L139.3 460.2" stroke="#e0e0e0" stroke-width="2.8" stroke-linecap="round" fill="none"/>
<path d="M160.6 458.2L149.9 459.2" stroke="#585858" stroke-width="3.7" stroke-linecap="round" fill="none"/>
<path d="M160.6 458.2L149.9 459.2" stroke="#8e8e8e" stroke-width="2.8" stroke-linecap="round" fill="none"/>
<path d="M160.6 458.2L168.7 485.6" stroke="#585858" stroke-width="3.7" stroke-linecap="round" fill="none"/>
<path d="M160.6 458.2L168.7 485.6" stroke="#8e8e8e" stroke-width="2.8" stroke-linecap="round" fill="none"/>
<path d="M154.5 477.5L155.5 495.8" stroke="#8a8a8a" stroke-width="3.7" stroke-linecap="round" fill="none"/>
<path d="M154.5 477.5L155.5 495.8" stroke="#e0e0e0" stroke-width="2.8" stroke-linecap="round" fill="none"/>
<path d="M142.3 487.7L168.7 485.6" stroke="#585858" stroke-width="3.7" stroke-linecap="round" fill="none"/>
<path d="M142.3 487.7L168.7 485.6" stroke="#8e8e8e" stroke-width="2.8" stroke-linecap="round" fill="none"/>
<path d="M142.3 487.7L156.6 493.7" stroke="#585858" stroke-width="3.7" stroke-linecap="round" fill="none"/>
<path d="M142.3 487.7L156.6 493.7" stroke="#8e8e8e" stroke-width="2.8" stroke-linecap="round" fill="none"/>
<path d="M156.6 493.7L187 493.7" stroke="#585858" stroke-width="3.7" stroke-linecap="round" fill="none"/>
<path d="M156.6 493.7L187 493.7" stroke="#8e8e8e" stroke-width="2.8" stroke-linecap="round" fill="none"/>
<path d="M145.5 480L141 478" stroke="#8a8a8a" stroke-width="3.7" stroke-linecap="round" fill="none"/>
<path d="M145.5 480L141 478" stroke="#e0e0e0" stroke-width="2.8" stroke-linecap="round" fill="none"/>
<path d="M150 482L145.5 480" stroke="#585858" stroke-width="3.7" stroke-linecap="round" fill="none"/>
<path d="M150 482L145.5 480" stroke="#8e8e8e" stroke-width="2.8" stroke-linecap="round" fill="none"/>
<path d="M168.7 485.6L189 487" stroke="#585858" stroke-width="3.7" stroke-linecap="round" fill="none"/>
<path d="M168.7 485.6L189 487" stroke="#8e8e8e" stroke-width="2.8" stroke-linecap="round" fill="none"/>
<path d="M213.4 496.8L237.8 503.9" stroke="#585858" stroke-width="3.7" stroke-linecap="round" fill="none"/>
<path d="M213.4 496.8L237.8 503.9" stroke="#8e8e8e" stroke-width="2.8" stroke-linecap="round" fill="none"/>
<path d="M199.2 492.7L213.4 495.8" stroke="#15188a" stroke-width="3.7" stroke-linecap="round" fill="none"/>
<path d="M199.2 492.7L213.4 495.8" stroke="#2228e0" stroke-width="2.8" stroke-linecap="round" fill="none"/>
<path d="M195.2 500.9L209.4 501.9" stroke="#15188a" stroke-width="3.7" stroke-linecap="round" fill="none"/>
<path d="M195.2 500.9L209.4 501.9" stroke="#2228e0" stroke-width="2.8" stroke-linecap="round" fill="none"/>
<path d="M189 495.8L197.2 490.7" stroke="#8a1111" stroke-width="3.7" stroke-linecap="round" fill="none"/>
<path d="M189 495.8L197.2 490.7" stroke="#e01c1c" stroke-width="2.8" stroke-linecap="round" fill="none"/>
<path d="M191.1 497.3L195.2 500.9" stroke="#15188a" stroke-width="3.7" stroke-linecap="round" fill="none"/>
<path d="M191.1 497.3L195.2 500.9" stroke="#2228e0" stroke-width="2.8" stroke-linecap="round" fill="none"/>
<path d="M187 493.7L191.1 497.3" stroke="#585858" stroke-width="3.7" stroke-linecap="round" fill="none"/>
<path d="M187 493.7L191.1 497.3" stroke="#8e8e8e" stroke-width="2.8" stroke-linecap="round" fill="none"/>
<path d="M158.6 513.4L185 509.3" stroke="#585858" stroke-width="3.7" stroke-linecap="round" fill="none"/>
<path d="M158.6 513.4L185 509.3" stroke="#8e8e8e" stroke-width="2.8" stroke-linecap="round" fill="none"/>
<path d="M185 509.3L194.1 526.6" stroke="#585858" stroke-width="3.7" stroke-linecap="round" fill="none"/>
<path d="M185 509.3L194.1 526.6" stroke="#8e8e8e" stroke-width="2.8" stroke-linecap="round" fill="none"/>
<path d="M194.1 526.6L180.9 543.8" stroke="#585858" stroke-width="3.7" stroke-linecap="round" fill="none"/>
<path d="M194.1 526.6L180.9 543.8" stroke="#8e8e8e" stroke-width="2.8" stroke-linecap="round" fill="none"/>
<path d="M180.9 543.8L154.5 545.9" stroke="#585858" stroke-width="3.7" stroke-linecap="round" fill="none"/>
<path d="M180.9 543.8L154.5 545.9" stroke="#8e8e8e" stroke-width="2.8" stroke-linecap="round" fill="none"/>
<path d="M154.5 545.9L145.4 530.6" stroke="#585858" stroke-width="3.7" stroke-linecap="round" fill="none"/>
<path d="M154.5 545.9L145.4 530.6" stroke="#8e8e8e" stroke-width="2.8" stroke-linecap="round" fill="none"/>
<path d="M145.4 530.6L158.6 513.4" stroke="#585858" stroke-width="3.7" stroke-linecap="round" fill="none"/>
<path d="M145.4 530.6L158.6 513.4" stroke="#8e8e8e" stroke-width="2.8" stroke-linecap="round" fill="none"/>
<path d="M188 503.6L191 498" stroke="#8a1111" stroke-width="3.7" stroke-linecap="round" fill="none"/>
<path d="M188 503.6L191 498" stroke="#e01c1c" stroke-width="2.8" stroke-linecap="round" fill="none"/>
<path d="M185 509.3L188 503.6" stroke="#585858" stroke-width="3.7" stroke-linecap="round" fill="none"/>
<path d="M185 509.3L188 503.6" stroke="#8e8e8e" stroke-width="2.8" stroke-linecap="round" fill="none"/>
<path d="M154.6 506.6L150.5 499.8" stroke="#8a8a8a" stroke-width="3.7" stroke-linecap="round" fill="none"/>
<path d="M154.6 506.6L150.5 499.8" stroke="#e0e0e0" stroke-width="2.8" stroke-linecap="round" fill="none"/>
<path d="M158.6 513.4L154.6 506.6" stroke="#585858" stroke-width="3.7" stroke-linecap="round" fill="none"/>
<path d="M158.6 513.4L154.6 506.6" stroke="#8e8e8e" stroke-width="2.8" stroke-linecap="round" fill="none"/>
<path d="M135.8 531.7L126.1 532.7" stroke="#8a8a8a" stroke-width="3.7" stroke-linecap="round" fill="none"/>
<path d="M135.8 531.7L126.1 532.7" stroke="#e0e0e0" stroke-width="2.8" stroke-linecap="round" fill="none"/>
<path d="M145.4 530.6L135.8 531.7" stroke="#585858" stroke-width="3.7" stroke-linecap="round" fill="none"/>
<path d="M145.4 530.6L135.8 531.7" stroke="#8e8e8e" stroke-width="2.8" stroke-linecap="round" fill="none"/>
<path d="M203.8 525L213.4 523.5" stroke="#8a8a8a" stroke-width="3.7" stroke-linecap="round" fill="none"/>
<path d="M203.8 525L213.4 523.5" stroke="#e0e0e0" stroke-width="2.8" stroke-linecap="round" fill="none"/>
<path d="M194.1 526.6L203.8 525" stroke="#585858" stroke-width="3.7" stroke-linecap="round" fill="none"/>
<path d="M194.1 526.6L203.8 525" stroke="#8e8e8e" stroke-width="2.8" stroke-linecap="round" fill="none"/>
<path d="M154.5 545.9L142.3 566.2" stroke="#585858" stroke-width="2.9" stroke-linecap="round" fill="none"/>
<path d="M154.5 545.9L142.3 566.2" stroke="#8e8e8e" stroke-width="2" stroke-linecap="round" fill="none"/>
<path d="M142.3 566.2L150.5 581.4" stroke="#585858" stroke-width="2.9" stroke-linecap="round" fill="none"/>
<path d="M142.3 566.2L150.5 581.4" stroke="#8e8e8e" stroke-width="2" stroke-linecap="round" fill="none"/>
<path d="M150.5 581.4L158.6 587.5" stroke="#585858" stroke-width="2.9" stroke-linecap="round" fill="none"/>
<path d="M150.5 581.4L158.6 587.5" stroke="#8e8e8e" stroke-width="2" stroke-linecap="round" fill="none"/>
<path d="M134.2 569.8L126.1 573.3" stroke="#8a8a8a" stroke-width="3.7" stroke-linecap="round" fill="none"/>
<path d="M134.2 569.8L126.1 573.3" stroke="#e0e0e0" stroke-width="2.8" stroke-linecap="round" fill="none"/>
<path d="M142.3 566.2L134.2 569.8" stroke="#585858" stroke-width="3.7" stroke-linecap="round" fill="none"/>
<path d="M142.3 566.2L134.2 569.8" stroke="#8e8e8e" stroke-width="2.8" stroke-linecap="round" fill="none"/>
<path d="M184.9 550.4L189 557" stroke="#8a8a8a" stroke-width="2.9" stroke-linecap="round" fill="none"/>
<path d="M184.9 550.4L189 557" stroke="#e0e0e0" stroke-width="2" stroke-linecap="round" fill="none"/>
<path d="M180.9 543.8L184.9 550.4" stroke="#585858" stroke-width="2.9" stroke-linecap="round" fill="none"/>
<path d="M180.9 543.8L184.9 550.4" stroke="#8e8e8e" stroke-width="2" stroke-linecap="round" fill="none"/>
<path d="M174.9 532.1L177.9 525.5" stroke="#8a8a8a" stroke-width="3.7" stroke-linecap="round" fill="none"/>
<path d="M174.9 532.1L177.9 525.5" stroke="#e0e0e0" stroke-width="2.8" stroke-linecap="round" fill="none"/>
<path d="M171.8 538.8L174.9 532.1" stroke="#15188a" stroke-width="3.7" stroke-linecap="round" fill="none"/>
<path d="M171.8 538.8L174.9 532.1" stroke="#2228e0" stroke-width="2.8" stroke-linecap="round" fill="none"/>
<path d="M159.6 538.8L171.8 538.8" stroke="#15188a" stroke-width="4.9" stroke-linecap="round" fill="none"/>
<path d="M159.6 538.8L171.8 538.8" stroke="#2228e0" stroke-width="4" stroke-linecap="round" fill="none"/>
<path d="M167.8 547.9L169.8 557" stroke="#585858" stroke-width="3.7" stroke-linecap="round" fill="none"/>
<path d="M167.8 547.9L169.8 557" stroke="#8e8e8e" stroke-width="2.8" stroke-linecap="round" fill="none"/>
<path d="M165.7 538.8L167.8 547.9" stroke="#15188a" stroke-width="3.7" stroke-linecap="round" fill="none"/>
<path d="M165.7 538.8L167.8 547.9" stroke="#2228e0" stroke-width="2.8" stroke-linecap="round" fill="none"/>
<path d="M160.6 569.2L166.7 579.4" stroke="#8a8a8a" stroke-width="4.9" stroke-linecap="round" fill="none"/>
<path d="M160.6 569.2L166.7 579.4" stroke="#e0e0e0" stroke-width="4" stroke-linecap="round" fill="none"/>
<path d="M159.6 584L155.5 587.5" stroke="#8a8a8a" stroke-width="5.4" stroke-linecap="round" fill="none"/>
<path d="M159.6 584L155.5 587.5" stroke="#e0e0e0" stroke-width="4.5" stroke-linecap="round" fill="none"/>
<path d="M163.7 580.4L159.6 584" stroke="#15188a" stroke-width="5.4" stroke-linecap="round" fill="none"/>
<path d="M163.7 580.4L159.6 584" stroke="#2228e0" stroke-width="4.5" stroke-linecap="round" fill="none"/>
<path d="M163.7 580.4L178.9 583.4" stroke="#15188a" stroke-width="5.9" stroke-linecap="round" fill="none"/>
<path d="M163.7 580.4L178.9 583.4" stroke="#2228e0" stroke-width="5" stroke-linecap="round" fill="none"/>
<path d="M184 588.5L189.1 593.6" stroke="#585858" stroke-width="5.9" stroke-linecap="round" fill="none"/>
<path d="M184 588.5L189.1 593.6" stroke="#8e8e8e" stroke-width="5" stroke-linecap="round" fill="none"/>
<path d="M178.9 583.4L184 588.5" stroke="#15188a" stroke-width="5.9" stroke-linecap="round" fill="none"/>
<path d="M178.9 583.4L184 588.5" stroke="#2228e0" stroke-width="5" stroke-linecap="round" fill="none"/>
<path d="M169.8 550.9L171.8 560.1" stroke="#6f6f6f" stroke-width="5.9" stroke-linecap="round" fill="none"/>
<path d="M169.8 550.9L171.8 560.1" stroke="#b4b4b4" stroke-width="5" stroke-linecap="round" fill="none"/>
<path d="M171.8 560.1L201.3 563.1" stroke="#6f6f6f" stroke-width="5.9" stroke-linecap="round" fill="none"/>
<path d="M171.8 560.1L201.3 563.1" stroke="#b4b4b4" stroke-width="5" stroke-linecap="round" fill="none"/>
<path d="M201.3 563.1L200.2 581.4" stroke="#6f6f6f" stroke-width="5.9" stroke-linecap="round" fill="none"/>
<path d="M201.3 563.1L200.2 581.4" stroke="#b4b4b4" stroke-width="5" stroke-linecap="round" fill="none"/>
<path d="M200.2 581.4L189.1 593.6" stroke="#6f6f6f" stroke-width="5.9" stroke-linecap="round" fill="none"/>
<path d="M200.2 581.4L189.1 593.6" stroke="#b4b4b4" stroke-width="5" stroke-linecap="round" fill="none"/>
<path d="M204.3 547.9L201.3 563.1" stroke="#8a8a8a" stroke-width="5.9" stroke-linecap="round" fill="none"/>
<path d="M204.3 547.9L201.3 563.1" stroke="#e0e0e0" stroke-width="5" stroke-linecap="round" fill="none"/>
<path d="M213.4 564.1L214.5 581.4" stroke="#8a8a8a" stroke-width="5.9" stroke-linecap="round" fill="none"/>
<path d="M213.4 564.1L214.5 581.4" stroke="#e0e0e0" stroke-width="5" stroke-linecap="round" fill="none"/>
<path d="M189.1 593.6L214.5 583.4" stroke="#656565" stroke-width="5.9" stroke-linecap="round" fill="none"/>
<path d="M189.1 593.6L214.5 583.4" stroke="#a4a4a4" stroke-width="5" stroke-linecap="round" fill="none"/>
<path d="M214.5 581.4L229.7 589.5" stroke="#6f6f6f" stroke-width="5.9" stroke-linecap="round" fill="none"/>
<path d="M214.5 581.4L229.7 589.5" stroke="#b4b4b4" stroke-width="5" stroke-linecap="round" fill="none"/>
<path d="M230.7 567.2L230.7 589.5" stroke="#8a8a8a" stroke-width="5.9" stroke-linecap="round" fill="none"/>
<path d="M230.7 567.2L230.7 589.5" stroke="#e0e0e0" stroke-width="5" stroke-linecap="round" fill="none"/>
<path d="M230.7 589.5L229.7 615.9" stroke="#8a8a8a" stroke-width="5.9" stroke-linecap="round" fill="none"/>
<path d="M230.7 589.5L229.7 615.9" stroke="#e0e0e0" stroke-width="5" stroke-linecap="round" fill="none"/>
<path d="M209.4 590.5L229.7 589.5" stroke="#8a8a8a" stroke-width="5.9" stroke-linecap="round" fill="none"/>
<path d="M209.4 590.5L229.7 589.5" stroke="#e0e0e0" stroke-width="5" stroke-linecap="round" fill="none"/>
<path d="M229.7 589.5L252 591.6" stroke="#8a8a8a" stroke-width="5.9" stroke-linecap="round" fill="none"/>
<path d="M229.7 589.5L252 591.6" stroke="#e0e0e0" stroke-width="5" stroke-linecap="round" fill="none"/>
<path d="M229.7 589.5L241.9 596.6" stroke="#8a8a8a" stroke-width="5.9" stroke-linecap="round" fill="none"/>
<path d="M229.7 589.5L241.9 596.6" stroke="#e0e0e0" stroke-width="5" stroke-linecap="round" fill="none"/>
<path d="M189.1 593.6L185 601.7" stroke="#8a8a8a" stroke-width="5.9" stroke-linecap="round" fill="none"/>
<path d="M189.1 593.6L185 601.7" stroke="#e0e0e0" stroke-width="5" stroke-linecap="round" fill="none"/>
<path d="M189.1 593.6L191.1 609.8" stroke="#8a8a8a" stroke-width="5.9" stroke-linecap="round" fill="none"/>
<path d="M189.1 593.6L191.1 609.8" stroke="#e0e0e0" stroke-width="5" stroke-linecap="round" fill="none"/>
<path d="M176 560L180 575" stroke="#8a8a8a" stroke-width="4.9" stroke-linecap="round" fill="none"/>
<path d="M176 560L180 575" stroke="#e0e0e0" stroke-width="4" stroke-linecap="round" fill="none"/>
<path d="M265.2 541.8L263.2 537.7" stroke="#8a8a8a" stroke-width="3.7" stroke-linecap="round" fill="none"/>
<path d="M265.2 541.8L263.2 537.7" stroke="#e0e0e0" stroke-width="2.8" stroke-linecap="round" fill="none"/>
<path d="M267.3 545.9L265.2 541.8" stroke="#585858" stroke-width="3.7" stroke-linecap="round" fill="none"/>
<path d="M267.3 545.9L265.2 541.8" stroke="#8e8e8e" stroke-width="2.8" stroke-linecap="round" fill="none"/>
<path d="M291.6 567.7L295.7 567.2" stroke="#8a8a8a" stroke-width="3.7" stroke-linecap="round" fill="none"/>
<path d="M291.6 567.7L295.7 567.2" stroke="#e0e0e0" stroke-width="2.8" stroke-linecap="round" fill="none"/>
<path d="M287.6 568.2L291.6 567.7" stroke="#585858" stroke-width="3.7" stroke-linecap="round" fill="none"/>
<path d="M287.6 568.2L291.6 567.7" stroke="#8e8e8e" stroke-width="2.8" stroke-linecap="round" fill="none"/>
<path d="M274.9 578.8L276.4 582.4" stroke="#8a8a8a" stroke-width="3.7" stroke-linecap="round" fill="none"/>
<path d="M274.9 578.8L276.4 582.4" stroke="#e0e0e0" stroke-width="2.8" stroke-linecap="round" fill="none"/>
<path d="M273.4 575.3L274.9 578.8" stroke="#585858" stroke-width="3.7" stroke-linecap="round" fill="none"/>
<path d="M273.4 575.3L274.9 578.8" stroke="#8e8e8e" stroke-width="2.8" stroke-linecap="round" fill="none"/>
<path d="M249.5 551.5L244.9 549.9" stroke="#8a8a8a" stroke-width="3.7" stroke-linecap="round" fill="none"/>
<path d="M249.5 551.5L244.9 549.9" stroke="#e0e0e0" stroke-width="2.8" stroke-linecap="round" fill="none"/>
<path d="M254.1 553L249.5 551.5" stroke="#585858" stroke-width="3.7" stroke-linecap="round" fill="none"/>
<path d="M254.1 553L249.5 551.5" stroke="#8e8e8e" stroke-width="2.8" stroke-linecap="round" fill="none"/>
<path d="M252 543.8L267.3 545.9" stroke="#585858" stroke-width="3.7" stroke-linecap="round" fill="none"/>
<path d="M252 543.8L267.3 545.9" stroke="#8e8e8e" stroke-width="2.8" stroke-linecap="round" fill="none"/>
<path d="M267.3 545.9L287.6 568.2" stroke="#585858" stroke-width="3.7" stroke-linecap="round" fill="none"/>
<path d="M267.3 545.9L287.6 568.2" stroke="#8e8e8e" stroke-width="2.8" stroke-linecap="round" fill="none"/>
<path d="M287.6 568.2L288.6 578.4" stroke="#585858" stroke-width="3.7" stroke-linecap="round" fill="none"/>
<path d="M287.6 568.2L288.6 578.4" stroke="#8e8e8e" stroke-width="2.8" stroke-linecap="round" fill="none"/>
<path d="M288.6 578.4L273.4 575.3" stroke="#585858" stroke-width="3.7" stroke-linecap="round" fill="none"/>
<path d="M288.6 578.4L273.4 575.3" stroke="#8e8e8e" stroke-width="2.8" stroke-linecap="round" fill="none"/>
<path d="M273.4 575.3L254.1 553" stroke="#585858" stroke-width="3.7" stroke-linecap="round" fill="none"/>
<path d="M273.4 575.3L254.1 553" stroke="#8e8e8e" stroke-width="2.8" stroke-linecap="round" fill="none"/>
<path d="M254.1 553L252 543.8" stroke="#585858" stroke-width="3.7" stroke-linecap="round" fill="none"/>
<path d="M254.1 553L252 543.8" stroke="#8e8e8e" stroke-width="2.8" stroke-linecap="round" fill="none"/>
<path d="M228.7 522.5L241.9 533.7" stroke="#8a1111" stroke-width="3.7" stroke-linecap="round" fill="none"/>
<path d="M228.7 522.5L241.9 533.7" stroke="#e01c1c" stroke-width="2.8" stroke-linecap="round" fill="none"/>
<path d="M241.9 533.7L252 543.8" stroke="#585858" stroke-width="3.7" stroke-linecap="round" fill="none"/>
<path d="M241.9 533.7L252 543.8" stroke="#8e8e8e" stroke-width="2.8" stroke-linecap="round" fill="none"/>
<path d="M288.6 578.4L307.9 599.7" stroke="#585858" stroke-width="3.7" stroke-linecap="round" fill="none"/>
<path d="M288.6 578.4L307.9 599.7" stroke="#8e8e8e" stroke-width="2.8" stroke-linecap="round" fill="none"/>
<path d="M315 597.2L322.1 594.6" stroke="#8a8a8a" stroke-width="3.7" stroke-linecap="round" fill="none"/>
<path d="M315 597.2L322.1 594.6" stroke="#e0e0e0" stroke-width="2.8" stroke-linecap="round" fill="none"/>
<path d="M307.9 599.7L315 597.2" stroke="#585858" stroke-width="3.7" stroke-linecap="round" fill="none"/>
<path d="M307.9 599.7L315 597.2" stroke="#8e8e8e" stroke-width="2.8" stroke-linecap="round" fill="none"/>
<path d="M303.3 607.3L298.7 614.9" stroke="#8a8a8a" stroke-width="3.7" stroke-linecap="round" fill="none"/>
<path d="M303.3 607.3L298.7 614.9" stroke="#e0e0e0" stroke-width="2.8" stroke-linecap="round" fill="none"/>
<path d="M307.9 599.7L303.3 607.3" stroke="#585858" stroke-width="3.7" stroke-linecap="round" fill="none"/>
<path d="M307.9 599.7L303.3 607.3" stroke="#8e8e8e" stroke-width="2.8" stroke-linecap="round" fill="none"/>
<path d="M311.4 600.7L315 601.7" stroke="#8a8a8a" stroke-width="3.7" stroke-linecap="round" fill="none"/>
<path d="M311.4 600.7L315 601.7" stroke="#e0e0e0" stroke-width="2.8" stroke-linecap="round" fill="none"/>
<path d="M307.9 599.7L311.4 600.7" stroke="#585858" stroke-width="3.7" stroke-linecap="round" fill="none"/>
<path d="M307.9 599.7L311.4 600.7" stroke="#8e8e8e" stroke-width="2.8" stroke-linecap="round" fill="none"/>
<path d="M251 489.7L262.2 489.7" stroke="#8a1111" stroke-width="4.1" stroke-linecap="round" fill="none"/>
<path d="M251 489.7L262.2 489.7" stroke="#e01c1c" stroke-width="3.2" stroke-linecap="round" fill="none"/>
<path d="M262.2 489.5L282.5 489.3" stroke="#414141" stroke-width="4.1" stroke-linecap="round" fill="none"/>
<path d="M262.2 489.5L282.5 489.3" stroke="#6a6a6a" stroke-width="3.2" stroke-linecap="round" fill="none"/>
<path d="M282.5 489.5L294.7 489.7" stroke="#8a1111" stroke-width="4.1" stroke-linecap="round" fill="none"/>
<path d="M282.5 489.5L294.7 489.7" stroke="#e01c1c" stroke-width="3.2" stroke-linecap="round" fill="none"/>
<path d="M258.1 507.5L251 500.9" stroke="#8a8a8a" stroke-width="3.7" stroke-linecap="round" fill="none"/>
<path d="M258.1 507.5L251 500.9" stroke="#e0e0e0" stroke-width="2.8" stroke-linecap="round" fill="none"/>
<path d="M265.2 514.1L258.1 507.5" stroke="#585858" stroke-width="3.7" stroke-linecap="round" fill="none"/>
<path d="M265.2 514.1L258.1 507.5" stroke="#8e8e8e" stroke-width="2.8" stroke-linecap="round" fill="none"/>
<path d="M271.8 510L278.4 505.9" stroke="#8a8a8a" stroke-width="3.7" stroke-linecap="round" fill="none"/>
<path d="M271.8 510L278.4 505.9" stroke="#e0e0e0" stroke-width="2.8" stroke-linecap="round" fill="none"/>
<path d="M265.2 514.1L271.8 510" stroke="#585858" stroke-width="3.7" stroke-linecap="round" fill="none"/>
<path d="M265.2 514.1L271.8 510" stroke="#8e8e8e" stroke-width="2.8" stroke-linecap="round" fill="none"/>
<path d="M262.7 520L260.2 526" stroke="#8a8a8a" stroke-width="3.7" stroke-linecap="round" fill="none"/>
<path d="M262.7 520L260.2 526" stroke="#e0e0e0" stroke-width="2.8" stroke-linecap="round" fill="none"/>
<path d="M265.2 514.1L262.7 520" stroke="#585858" stroke-width="3.7" stroke-linecap="round" fill="none"/>
<path d="M265.2 514.1L262.7 520" stroke="#8e8e8e" stroke-width="2.8" stroke-linecap="round" fill="none"/>
<path d="M270.8 517.2L276.4 520.2" stroke="#8a8a8a" stroke-width="3.7" stroke-linecap="round" fill="none"/>
<path d="M270.8 517.2L276.4 520.2" stroke="#e0e0e0" stroke-width="2.8" stroke-linecap="round" fill="none"/>
<path d="M265.2 514.1L270.8 517.2" stroke="#585858" stroke-width="3.7" stroke-linecap="round" fill="none"/>
<path d="M265.2 514.1L270.8 517.2" stroke="#8e8e8e" stroke-width="2.8" stroke-linecap="round" fill="none"/>
<path d="M292.1 427.8L282.5 423.7" stroke="#8a8a8a" stroke-width="3.7" stroke-linecap="round" fill="none"/>
<path d="M292.1 427.8L282.5 423.7" stroke="#e0e0e0" stroke-width="2.8" stroke-linecap="round" fill="none"/>
<path d="M301.8 431.8L292.1 427.8" stroke="#585858" stroke-width="3.7" stroke-linecap="round" fill="none"/>
<path d="M301.8 431.8L292.1 427.8" stroke="#8e8e8e" stroke-width="2.8" stroke-linecap="round" fill="none"/>
<path d="M306.9 422.1L312 412.5" stroke="#8a8a8a" stroke-width="3.7" stroke-linecap="round" fill="none"/>
<path d="M306.9 422.1L312 412.5" stroke="#e0e0e0" stroke-width="2.8" stroke-linecap="round" fill="none"/>
<path d="M301.8 431.8L306.9 422.1" stroke="#585858" stroke-width="3.7" stroke-linecap="round" fill="none"/>
<path d="M301.8 431.8L306.9 422.1" stroke="#8e8e8e" stroke-width="2.8" stroke-linecap="round" fill="none"/>
<path d="M295.2 439.9L288.6 448" stroke="#8a8a8a" stroke-width="3.7" stroke-linecap="round" fill="none"/>
<path d="M295.2 439.9L288.6 448" stroke="#e0e0e0" stroke-width="2.8" stroke-linecap="round" fill="none"/>
<path d="M301.8 431.8L295.2 439.9" stroke="#585858" stroke-width="3.7" stroke-linecap="round" fill="none"/>
<path d="M301.8 431.8L295.2 439.9" stroke="#8e8e8e" stroke-width="2.8" stroke-linecap="round" fill="none"/>
<path d="M311 435.9L320.1 439.9" stroke="#8a8a8a" stroke-width="3.7" stroke-linecap="round" fill="none"/>
<path d="M311 435.9L320.1 439.9" stroke="#e0e0e0" stroke-width="2.8" stroke-linecap="round" fill="none"/>
<path d="M301.8 431.8L311 435.9" stroke="#585858" stroke-width="3.7" stroke-linecap="round" fill="none"/>
<path d="M301.8 431.8L311 435.9" stroke="#8e8e8e" stroke-width="2.8" stroke-linecap="round" fill="none"/>
<path d="M299.8 424.7L297.7 417.6" stroke="#8a8a8a" stroke-width="3.7" stroke-linecap="round" fill="none"/>
<path d="M299.8 424.7L297.7 417.6" stroke="#e0e0e0" stroke-width="2.8" stroke-linecap="round" fill="none"/>
<path d="M301.8 431.8L299.8 424.7" stroke="#585858" stroke-width="3.7" stroke-linecap="round" fill="none"/>
<path d="M301.8 431.8L299.8 424.7" stroke="#8e8e8e" stroke-width="2.8" stroke-linecap="round" fill="none"/>
<path d="M301.8 431.8L312 449.1" stroke="#585858" stroke-width="3.7" stroke-linecap="round" fill="none"/>
<path d="M301.8 431.8L312 449.1" stroke="#8e8e8e" stroke-width="2.8" stroke-linecap="round" fill="none"/>
<path d="M321.6 450.6L331.3 452.1" stroke="#8a8a8a" stroke-width="3.7" stroke-linecap="round" fill="none"/>
<path d="M321.6 450.6L331.3 452.1" stroke="#e0e0e0" stroke-width="2.8" stroke-linecap="round" fill="none"/>
<path d="M312 449.1L321.6 450.6" stroke="#585858" stroke-width="3.7" stroke-linecap="round" fill="none"/>
<path d="M312 449.1L321.6 450.6" stroke="#8e8e8e" stroke-width="2.8" stroke-linecap="round" fill="none"/>
<path d="M304.9 460.2L297.7 471.4" stroke="#15188a" stroke-width="3.7" stroke-linecap="round" fill="none"/>
<path d="M304.9 460.2L297.7 471.4" stroke="#2228e0" stroke-width="2.8" stroke-linecap="round" fill="none"/>
<path d="M312 449.1L304.9 460.2" stroke="#585858" stroke-width="3.7" stroke-linecap="round" fill="none"/>
<path d="M312 449.1L304.9 460.2" stroke="#8e8e8e" stroke-width="2.8" stroke-linecap="round" fill="none"/>
<path d="M291.6 471.4L285.5 471.4" stroke="#8a8a8a" stroke-width="3.7" stroke-linecap="round" fill="none"/>
<path d="M291.6 471.4L285.5 471.4" stroke="#e0e0e0" stroke-width="2.8" stroke-linecap="round" fill="none"/>
<path d="M297.7 471.4L291.6 471.4" stroke="#15188a" stroke-width="3.7" stroke-linecap="round" fill="none"/>
<path d="M297.7 471.4L291.6 471.4" stroke="#2228e0" stroke-width="2.8" stroke-linecap="round" fill="none"/>
<path d="M301.8 482L305.9 492.7" stroke="#585858" stroke-width="3.7" stroke-linecap="round" fill="none"/>
<path d="M301.8 482L305.9 492.7" stroke="#8e8e8e" stroke-width="2.8" stroke-linecap="round" fill="none"/>
<path d="M297.7 471.4L301.8 482" stroke="#15188a" stroke-width="3.7" stroke-linecap="round" fill="none"/>
<path d="M297.7 471.4L301.8 482" stroke="#2228e0" stroke-width="2.8" stroke-linecap="round" fill="none"/>
<path d="M299.8 501.9L293.7 511" stroke="#15188a" stroke-width="3.7" stroke-linecap="round" fill="none"/>
<path d="M299.8 501.9L293.7 511" stroke="#2228e0" stroke-width="2.8" stroke-linecap="round" fill="none"/>
<path d="M305.9 492.7L299.8 501.9" stroke="#585858" stroke-width="3.7" stroke-linecap="round" fill="none"/>
<path d="M305.9 492.7L299.8 501.9" stroke="#8e8e8e" stroke-width="2.8" stroke-linecap="round" fill="none"/>
<path d="M288.1 510L282.5 509" stroke="#8a8a8a" stroke-width="3.7" stroke-linecap="round" fill="none"/>
<path d="M288.1 510L282.5 509" stroke="#e0e0e0" stroke-width="2.8" stroke-linecap="round" fill="none"/>
<path d="M293.7 511L288.1 510" stroke="#15188a" stroke-width="3.7" stroke-linecap="round" fill="none"/>
<path d="M293.7 511L288.1 510" stroke="#2228e0" stroke-width="2.8" stroke-linecap="round" fill="none"/>
<path d="M295.6 517.5L297.5 524" stroke="#8a8a8a" stroke-width="3.7" stroke-linecap="round" fill="none"/>
<path d="M295.6 517.5L297.5 524" stroke="#e0e0e0" stroke-width="2.8" stroke-linecap="round" fill="none"/>
<path d="M293.7 511L295.6 517.5" stroke="#15188a" stroke-width="3.7" stroke-linecap="round" fill="none"/>
<path d="M293.7 511L295.6 517.5" stroke="#2228e0" stroke-width="2.8" stroke-linecap="round" fill="none"/>
<path d="M315.5 493.8L325.2 494.8" stroke="#15188a" stroke-width="3.7" stroke-linecap="round" fill="none"/>
<path d="M315.5 493.8L325.2 494.8" stroke="#2228e0" stroke-width="2.8" stroke-linecap="round" fill="none"/>
<path d="M305.9 492.7L315.5 493.8" stroke="#585858" stroke-width="3.7" stroke-linecap="round" fill="none"/>
<path d="M305.9 492.7L315.5 493.8" stroke="#8e8e8e" stroke-width="2.8" stroke-linecap="round" fill="none"/>
<path d="M329.2 502.9L333.3 511" stroke="#8a8a8a" stroke-width="3.7" stroke-linecap="round" fill="none"/>
<path d="M329.2 502.9L333.3 511" stroke="#e0e0e0" stroke-width="2.8" stroke-linecap="round" fill="none"/>
<path d="M325.2 494.8L329.2 502.9" stroke="#15188a" stroke-width="3.7" stroke-linecap="round" fill="none"/>
<path d="M325.2 494.8L329.2 502.9" stroke="#2228e0" stroke-width="2.8" stroke-linecap="round" fill="none"/>
<path d="M325.2 494.8L331.3 484.6" stroke="#15188a" stroke-width="3.7" stroke-linecap="round" fill="none"/>
<path d="M325.2 494.8L331.3 484.6" stroke="#2228e0" stroke-width="2.8" stroke-linecap="round" fill="none"/>
<path d="M318 485.6L331.3 484.6" stroke="#8a8a8a" stroke-width="3.7" stroke-linecap="round" fill="none"/>
<path d="M318 485.6L331.3 484.6" stroke="#e0e0e0" stroke-width="2.8" stroke-linecap="round" fill="none"/>
<path d="M333.3 482.6L335.3 480.5" stroke="#8a8a8a" stroke-width="3.7" stroke-linecap="round" fill="none"/>
<path d="M333.3 482.6L335.3 480.5" stroke="#e0e0e0" stroke-width="2.8" stroke-linecap="round" fill="none"/>
<path d="M331.3 484.6L333.3 482.6" stroke="#8a1111" stroke-width="3.7" stroke-linecap="round" fill="none"/>
<path d="M331.3 484.6L333.3 482.6" stroke="#e01c1c" stroke-width="2.8" stroke-linecap="round" fill="none"/>
<path d="M331.3 484.6L338.4 495.8" stroke="#8a1111" stroke-width="3.7" stroke-linecap="round" fill="none"/>
<path d="M331.3 484.6L338.4 495.8" stroke="#e01c1c" stroke-width="2.8" stroke-linecap="round" fill="none"/>
<path d="M338.4 495.8L345.5 510" stroke="#585858" stroke-width="3.7" stroke-linecap="round" fill="none"/>
<path d="M338.4 495.8L345.5 510" stroke="#8e8e8e" stroke-width="2.8" stroke-linecap="round" fill="none"/>
<path d="M353.6 505.4L361.7 500.9" stroke="#8a8a8a" stroke-width="3.7" stroke-linecap="round" fill="none"/>
<path d="M353.6 505.4L361.7 500.9" stroke="#e0e0e0" stroke-width="2.8" stroke-linecap="round" fill="none"/>
<path d="M345.5 510L353.6 505.4" stroke="#585858" stroke-width="3.7" stroke-linecap="round" fill="none"/>
<path d="M345.5 510L353.6 505.4" stroke="#8e8e8e" stroke-width="2.8" stroke-linecap="round" fill="none"/>
<path d="M354.1 509L362.7 508" stroke="#8a8a8a" stroke-width="3.7" stroke-linecap="round" fill="none"/>
<path d="M354.1 509L362.7 508" stroke="#e0e0e0" stroke-width="2.8" stroke-linecap="round" fill="none"/>
<path d="M345.5 510L354.1 509" stroke="#585858" stroke-width="3.7" stroke-linecap="round" fill="none"/>
<path d="M345.5 510L354.1 509" stroke="#8e8e8e" stroke-width="2.8" stroke-linecap="round" fill="none"/>
<path d="M338.4 510L331.3 510" stroke="#8a8a8a" stroke-width="3.7" stroke-linecap="round" fill="none"/>
<path d="M338.4 510L331.3 510" stroke="#e0e0e0" stroke-width="2.8" stroke-linecap="round" fill="none"/>
<path d="M345.5 510L338.4 510" stroke="#585858" stroke-width="3.7" stroke-linecap="round" fill="none"/>
<path d="M345.5 510L338.4 510" stroke="#8e8e8e" stroke-width="2.8" stroke-linecap="round" fill="none"/>
<path d="M340.4 516.1L335.3 522.2" stroke="#8a8a8a" stroke-width="3.7" stroke-linecap="round" fill="none"/>
<path d="M340.4 516.1L335.3 522.2" stroke="#e0e0e0" stroke-width="2.8" stroke-linecap="round" fill="none"/>
<path d="M345.5 510L340.4 516.1" stroke="#585858" stroke-width="3.7" stroke-linecap="round" fill="none"/>
<path d="M345.5 510L340.4 516.1" stroke="#8e8e8e" stroke-width="2.8" stroke-linecap="round" fill="none"/>
<path d="M349.6 517.1L353.6 524.2" stroke="#8a8a8a" stroke-width="3.7" stroke-linecap="round" fill="none"/>
<path d="M349.6 517.1L353.6 524.2" stroke="#e0e0e0" stroke-width="2.8" stroke-linecap="round" fill="none"/>
<path d="M345.5 510L349.6 517.1" stroke="#585858" stroke-width="3.7" stroke-linecap="round" fill="none"/>
<path d="M345.5 510L349.6 517.1" stroke="#8e8e8e" stroke-width="2.8" stroke-linecap="round" fill="none"/>
<path d="M217.5 502.9L227.7 522.2" stroke="#111" stroke-width="2.2" stroke-dasharray="1 1" fill="none"/>
<path d="M230.7 497.8L231.3 522.2" stroke="#111" stroke-width="2.2" stroke-dasharray="1 1" fill="none"/>
<path d="M171.8 542.8L172.4 569.2" stroke="#111" stroke-width="1.2" stroke-dasharray="1 1" fill="none"/>
<circle cx="228.7" cy="484.6" r="10.6" fill="url(#fe)" stroke="#5a3a3e" stroke-width="0.6"/>
<circle cx="225.5" cy="480.9" r="3" fill="#f6d4d8" opacity="0.75"/>
<text class="m" x="201.3" y="515.3" font-size="6.4" font-weight="bold" textLength="16.5" lengthAdjust="spacingAndGlyphs">1.81</text>
<text class="m" x="234.8" y="515.3" font-size="6.4" font-weight="bold" textLength="17.3" lengthAdjust="spacingAndGlyphs">2.36</text>
<text class="m" x="173.2" y="569.6" font-size="6.4" font-weight="bold" textLength="17" lengthAdjust="spacingAndGlyphs">1.75</text>
</g>
<g id="mol_right">
<path d="M1012.1 397.5L1003.9 396.7" stroke="#8e8e8e" stroke-width="3.4" stroke-linecap="round" fill="none"/>
<path d="M1012.1 397.5L1003.9 396.7" stroke="#e6e6e6" stroke-width="2.5" stroke-linecap="round" fill="none"/>
<path d="M1020.3 398.4L1012.1 397.5" stroke="#2a6e6e" stroke-width="3.4" stroke-linecap="round" fill="none"/>
<path d="M1020.3 398.4L1012.1 397.5" stroke="#45b3b3" stroke-width="2.5" stroke-linecap="round" fill="none"/>
<path d="M1024.2 392.4L1028 386.4" stroke="#8e8e8e" stroke-width="3.4" stroke-linecap="round" fill="none"/>
<path d="M1024.2 392.4L1028 386.4" stroke="#e6e6e6" stroke-width="2.5" stroke-linecap="round" fill="none"/>
<path d="M1020.3 398.4L1024.2 392.4" stroke="#2a6e6e" stroke-width="3.4" stroke-linecap="round" fill="none"/>
<path d="M1020.3 398.4L1024.2 392.4" stroke="#45b3b3" stroke-width="2.5" stroke-linecap="round" fill="none"/>
<path d="M1021.1 401.2L1022 404" stroke="#8e8e8e" stroke-width="3.4" stroke-linecap="round" fill="none"/>
<path d="M1021.1 401.2L1022 404" stroke="#e6e6e6" stroke-width="2.5" stroke-linecap="round" fill="none"/>
<path d="M1020.3 398.4L1021.1 401.2" stroke="#2a6e6e" stroke-width="3.4" stroke-linecap="round" fill="none"/>
<path d="M1020.3 398.4L1021.1 401.2" stroke="#45b3b3" stroke-width="2.5" stroke-linecap="round" fill="none"/>
<path d="M1023.3 405.3L1026.3 412.2" stroke="#15188a" stroke-width="3.4" stroke-linecap="round" fill="none"/>
<path d="M1023.3 405.3L1026.3 412.2" stroke="#2228e0" stroke-width="2.5" stroke-linecap="round" fill="none"/>
<path d="M1020.3 398.4L1023.3 405.3" stroke="#2a6e6e" stroke-width="3.4" stroke-linecap="round" fill="none"/>
<path d="M1020.3 398.4L1023.3 405.3" stroke="#45b3b3" stroke-width="2.5" stroke-linecap="round" fill="none"/>
<path d="M1025.4 419.5L1024.6 426.8" stroke="#8e8e8e" stroke-width="3.4" stroke-linecap="round" fill="none"/>
<path d="M1025.4 419.5L1024.6 426.8" stroke="#e6e6e6" stroke-width="2.5" stroke-linecap="round" fill="none"/>
<path d="M1026.3 412.2L1025.4 419.5" stroke="#15188a" stroke-width="3.4" stroke-linecap="round" fill="none"/>
<path d="M1026.3 412.2L1025.4 419.5" stroke="#2228e0" stroke-width="2.5" stroke-linecap="round" fill="none"/>
<path d="M1033.2 410L1040.1 407.9" stroke="#2a6e6e" stroke-width="3.4" stroke-linecap="round" fill="none"/>
<path d="M1033.2 410L1040.1 407.9" stroke="#45b3b3" stroke-width="2.5" stroke-linecap="round" fill="none"/>
<path d="M1026.3 412.2L1033.2 410" stroke="#15188a" stroke-width="3.4" stroke-linecap="round" fill="none"/>
<path d="M1026.3 412.2L1033.2 410" stroke="#2228e0" stroke-width="2.5" stroke-linecap="round" fill="none"/>
<path d="M1041.8 400.1L1043.6 392.4" stroke="#8a1111" stroke-width="3.4" stroke-linecap="round" fill="none"/>
<path d="M1041.8 400.1L1043.6 392.4" stroke="#e01c1c" stroke-width="2.5" stroke-linecap="round" fill="none"/>
<path d="M1040.1 407.9L1041.8 400.1" stroke="#2a6e6e" stroke-width="3.4" stroke-linecap="round" fill="none"/>
<path d="M1040.1 407.9L1041.8 400.1" stroke="#45b3b3" stroke-width="2.5" stroke-linecap="round" fill="none"/>
<path d="M1040.1 407.9L1045.3 426" stroke="#2a6e6e" stroke-width="3.4" stroke-linecap="round" fill="none"/>
<path d="M1040.1 407.9L1045.3 426" stroke="#45b3b3" stroke-width="2.5" stroke-linecap="round" fill="none"/>
<path d="M1045.3 426L1068.5 432.9" stroke="#2a6e6e" stroke-width="3.4" stroke-linecap="round" fill="none"/>
<path d="M1045.3 426L1068.5 432.9" stroke="#45b3b3" stroke-width="2.5" stroke-linecap="round" fill="none"/>
<path d="M1074.1 426.9L1079.7 420.8" stroke="#8a1111" stroke-width="3.4" stroke-linecap="round" fill="none"/>
<path d="M1074.1 426.9L1079.7 420.8" stroke="#e01c1c" stroke-width="2.5" stroke-linecap="round" fill="none"/>
<path d="M1068.5 432.9L1074.1 426.9" stroke="#2a6e6e" stroke-width="3.4" stroke-linecap="round" fill="none"/>
<path d="M1068.5 432.9L1074.1 426.9" stroke="#45b3b3" stroke-width="2.5" stroke-linecap="round" fill="none"/>
<path d="M1074.2 423.2L1078.5 419.5" stroke="#8a1111" stroke-width="3.4" stroke-linecap="round" fill="none"/>
<path d="M1074.2 423.2L1078.5 419.5" stroke="#e01c1c" stroke-width="2.5" stroke-linecap="round" fill="none"/>
<path d="M1070 427L1074.2 423.2" stroke="#2a6e6e" stroke-width="3.4" stroke-linecap="round" fill="none"/>
<path d="M1070 427L1074.2 423.2" stroke="#45b3b3" stroke-width="2.5" stroke-linecap="round" fill="none"/>
<path d="M1045.3 426L1041 434.6" stroke="#2a6e6e" stroke-width="3.4" stroke-linecap="round" fill="none"/>
<path d="M1045.3 426L1041 434.6" stroke="#45b3b3" stroke-width="2.5" stroke-linecap="round" fill="none"/>
<path d="M1036.7 436.3L1051.3 436.3" stroke="#8a1111" stroke-width="3.4" stroke-linecap="round" fill="none"/>
<path d="M1036.7 436.3L1051.3 436.3" stroke="#e01c1c" stroke-width="2.5" stroke-linecap="round" fill="none"/>
<path d="M1051.3 436.3L1061.6 438.9" stroke="#2a6e6e" stroke-width="3.4" stroke-linecap="round" fill="none"/>
<path d="M1051.3 436.3L1061.6 438.9" stroke="#45b3b3" stroke-width="2.5" stroke-linecap="round" fill="none"/>
<path d="M1061.6 438.9L1068.5 432.9" stroke="#2a6e6e" stroke-width="3.4" stroke-linecap="round" fill="none"/>
<path d="M1061.6 438.9L1068.5 432.9" stroke="#45b3b3" stroke-width="2.5" stroke-linecap="round" fill="none"/>
<path d="M1061.6 438.9L1065.1 459.6" stroke="#2a6e6e" stroke-width="3.4" stroke-linecap="round" fill="none"/>
<path d="M1061.6 438.9L1065.1 459.6" stroke="#45b3b3" stroke-width="2.5" stroke-linecap="round" fill="none"/>
<path d="M1073.7 461.8L1082.3 463.9" stroke="#8e8e8e" stroke-width="3.4" stroke-linecap="round" fill="none"/>
<path d="M1073.7 461.8L1082.3 463.9" stroke="#e6e6e6" stroke-width="2.5" stroke-linecap="round" fill="none"/>
<path d="M1065.1 459.6L1073.7 461.8" stroke="#2a6e6e" stroke-width="3.4" stroke-linecap="round" fill="none"/>
<path d="M1065.1 459.6L1073.7 461.8" stroke="#45b3b3" stroke-width="2.5" stroke-linecap="round" fill="none"/>
<path d="M1062 464.3L1059 469" stroke="#5e5e5e" stroke-width="3.4" stroke-linecap="round" fill="none"/>
<path d="M1062 464.3L1059 469" stroke="#999999" stroke-width="2.5" stroke-linecap="round" fill="none"/>
<path d="M1065.1 459.6L1062 464.3" stroke="#8e8e8e" stroke-width="3.4" stroke-linecap="round" fill="none"/>
<path d="M1065.1 459.6L1062 464.3" stroke="#e6e6e6" stroke-width="2.5" stroke-linecap="round" fill="none"/>
<path d="M1066.8 438.9L1072 445.8" stroke="#8e8e8e" stroke-width="3.4" stroke-linecap="round" fill="none"/>
<path d="M1066.8 438.9L1072 445.8" stroke="#e6e6e6" stroke-width="2.5" stroke-linecap="round" fill="none"/>
<path d="M1066.8 438.9L1066 444" stroke="#8a1111" stroke-width="3.4" stroke-linecap="round" fill="none"/>
<path d="M1066.8 438.9L1066 444" stroke="#e01c1c" stroke-width="2.5" stroke-linecap="round" fill="none"/>
<path d="M1033 440L1040 433" stroke="#8e8e8e" stroke-width="3.4" stroke-linecap="round" fill="none"/>
<path d="M1033 440L1040 433" stroke="#e6e6e6" stroke-width="2.5" stroke-linecap="round" fill="none"/>
<path d="M1032.8 442.8L1039.2 441.5" stroke="#8e8e8e" stroke-width="3.4" stroke-linecap="round" fill="none"/>
<path d="M1032.8 442.8L1039.2 441.5" stroke="#e6e6e6" stroke-width="2.5" stroke-linecap="round" fill="none"/>
<path d="M1026.3 444.1L1032.8 442.8" stroke="#8a1111" stroke-width="3.4" stroke-linecap="round" fill="none"/>
<path d="M1026.3 444.1L1032.8 442.8" stroke="#e01c1c" stroke-width="2.5" stroke-linecap="round" fill="none"/>
<path d="M1026.8 451L1027.2 457.9" stroke="#8e8e8e" stroke-width="3.4" stroke-linecap="round" fill="none"/>
<path d="M1026.8 451L1027.2 457.9" stroke="#e6e6e6" stroke-width="2.5" stroke-linecap="round" fill="none"/>
<path d="M1026.3 444.1L1026.8 451" stroke="#8a1111" stroke-width="3.4" stroke-linecap="round" fill="none"/>
<path d="M1026.3 444.1L1026.8 451" stroke="#e01c1c" stroke-width="2.5" stroke-linecap="round" fill="none"/>
<path d="M991.4 462.5L985.8 464.7" stroke="#8e8e8e" stroke-width="5.5" stroke-linecap="round" fill="none"/>
<path d="M991.4 462.5L985.8 464.7" stroke="#e6e6e6" stroke-width="4.6" stroke-linecap="round" fill="none"/>
<path d="M997 460.4L991.4 462.5" stroke="#2a6e6e" stroke-width="5.5" stroke-linecap="round" fill="none"/>
<path d="M997 460.4L991.4 462.5" stroke="#45b3b3" stroke-width="4.6" stroke-linecap="round" fill="none"/>
<path d="M998.8 453.9L1000.5 447.5" stroke="#8e8e8e" stroke-width="5.5" stroke-linecap="round" fill="none"/>
<path d="M998.8 453.9L1000.5 447.5" stroke="#e6e6e6" stroke-width="4.6" stroke-linecap="round" fill="none"/>
<path d="M997 460.4L998.8 453.9" stroke="#2a6e6e" stroke-width="5.5" stroke-linecap="round" fill="none"/>
<path d="M997 460.4L998.8 453.9" stroke="#45b3b3" stroke-width="4.6" stroke-linecap="round" fill="none"/>
<path d="M996.1 466L995.3 471.6" stroke="#8e8e8e" stroke-width="5.5" stroke-linecap="round" fill="none"/>
<path d="M996.1 466L995.3 471.6" stroke="#e6e6e6" stroke-width="4.6" stroke-linecap="round" fill="none"/>
<path d="M997 460.4L996.1 466" stroke="#2a6e6e" stroke-width="5.5" stroke-linecap="round" fill="none"/>
<path d="M997 460.4L996.1 466" stroke="#45b3b3" stroke-width="4.6" stroke-linecap="round" fill="none"/>
<path d="M997 460.4L1020.3 469.9" stroke="#2a6e6e" stroke-width="5.5" stroke-linecap="round" fill="none"/>
<path d="M997 460.4L1020.3 469.9" stroke="#45b3b3" stroke-width="4.6" stroke-linecap="round" fill="none"/>
<path d="M1020.3 469.9L1025.5 480.2" stroke="#2a6e6e" stroke-width="4.9" stroke-linecap="round" fill="none"/>
<path d="M1020.3 469.9L1025.5 480.2" stroke="#45b3b3" stroke-width="4" stroke-linecap="round" fill="none"/>
<path d="M1025.5 480.2L1035.8 480.2" stroke="#2a6e6e" stroke-width="4.9" stroke-linecap="round" fill="none"/>
<path d="M1025.5 480.2L1035.8 480.2" stroke="#45b3b3" stroke-width="4" stroke-linecap="round" fill="none"/>
<path d="M1016.8 478.5L1008.2 483.7" stroke="#8e8e8e" stroke-width="4.4" stroke-linecap="round" fill="none"/>
<path d="M1016.8 478.5L1008.2 483.7" stroke="#e6e6e6" stroke-width="3.5" stroke-linecap="round" fill="none"/>
<path d="M1024 462L1025 473" stroke="#8e8e8e" stroke-width="3.9" stroke-linecap="round" fill="none"/>
<path d="M1024 462L1025 473" stroke="#e6e6e6" stroke-width="3" stroke-linecap="round" fill="none"/>
<path d="M1020.3 469.9L1029 469" stroke="#15188a" stroke-width="5.1" stroke-linecap="round" fill="none"/>
<path d="M1020.3 469.9L1029 469" stroke="#2228e0" stroke-width="4.2" stroke-linecap="round" fill="none"/>
<path d="M1029 469L1041 470.8" stroke="#15188a" stroke-width="5.1" stroke-linecap="round" fill="none"/>
<path d="M1029 469L1041 470.8" stroke="#2228e0" stroke-width="4.2" stroke-linecap="round" fill="none"/>
<path d="M1041 470.8L1049.6 476.8" stroke="#15188a" stroke-width="5.1" stroke-linecap="round" fill="none"/>
<path d="M1041 470.8L1049.6 476.8" stroke="#2228e0" stroke-width="4.2" stroke-linecap="round" fill="none"/>
<path d="M1035.8 480.2L1048 481.5" stroke="#15188a" stroke-width="5.1" stroke-linecap="round" fill="none"/>
<path d="M1035.8 480.2L1048 481.5" stroke="#2228e0" stroke-width="4.2" stroke-linecap="round" fill="none"/>
<path d="M1035.8 482L1031.5 489.7" stroke="#8a1111" stroke-width="4.1" stroke-linecap="round" fill="none"/>
<path d="M1035.8 482L1031.5 489.7" stroke="#e01c1c" stroke-width="3.2" stroke-linecap="round" fill="none"/>
<path d="M1005.6 497L1026.3 497" stroke="#2a6e6e" stroke-width="3.4" stroke-linecap="round" fill="none"/>
<path d="M1005.6 497L1026.3 497" stroke="#45b3b3" stroke-width="2.5" stroke-linecap="round" fill="none"/>
<path d="M1026.3 497L1035.8 513.4" stroke="#2a6e6e" stroke-width="3.4" stroke-linecap="round" fill="none"/>
<path d="M1026.3 497L1035.8 513.4" stroke="#45b3b3" stroke-width="2.5" stroke-linecap="round" fill="none"/>
<path d="M1035.8 513.4L1024.6 528.9" stroke="#2a6e6e" stroke-width="3.4" stroke-linecap="round" fill="none"/>
<path d="M1035.8 513.4L1024.6 528.9" stroke="#45b3b3" stroke-width="2.5" stroke-linecap="round" fill="none"/>
<path d="M1024.6 528.9L1003.1 528.9" stroke="#2a6e6e" stroke-width="3.4" stroke-linecap="round" fill="none"/>
<path d="M1024.6 528.9L1003.1 528.9" stroke="#45b3b3" stroke-width="2.5" stroke-linecap="round" fill="none"/>
<path d="M1003.1 528.9L994.5 513.4" stroke="#2a6e6e" stroke-width="3.4" stroke-linecap="round" fill="none"/>
<path d="M1003.1 528.9L994.5 513.4" stroke="#45b3b3" stroke-width="2.5" stroke-linecap="round" fill="none"/>
<path d="M994.5 513.4L1005.6 497" stroke="#2a6e6e" stroke-width="3.4" stroke-linecap="round" fill="none"/>
<path d="M994.5 513.4L1005.6 497" stroke="#45b3b3" stroke-width="2.5" stroke-linecap="round" fill="none"/>
<path d="M1028.9 493.4L1031.5 489.7" stroke="#8a1111" stroke-width="3.4" stroke-linecap="round" fill="none"/>
<path d="M1028.9 493.4L1031.5 489.7" stroke="#e01c1c" stroke-width="2.5" stroke-linecap="round" fill="none"/>
<path d="M1026.3 497L1028.9 493.4" stroke="#2a6e6e" stroke-width="3.4" stroke-linecap="round" fill="none"/>
<path d="M1026.3 497L1028.9 493.4" stroke="#45b3b3" stroke-width="2.5" stroke-linecap="round" fill="none"/>
<path d="M986.7 513.8L978.9 514.3" stroke="#8e8e8e" stroke-width="3.4" stroke-linecap="round" fill="none"/>
<path d="M986.7 513.8L978.9 514.3" stroke="#e6e6e6" stroke-width="2.5" stroke-linecap="round" fill="none"/>
<path d="M994.5 513.4L986.7 513.8" stroke="#2a6e6e" stroke-width="3.4" stroke-linecap="round" fill="none"/>
<path d="M994.5 513.4L986.7 513.8" stroke="#45b3b3" stroke-width="2.5" stroke-linecap="round" fill="none"/>
<path d="M1043.5 513.4L1051.3 513.4" stroke="#8e8e8e" stroke-width="3.4" stroke-linecap="round" fill="none"/>
<path d="M1043.5 513.4L1051.3 513.4" stroke="#e6e6e6" stroke-width="2.5" stroke-linecap="round" fill="none"/>
<path d="M1035.8 513.4L1043.5 513.4" stroke="#2a6e6e" stroke-width="3.4" stroke-linecap="round" fill="none"/>
<path d="M1035.8 513.4L1043.5 513.4" stroke="#45b3b3" stroke-width="2.5" stroke-linecap="round" fill="none"/>
<path d="M1002.2 491.9L998.8 486.7" stroke="#8e8e8e" stroke-width="3.4" stroke-linecap="round" fill="none"/>
<path d="M1002.2 491.9L998.8 486.7" stroke="#e6e6e6" stroke-width="2.5" stroke-linecap="round" fill="none"/>
<path d="M1005.6 497L1002.2 491.9" stroke="#2a6e6e" stroke-width="3.4" stroke-linecap="round" fill="none"/>
<path d="M1005.6 497L1002.2 491.9" stroke="#45b3b3" stroke-width="2.5" stroke-linecap="round" fill="none"/>
<path d="M1003.1 528.9L991.9 545.3" stroke="#2a6e6e" stroke-width="3.4" stroke-linecap="round" fill="none"/>
<path d="M1003.1 528.9L991.9 545.3" stroke="#45b3b3" stroke-width="2.5" stroke-linecap="round" fill="none"/>
<path d="M986.3 543.1L980.7 541" stroke="#8e8e8e" stroke-width="3.4" stroke-linecap="round" fill="none"/>
<path d="M986.3 543.1L980.7 541" stroke="#e6e6e6" stroke-width="2.5" stroke-linecap="round" fill="none"/>
<path d="M991.9 545.3L986.3 543.1" stroke="#2a6e6e" stroke-width="3.4" stroke-linecap="round" fill="none"/>
<path d="M991.9 545.3L986.3 543.1" stroke="#45b3b3" stroke-width="2.5" stroke-linecap="round" fill="none"/>
<path d="M987.1 548.3L982.4 551.3" stroke="#8e8e8e" stroke-width="3.4" stroke-linecap="round" fill="none"/>
<path d="M987.1 548.3L982.4 551.3" stroke="#e6e6e6" stroke-width="2.5" stroke-linecap="round" fill="none"/>
<path d="M991.9 545.3L987.1 548.3" stroke="#2a6e6e" stroke-width="3.4" stroke-linecap="round" fill="none"/>
<path d="M991.9 545.3L987.1 548.3" stroke="#45b3b3" stroke-width="2.5" stroke-linecap="round" fill="none"/>
<path d="M995.8 552.2L999.6 559.1" stroke="#8e8e8e" stroke-width="3.4" stroke-linecap="round" fill="none"/>
<path d="M995.8 552.2L999.6 559.1" stroke="#e6e6e6" stroke-width="2.5" stroke-linecap="round" fill="none"/>
<path d="M991.9 545.3L995.8 552.2" stroke="#2a6e6e" stroke-width="3.4" stroke-linecap="round" fill="none"/>
<path d="M991.9 545.3L995.8 552.2" stroke="#45b3b3" stroke-width="2.5" stroke-linecap="round" fill="none"/>
<path d="M1018.1 526.3L1011.7 523.7" stroke="#8e8e8e" stroke-width="3.4" stroke-linecap="round" fill="none"/>
<path d="M1018.1 526.3L1011.7 523.7" stroke="#e6e6e6" stroke-width="2.5" stroke-linecap="round" fill="none"/>
<path d="M1024.6 528.9L1018.1 526.3" stroke="#2a6e6e" stroke-width="3.4" stroke-linecap="round" fill="none"/>
<path d="M1024.6 528.9L1018.1 526.3" stroke="#45b3b3" stroke-width="2.5" stroke-linecap="round" fill="none"/>
<path d="M1029.8 526.8L1034.9 524.6" stroke="#8e8e8e" stroke-width="3.4" stroke-linecap="round" fill="none"/>
<path d="M1029.8 526.8L1034.9 524.6" stroke="#e6e6e6" stroke-width="2.5" stroke-linecap="round" fill="none"/>
<path d="M1024.6 528.9L1029.8 526.8" stroke="#2a6e6e" stroke-width="3.4" stroke-linecap="round" fill="none"/>
<path d="M1024.6 528.9L1029.8 526.8" stroke="#45b3b3" stroke-width="2.5" stroke-linecap="round" fill="none"/>
<path d="M1037.9 527.7L1040.1 521.2" stroke="#8e8e8e" stroke-width="3.4" stroke-linecap="round" fill="none"/>
<path d="M1037.9 527.7L1040.1 521.2" stroke="#e6e6e6" stroke-width="2.5" stroke-linecap="round" fill="none"/>
<path d="M1035.8 534.1L1037.9 527.7" stroke="#2a6e6e" stroke-width="3.4" stroke-linecap="round" fill="none"/>
<path d="M1035.8 534.1L1037.9 527.7" stroke="#45b3b3" stroke-width="2.5" stroke-linecap="round" fill="none"/>
<path d="M1040.9 539.7L1046.1 545.3" stroke="#8e8e8e" stroke-width="3.4" stroke-linecap="round" fill="none"/>
<path d="M1040.9 539.7L1046.1 545.3" stroke="#e6e6e6" stroke-width="2.5" stroke-linecap="round" fill="none"/>
<path d="M1035.8 534.1L1040.9 539.7" stroke="#2a6e6e" stroke-width="3.4" stroke-linecap="round" fill="none"/>
<path d="M1035.8 534.1L1040.9 539.7" stroke="#45b3b3" stroke-width="2.5" stroke-linecap="round" fill="none"/>
<path d="M1032.3 537.5L1028.9 541" stroke="#8e8e8e" stroke-width="3.4" stroke-linecap="round" fill="none"/>
<path d="M1032.3 537.5L1028.9 541" stroke="#e6e6e6" stroke-width="2.5" stroke-linecap="round" fill="none"/>
<path d="M1035.8 534.1L1032.3 537.5" stroke="#2a6e6e" stroke-width="3.4" stroke-linecap="round" fill="none"/>
<path d="M1035.8 534.1L1032.3 537.5" stroke="#45b3b3" stroke-width="2.5" stroke-linecap="round" fill="none"/>
<path d="M1022 535.8L1019.4 542.7" stroke="#15188a" stroke-width="3.4" stroke-linecap="round" fill="none"/>
<path d="M1022 535.8L1019.4 542.7" stroke="#2228e0" stroke-width="2.5" stroke-linecap="round" fill="none"/>
<path d="M1024.6 528.9L1022 535.8" stroke="#2a6e6e" stroke-width="3.4" stroke-linecap="round" fill="none"/>
<path d="M1024.6 528.9L1022 535.8" stroke="#45b3b3" stroke-width="2.5" stroke-linecap="round" fill="none"/>
<path d="M1019.4 542.7L1018.6 553" stroke="#15188a" stroke-width="4.3" stroke-linecap="round" fill="none"/>
<path d="M1019.4 542.7L1018.6 553" stroke="#2228e0" stroke-width="3.4" stroke-linecap="round" fill="none"/>
<path d="M1018.6 553L1013.4 558.2" stroke="#2a6e6e" stroke-width="3.4" stroke-linecap="round" fill="none"/>
<path d="M1018.6 553L1013.4 558.2" stroke="#45b3b3" stroke-width="2.5" stroke-linecap="round" fill="none"/>
<path d="M1025 541.9L1030.6 541" stroke="#8e8e8e" stroke-width="3.4" stroke-linecap="round" fill="none"/>
<path d="M1025 541.9L1030.6 541" stroke="#e6e6e6" stroke-width="2.5" stroke-linecap="round" fill="none"/>
<path d="M1019.4 542.7L1025 541.9" stroke="#15188a" stroke-width="3.4" stroke-linecap="round" fill="none"/>
<path d="M1019.4 542.7L1025 541.9" stroke="#2228e0" stroke-width="2.5" stroke-linecap="round" fill="none"/>
<path d="M1015 536L1008 533" stroke="#8e8e8e" stroke-width="3.4" stroke-linecap="round" fill="none"/>
<path d="M1015 536L1008 533" stroke="#e6e6e6" stroke-width="2.5" stroke-linecap="round" fill="none"/>
<path d="M1010 563L1006.5 567.7" stroke="#15188a" stroke-width="3.4" stroke-linecap="round" fill="none"/>
<path d="M1010 563L1006.5 567.7" stroke="#2228e0" stroke-width="2.5" stroke-linecap="round" fill="none"/>
<path d="M1013.4 558.2L1010 563" stroke="#2a6e6e" stroke-width="3.4" stroke-linecap="round" fill="none"/>
<path d="M1013.4 558.2L1010 563" stroke="#45b3b3" stroke-width="2.5" stroke-linecap="round" fill="none"/>
<path d="M1006 571.2L1005.6 574.8" stroke="#8e8e8e" stroke-width="3.4" stroke-linecap="round" fill="none"/>
<path d="M1006 571.2L1005.6 574.8" stroke="#e6e6e6" stroke-width="2.5" stroke-linecap="round" fill="none"/>
<path d="M1006.5 567.7L1006 571.2" stroke="#15188a" stroke-width="3.4" stroke-linecap="round" fill="none"/>
<path d="M1006.5 567.7L1006 571.2" stroke="#2228e0" stroke-width="2.5" stroke-linecap="round" fill="none"/>
<path d="M1015 560L1014 566" stroke="#8e8e8e" stroke-width="3.4" stroke-linecap="round" fill="none"/>
<path d="M1015 560L1014 566" stroke="#e6e6e6" stroke-width="2.5" stroke-linecap="round" fill="none"/>
<path d="M1005.6 574.8L1005.1 581.7" stroke="#5e5e5e" stroke-width="3.4" stroke-linecap="round" fill="none"/>
<path d="M1005.6 574.8L1005.1 581.7" stroke="#999999" stroke-width="2.5" stroke-linecap="round" fill="none"/>
<path d="M1005.1 581.7L1004.4 590.3" stroke="#8a1111" stroke-width="3.4" stroke-linecap="round" fill="none"/>
<path d="M1005.1 581.7L1004.4 590.3" stroke="#e01c1c" stroke-width="2.5" stroke-linecap="round" fill="none"/>
<path d="M1004.4 590.3L1002.2 598.9" stroke="#2a6e6e" stroke-width="3.4" stroke-linecap="round" fill="none"/>
<path d="M1004.4 590.3L1002.2 598.9" stroke="#45b3b3" stroke-width="2.5" stroke-linecap="round" fill="none"/>
<path d="M1002.2 598.9L996.2 616.1" stroke="#2a6e6e" stroke-width="3.4" stroke-linecap="round" fill="none"/>
<path d="M1002.2 598.9L996.2 616.1" stroke="#45b3b3" stroke-width="2.5" stroke-linecap="round" fill="none"/>
<path d="M1002.2 600L1004.5 601.5" stroke="#8a1111" stroke-width="3.9" stroke-linecap="round" fill="none"/>
<path d="M1002.2 600L1004.5 601.5" stroke="#e01c1c" stroke-width="3" stroke-linecap="round" fill="none"/>
<path d="M989.3 619.5L982.4 623" stroke="#8e8e8e" stroke-width="3.4" stroke-linecap="round" fill="none"/>
<path d="M989.3 619.5L982.4 623" stroke="#e6e6e6" stroke-width="2.5" stroke-linecap="round" fill="none"/>
<path d="M996.2 616.1L989.3 619.5" stroke="#2a6e6e" stroke-width="3.4" stroke-linecap="round" fill="none"/>
<path d="M996.2 616.1L989.3 619.5" stroke="#45b3b3" stroke-width="2.5" stroke-linecap="round" fill="none"/>
<path d="M1001.8 622.2L1007.4 628.2" stroke="#8e8e8e" stroke-width="3.4" stroke-linecap="round" fill="none"/>
<path d="M1001.8 622.2L1007.4 628.2" stroke="#e6e6e6" stroke-width="2.5" stroke-linecap="round" fill="none"/>
<path d="M996.2 616.1L1001.8 622.2" stroke="#2a6e6e" stroke-width="3.4" stroke-linecap="round" fill="none"/>
<path d="M996.2 616.1L1001.8 622.2" stroke="#45b3b3" stroke-width="2.5" stroke-linecap="round" fill="none"/>
<path d="M994.9 614.8L993.6 613.5" stroke="#8e8e8e" stroke-width="3.4" stroke-linecap="round" fill="none"/>
<path d="M994.9 614.8L993.6 613.5" stroke="#e6e6e6" stroke-width="2.5" stroke-linecap="round" fill="none"/>
<path d="M996.2 616.1L994.9 614.8" stroke="#2a6e6e" stroke-width="3.4" stroke-linecap="round" fill="none"/>
<path d="M996.2 616.1L994.9 614.8" stroke="#45b3b3" stroke-width="2.5" stroke-linecap="round" fill="none"/>
<path d="M1053.9 505.7L1056.5 509.1" stroke="#8e8e8e" stroke-width="4.3" stroke-linecap="round" fill="none"/>
<path d="M1053.9 505.7L1056.5 509.1" stroke="#e6e6e6" stroke-width="3.4" stroke-linecap="round" fill="none"/>
<path d="M1066.8 525.5L1078.9 534.1" stroke="#236060" stroke-width="5.1" stroke-linecap="round" fill="none"/>
<path d="M1066.8 525.5L1078.9 534.1" stroke="#3a9c9c" stroke-width="4.2" stroke-linecap="round" fill="none"/>
<path d="M1078.9 534.1L1096.1 551.3" stroke="#236060" stroke-width="5.1" stroke-linecap="round" fill="none"/>
<path d="M1078.9 534.1L1096.1 551.3" stroke="#3a9c9c" stroke-width="4.2" stroke-linecap="round" fill="none"/>
<path d="M1096.1 551.3L1104.7 553" stroke="#236060" stroke-width="5.1" stroke-linecap="round" fill="none"/>
<path d="M1096.1 551.3L1104.7 553" stroke="#3a9c9c" stroke-width="4.2" stroke-linecap="round" fill="none"/>
<path d="M1066.8 517.7L1080.6 528.9" stroke="#2a6e6e" stroke-width="5.9" stroke-linecap="round" fill="none"/>
<path d="M1066.8 517.7L1080.6 528.9" stroke="#45b3b3" stroke-width="5" stroke-linecap="round" fill="none"/>
<path d="M1080.6 528.9L1104.7 553" stroke="#2a6e6e" stroke-width="5.9" stroke-linecap="round" fill="none"/>
<path d="M1080.6 528.9L1104.7 553" stroke="#45b3b3" stroke-width="5" stroke-linecap="round" fill="none"/>
<path d="M1104.7 553L1120.2 567.7" stroke="#2a6e6e" stroke-width="5.9" stroke-linecap="round" fill="none"/>
<path d="M1104.7 553L1120.2 567.7" stroke="#45b3b3" stroke-width="5" stroke-linecap="round" fill="none"/>
<path d="M1056.5 509.1L1066.8 517.7" stroke="#8a1111" stroke-width="5.9" stroke-linecap="round" fill="none"/>
<path d="M1056.5 509.1L1066.8 517.7" stroke="#e01c1c" stroke-width="5" stroke-linecap="round" fill="none"/>
<path d="M1084 524.6L1086 524.6" stroke="#8e8e8e" stroke-width="5.1" stroke-linecap="round" fill="none"/>
<path d="M1084 524.6L1086 524.6" stroke="#e6e6e6" stroke-width="4.2" stroke-linecap="round" fill="none"/>
<path d="M1066.8 526.3L1068.8 526.3" stroke="#8e8e8e" stroke-width="5.1" stroke-linecap="round" fill="none"/>
<path d="M1066.8 526.3L1068.8 526.3" stroke="#e6e6e6" stroke-width="4.2" stroke-linecap="round" fill="none"/>
<path d="M1109 548.7L1111 548.7" stroke="#8e8e8e" stroke-width="5.1" stroke-linecap="round" fill="none"/>
<path d="M1109 548.7L1111 548.7" stroke="#e6e6e6" stroke-width="4.2" stroke-linecap="round" fill="none"/>
<path d="M1093.5 550.4L1094.5 551" stroke="#343434" stroke-width="4.4" stroke-linecap="round" fill="none"/>
<path d="M1093.5 550.4L1094.5 551" stroke="#555555" stroke-width="3.5" stroke-linecap="round" fill="none"/>
<path d="M1126.2 566.7L1132.3 565.6" stroke="#8e8e8e" stroke-width="5.5" stroke-linecap="round" fill="none"/>
<path d="M1126.2 566.7L1132.3 565.6" stroke="#e6e6e6" stroke-width="4.6" stroke-linecap="round" fill="none"/>
<path d="M1120.2 567.7L1126.2 566.7" stroke="#2a6e6e" stroke-width="5.5" stroke-linecap="round" fill="none"/>
<path d="M1120.2 567.7L1126.2 566.7" stroke="#45b3b3" stroke-width="4.6" stroke-linecap="round" fill="none"/>
<path d="M1116.6 574.6L1113 581.5" stroke="#8e8e8e" stroke-width="5.5" stroke-linecap="round" fill="none"/>
<path d="M1116.6 574.6L1113 581.5" stroke="#e6e6e6" stroke-width="4.6" stroke-linecap="round" fill="none"/>
<path d="M1120.2 567.7L1116.6 574.6" stroke="#2a6e6e" stroke-width="5.5" stroke-linecap="round" fill="none"/>
<path d="M1120.2 567.7L1116.6 574.6" stroke="#45b3b3" stroke-width="4.6" stroke-linecap="round" fill="none"/>
<path d="M1079.7 486L1089.8 483.8" stroke="#8a1111" stroke-width="3.5" stroke-linecap="round" fill="none"/>
<path d="M1079.7 486L1089.8 483.8" stroke="#e01c1c" stroke-width="2.6" stroke-linecap="round" fill="none"/>
<path d="M1084 479.6L1090 483" stroke="#8a1111" stroke-width="3.5" stroke-linecap="round" fill="none"/>
<path d="M1084 479.6L1090 483" stroke="#e01c1c" stroke-width="2.6" stroke-linecap="round" fill="none"/>
<path d="M1090 483L1103 485.6" stroke="#2a6e6e" stroke-width="3.7" stroke-linecap="round" fill="none"/>
<path d="M1090 483L1103 485.6" stroke="#45b3b3" stroke-width="2.8" stroke-linecap="round" fill="none"/>
<path d="M1103 485.6L1111.6 487.8" stroke="#8a1111" stroke-width="3.5" stroke-linecap="round" fill="none"/>
<path d="M1103 485.6L1111.6 487.8" stroke="#e01c1c" stroke-width="2.6" stroke-linecap="round" fill="none"/>
<path d="M1117.6 432.5L1109 428.6" stroke="#8e8e8e" stroke-width="3.4" stroke-linecap="round" fill="none"/>
<path d="M1117.6 432.5L1109 428.6" stroke="#e6e6e6" stroke-width="2.5" stroke-linecap="round" fill="none"/>
<path d="M1126.2 436.3L1117.6 432.5" stroke="#2a6e6e" stroke-width="3.4" stroke-linecap="round" fill="none"/>
<path d="M1126.2 436.3L1117.6 432.5" stroke="#45b3b3" stroke-width="2.5" stroke-linecap="round" fill="none"/>
<path d="M1129.2 427.7L1132.3 419.1" stroke="#8e8e8e" stroke-width="3.4" stroke-linecap="round" fill="none"/>
<path d="M1129.2 427.7L1132.3 419.1" stroke="#e6e6e6" stroke-width="2.5" stroke-linecap="round" fill="none"/>
<path d="M1126.2 436.3L1129.2 427.7" stroke="#2a6e6e" stroke-width="3.4" stroke-linecap="round" fill="none"/>
<path d="M1126.2 436.3L1129.2 427.7" stroke="#45b3b3" stroke-width="2.5" stroke-linecap="round" fill="none"/>
<path d="M1133.6 437.6L1140.9 438.9" stroke="#8e8e8e" stroke-width="3.4" stroke-linecap="round" fill="none"/>
<path d="M1133.6 437.6L1140.9 438.9" stroke="#e6e6e6" stroke-width="2.5" stroke-linecap="round" fill="none"/>
<path d="M1126.2 436.3L1133.6 437.6" stroke="#2a6e6e" stroke-width="3.4" stroke-linecap="round" fill="none"/>
<path d="M1126.2 436.3L1133.6 437.6" stroke="#45b3b3" stroke-width="2.5" stroke-linecap="round" fill="none"/>
<path d="M1122.3 443.2L1118.5 450.1" stroke="#8e8e8e" stroke-width="3.4" stroke-linecap="round" fill="none"/>
<path d="M1122.3 443.2L1118.5 450.1" stroke="#e6e6e6" stroke-width="2.5" stroke-linecap="round" fill="none"/>
<path d="M1126.2 436.3L1122.3 443.2" stroke="#2a6e6e" stroke-width="3.4" stroke-linecap="round" fill="none"/>
<path d="M1126.2 436.3L1122.3 443.2" stroke="#45b3b3" stroke-width="2.5" stroke-linecap="round" fill="none"/>
<path d="M1122.3 431.6L1118.5 426.8" stroke="#8e8e8e" stroke-width="3.4" stroke-linecap="round" fill="none"/>
<path d="M1122.3 431.6L1118.5 426.8" stroke="#e6e6e6" stroke-width="2.5" stroke-linecap="round" fill="none"/>
<path d="M1126.2 436.3L1122.3 431.6" stroke="#2a6e6e" stroke-width="3.4" stroke-linecap="round" fill="none"/>
<path d="M1126.2 436.3L1122.3 431.6" stroke="#45b3b3" stroke-width="2.5" stroke-linecap="round" fill="none"/>
<path d="M1126.2 436.3L1132.3 448.4" stroke="#2a6e6e" stroke-width="3.4" stroke-linecap="round" fill="none"/>
<path d="M1126.2 436.3L1132.3 448.4" stroke="#45b3b3" stroke-width="2.5" stroke-linecap="round" fill="none"/>
<path d="M1139.6 450.5L1146.9 452.7" stroke="#8e8e8e" stroke-width="3.4" stroke-linecap="round" fill="none"/>
<path d="M1139.6 450.5L1146.9 452.7" stroke="#e6e6e6" stroke-width="2.5" stroke-linecap="round" fill="none"/>
<path d="M1132.3 448.4L1139.6 450.5" stroke="#2a6e6e" stroke-width="3.4" stroke-linecap="round" fill="none"/>
<path d="M1132.3 448.4L1139.6 450.5" stroke="#45b3b3" stroke-width="2.5" stroke-linecap="round" fill="none"/>
<path d="M1127.2 453.9L1122 459.5" stroke="#15188a" stroke-width="3.4" stroke-linecap="round" fill="none"/>
<path d="M1127.2 453.9L1122 459.5" stroke="#2228e0" stroke-width="2.5" stroke-linecap="round" fill="none"/>
<path d="M1132.3 448.4L1127.2 453.9" stroke="#2a6e6e" stroke-width="3.4" stroke-linecap="round" fill="none"/>
<path d="M1132.3 448.4L1127.2 453.9" stroke="#45b3b3" stroke-width="2.5" stroke-linecap="round" fill="none"/>
<path d="M1122 459.5L1117.6 464" stroke="#15188a" stroke-width="3.4" stroke-linecap="round" fill="none"/>
<path d="M1122 459.5L1117.6 464" stroke="#2228e0" stroke-width="2.5" stroke-linecap="round" fill="none"/>
<path d="M1112 464.2L1106.4 464.4" stroke="#8e8e8e" stroke-width="3.4" stroke-linecap="round" fill="none"/>
<path d="M1112 464.2L1106.4 464.4" stroke="#e6e6e6" stroke-width="2.5" stroke-linecap="round" fill="none"/>
<path d="M1117.6 464L1112 464.2" stroke="#15188a" stroke-width="3.4" stroke-linecap="round" fill="none"/>
<path d="M1117.6 464L1112 464.2" stroke="#2228e0" stroke-width="2.5" stroke-linecap="round" fill="none"/>
<path d="M1117.6 464L1120.2 473.4" stroke="#15188a" stroke-width="3.4" stroke-linecap="round" fill="none"/>
<path d="M1117.6 464L1120.2 473.4" stroke="#2228e0" stroke-width="2.5" stroke-linecap="round" fill="none"/>
<path d="M1120.2 473.4L1121.9 481.3" stroke="#2a6e6e" stroke-width="3.4" stroke-linecap="round" fill="none"/>
<path d="M1120.2 473.4L1121.9 481.3" stroke="#45b3b3" stroke-width="2.5" stroke-linecap="round" fill="none"/>
<path d="M1121.9 481.3L1132.3 482.2" stroke="#2a6e6e" stroke-width="3.4" stroke-linecap="round" fill="none"/>
<path d="M1121.9 481.3L1132.3 482.2" stroke="#45b3b3" stroke-width="2.5" stroke-linecap="round" fill="none"/>
<path d="M1132.3 482.2L1139.2 483" stroke="#15188a" stroke-width="3.4" stroke-linecap="round" fill="none"/>
<path d="M1132.3 482.2L1139.2 483" stroke="#2228e0" stroke-width="2.5" stroke-linecap="round" fill="none"/>
<path d="M1143.9 477.8L1148.6 472.5" stroke="#8e8e8e" stroke-width="3.4" stroke-linecap="round" fill="none"/>
<path d="M1143.9 477.8L1148.6 472.5" stroke="#e6e6e6" stroke-width="2.5" stroke-linecap="round" fill="none"/>
<path d="M1139.2 483L1143.9 477.8" stroke="#15188a" stroke-width="3.4" stroke-linecap="round" fill="none"/>
<path d="M1139.2 483L1143.9 477.8" stroke="#2228e0" stroke-width="2.5" stroke-linecap="round" fill="none"/>
<path d="M1139.6 489L1140 495" stroke="#8e8e8e" stroke-width="3.4" stroke-linecap="round" fill="none"/>
<path d="M1139.6 489L1140 495" stroke="#e6e6e6" stroke-width="2.5" stroke-linecap="round" fill="none"/>
<path d="M1139.2 483L1139.6 489" stroke="#15188a" stroke-width="3.4" stroke-linecap="round" fill="none"/>
<path d="M1139.2 483L1139.6 489" stroke="#2228e0" stroke-width="2.5" stroke-linecap="round" fill="none"/>
<path d="M1117.6 484.5L1113.3 487.6" stroke="#15188a" stroke-width="3.4" stroke-linecap="round" fill="none"/>
<path d="M1117.6 484.5L1113.3 487.6" stroke="#2228e0" stroke-width="2.5" stroke-linecap="round" fill="none"/>
<path d="M1121.9 481.3L1117.6 484.5" stroke="#2a6e6e" stroke-width="3.4" stroke-linecap="round" fill="none"/>
<path d="M1121.9 481.3L1117.6 484.5" stroke="#45b3b3" stroke-width="2.5" stroke-linecap="round" fill="none"/>
<path d="M1113.3 487.6L1106.4 495.3" stroke="#15188a" stroke-width="3.4" stroke-linecap="round" fill="none"/>
<path d="M1113.3 487.6L1106.4 495.3" stroke="#2228e0" stroke-width="2.5" stroke-linecap="round" fill="none"/>
<path d="M1106.4 495.3L1109.9 500.5" stroke="#15188a" stroke-width="3.4" stroke-linecap="round" fill="none"/>
<path d="M1106.4 495.3L1109.9 500.5" stroke="#2228e0" stroke-width="2.5" stroke-linecap="round" fill="none"/>
<path d="M1109.9 500.5L1112.5 510" stroke="#8e8e8e" stroke-width="3.4" stroke-linecap="round" fill="none"/>
<path d="M1109.9 500.5L1112.5 510" stroke="#e6e6e6" stroke-width="2.5" stroke-linecap="round" fill="none"/>
<path d="M1085.3 503.9L1077.1 503.9" stroke="#8e8e8e" stroke-width="3.4" stroke-linecap="round" fill="none"/>
<path d="M1085.3 503.9L1077.1 503.9" stroke="#e6e6e6" stroke-width="2.5" stroke-linecap="round" fill="none"/>
<path d="M1093.5 503.9L1085.3 503.9" stroke="#2a6e6e" stroke-width="3.4" stroke-linecap="round" fill="none"/>
<path d="M1093.5 503.9L1085.3 503.9" stroke="#45b3b3" stroke-width="2.5" stroke-linecap="round" fill="none"/>
<path d="M1096.1 511.6L1098.7 519.4" stroke="#8e8e8e" stroke-width="3.4" stroke-linecap="round" fill="none"/>
<path d="M1096.1 511.6L1098.7 519.4" stroke="#e6e6e6" stroke-width="2.5" stroke-linecap="round" fill="none"/>
<path d="M1093.5 503.9L1096.1 511.6" stroke="#2a6e6e" stroke-width="3.4" stroke-linecap="round" fill="none"/>
<path d="M1093.5 503.9L1096.1 511.6" stroke="#45b3b3" stroke-width="2.5" stroke-linecap="round" fill="none"/>
<path d="M1095 500.7L1096.5 497.5" stroke="#8e8e8e" stroke-width="3.4" stroke-linecap="round" fill="none"/>
<path d="M1095 500.7L1096.5 497.5" stroke="#e6e6e6" stroke-width="2.5" stroke-linecap="round" fill="none"/>
<path d="M1093.5 503.9L1095 500.7" stroke="#2a6e6e" stroke-width="3.4" stroke-linecap="round" fill="none"/>
<path d="M1093.5 503.9L1095 500.7" stroke="#45b3b3" stroke-width="2.5" stroke-linecap="round" fill="none"/>
<path d="M1098.2 499.6L1103 495.3" stroke="#8e8e8e" stroke-width="3.4" stroke-linecap="round" fill="none"/>
<path d="M1098.2 499.6L1103 495.3" stroke="#e6e6e6" stroke-width="2.5" stroke-linecap="round" fill="none"/>
<path d="M1093.5 503.9L1098.2 499.6" stroke="#2a6e6e" stroke-width="3.4" stroke-linecap="round" fill="none"/>
<path d="M1093.5 503.9L1098.2 499.6" stroke="#45b3b3" stroke-width="2.5" stroke-linecap="round" fill="none"/>
<path d="M1061.2 554.8L1060.8 548.1" stroke="#8e8e8e" stroke-width="3.9" stroke-linecap="round" fill="none"/>
<path d="M1061.2 554.8L1060.8 548.1" stroke="#e6e6e6" stroke-width="3" stroke-linecap="round" fill="none"/>
<path d="M1061.6 561.5L1061.2 554.8" stroke="#2a6e6e" stroke-width="3.9" stroke-linecap="round" fill="none"/>
<path d="M1061.6 561.5L1061.2 554.8" stroke="#45b3b3" stroke-width="3" stroke-linecap="round" fill="none"/>
<path d="M1054.3 563.9L1047 566.2" stroke="#8e8e8e" stroke-width="3.9" stroke-linecap="round" fill="none"/>
<path d="M1054.3 563.9L1047 566.2" stroke="#e6e6e6" stroke-width="3" stroke-linecap="round" fill="none"/>
<path d="M1061.6 561.5L1054.3 563.9" stroke="#2a6e6e" stroke-width="3.9" stroke-linecap="round" fill="none"/>
<path d="M1061.6 561.5L1054.3 563.9" stroke="#45b3b3" stroke-width="3" stroke-linecap="round" fill="none"/>
<path d="M1066.8 561.7L1072 561.9" stroke="#8e8e8e" stroke-width="3.9" stroke-linecap="round" fill="none"/>
<path d="M1066.8 561.7L1072 561.9" stroke="#e6e6e6" stroke-width="3" stroke-linecap="round" fill="none"/>
<path d="M1061.6 561.5L1066.8 561.7" stroke="#2a6e6e" stroke-width="3.9" stroke-linecap="round" fill="none"/>
<path d="M1061.6 561.5L1066.8 561.7" stroke="#45b3b3" stroke-width="3" stroke-linecap="round" fill="none"/>
<path d="M1061.6 561.5L1069.4 576.5" stroke="#2a6e6e" stroke-width="3.9" stroke-linecap="round" fill="none"/>
<path d="M1061.6 561.5L1069.4 576.5" stroke="#45b3b3" stroke-width="3" stroke-linecap="round" fill="none"/>
<path d="M1077.2 575.6L1084.9 574.8" stroke="#8e8e8e" stroke-width="3.9" stroke-linecap="round" fill="none"/>
<path d="M1077.2 575.6L1084.9 574.8" stroke="#e6e6e6" stroke-width="3" stroke-linecap="round" fill="none"/>
<path d="M1069.4 576.5L1077.2 575.6" stroke="#2a6e6e" stroke-width="3.9" stroke-linecap="round" fill="none"/>
<path d="M1069.4 576.5L1077.2 575.6" stroke="#45b3b3" stroke-width="3" stroke-linecap="round" fill="none"/>
<path d="M1048.3 579.1L1041 581.7" stroke="#8e8e8e" stroke-width="3.9" stroke-linecap="round" fill="none"/>
<path d="M1048.3 579.1L1041 581.7" stroke="#e6e6e6" stroke-width="3" stroke-linecap="round" fill="none"/>
<path d="M1055.6 576.5L1048.3 579.1" stroke="#2a6e6e" stroke-width="3.9" stroke-linecap="round" fill="none"/>
<path d="M1055.6 576.5L1048.3 579.1" stroke="#45b3b3" stroke-width="3" stroke-linecap="round" fill="none"/>
<path d="M1055.6 573L1055.6 576.5" stroke="#2a6e6e" stroke-width="3.9" stroke-linecap="round" fill="none"/>
<path d="M1055.6 573L1055.6 576.5" stroke="#45b3b3" stroke-width="3" stroke-linecap="round" fill="none"/>
<path d="M1055.6 569.6L1055.6 573" stroke="#8e8e8e" stroke-width="3.9" stroke-linecap="round" fill="none"/>
<path d="M1055.6 569.6L1055.6 573" stroke="#e6e6e6" stroke-width="3" stroke-linecap="round" fill="none"/>
<path d="M1055.6 576.5L1069.4 576.5" stroke="#2a6e6e" stroke-width="3.9" stroke-linecap="round" fill="none"/>
<path d="M1055.6 576.5L1069.4 576.5" stroke="#45b3b3" stroke-width="3" stroke-linecap="round" fill="none"/>
<path d="M1055.6 576.5L1063.4 592" stroke="#2a6e6e" stroke-width="3.9" stroke-linecap="round" fill="none"/>
<path d="M1055.6 576.5L1063.4 592" stroke="#45b3b3" stroke-width="3" stroke-linecap="round" fill="none"/>
<path d="M1063.8 598.9L1064.2 605.8" stroke="#8e8e8e" stroke-width="3.9" stroke-linecap="round" fill="none"/>
<path d="M1063.8 598.9L1064.2 605.8" stroke="#e6e6e6" stroke-width="3" stroke-linecap="round" fill="none"/>
<path d="M1063.4 592L1063.8 598.9" stroke="#2a6e6e" stroke-width="3.9" stroke-linecap="round" fill="none"/>
<path d="M1063.4 592L1063.8 598.9" stroke="#45b3b3" stroke-width="3" stroke-linecap="round" fill="none"/>
<path d="M1056.5 591.6L1049.6 591.2" stroke="#15188a" stroke-width="3.9" stroke-linecap="round" fill="none"/>
<path d="M1056.5 591.6L1049.6 591.2" stroke="#2228e0" stroke-width="3" stroke-linecap="round" fill="none"/>
<path d="M1063.4 592L1056.5 591.6" stroke="#2a6e6e" stroke-width="3.9" stroke-linecap="round" fill="none"/>
<path d="M1063.4 592L1056.5 591.6" stroke="#45b3b3" stroke-width="3" stroke-linecap="round" fill="none"/>
<path d="M1043.2 593.8L1036.7 596.3" stroke="#8e8e8e" stroke-width="3.9" stroke-linecap="round" fill="none"/>
<path d="M1043.2 593.8L1036.7 596.3" stroke="#e6e6e6" stroke-width="3" stroke-linecap="round" fill="none"/>
<path d="M1049.6 591.2L1043.2 593.8" stroke="#15188a" stroke-width="3.9" stroke-linecap="round" fill="none"/>
<path d="M1049.6 591.2L1043.2 593.8" stroke="#2228e0" stroke-width="3" stroke-linecap="round" fill="none"/>
<path d="M1049.6 588.2L1049.6 585.1" stroke="#8e8e8e" stroke-width="3.9" stroke-linecap="round" fill="none"/>
<path d="M1049.6 588.2L1049.6 585.1" stroke="#e6e6e6" stroke-width="3" stroke-linecap="round" fill="none"/>
<path d="M1049.6 591.2L1049.6 588.2" stroke="#15188a" stroke-width="3.9" stroke-linecap="round" fill="none"/>
<path d="M1049.6 591.2L1049.6 588.2" stroke="#2228e0" stroke-width="3" stroke-linecap="round" fill="none"/>
<path d="M1069.8 584.2L1070.2 592" stroke="#8e8e8e" stroke-width="3.9" stroke-linecap="round" fill="none"/>
<path d="M1069.8 584.2L1070.2 592" stroke="#e6e6e6" stroke-width="3" stroke-linecap="round" fill="none"/>
<path d="M1069.4 576.5L1069.8 584.2" stroke="#2a6e6e" stroke-width="3.9" stroke-linecap="round" fill="none"/>
<path d="M1069.4 576.5L1069.8 584.2" stroke="#45b3b3" stroke-width="3" stroke-linecap="round" fill="none"/>
<path d="M1070.2 592L1078.9 587.7" stroke="#8e8e8e" stroke-width="3.9" stroke-linecap="round" fill="none"/>
<path d="M1070.2 592L1078.9 587.7" stroke="#e6e6e6" stroke-width="3" stroke-linecap="round" fill="none"/>
<path d="M1044.4 485.8L1053.9 503.1" stroke="#111" stroke-width="2.4" stroke-dasharray="1 1" fill="none"/>
<path d="M1058.5 485.8L1058.5 505.7" stroke="#111" stroke-width="2.4" stroke-dasharray="1 1" fill="none"/>
<circle cx="1058.5" cy="475.9" r="8.4" fill="url(#fe)" stroke="#5a3a3e" stroke-width="0.6"/>
<circle cx="1056" cy="473" r="2.4" fill="#f6d4d8" opacity="0.75"/>
<text class="m" x="1066" y="500.3" font-size="7.6" font-weight="bold" textLength="20.8" lengthAdjust="spacingAndGlyphs">2.60</text>
<text class="m" x="1042.7" y="529.6" font-size="7.6" font-weight="bold" textLength="20" lengthAdjust="spacingAndGlyphs">1.73</text>
</g>
<g id="texts" class="t" filter="url(#sh)"><text x="639.6" y="476.8" font-size="32.5" text-anchor="middle" textLength="294" lengthAdjust="spacingAndGlyphs">Quantum Chemical</text><text x="640.2" y="521.5" font-size="32.5" text-anchor="middle" textLength="262" lengthAdjust="spacingAndGlyphs">Cluster Approach</text><g transform="translate(230.3,301.5) rotate(-33)"><text x="0" y="10" font-size="31" text-anchor="middle" textLength="110" lengthAdjust="spacingAndGlyphs">N-Lobe</text></g><g transform="translate(1013.6,289.2) rotate(29)"><text x="0" y="10" font-size="31" text-anchor="middle" textLength="104" lengthAdjust="spacingAndGlyphs">C-Lobe</text></g><text x="95.9" y="702.9" font-size="29.5" textLength="14.6" lengthAdjust="spacingAndGlyphs">E</text><text x="110.8" y="709.7" font-size="20" textLength="21.5" lengthAdjust="spacingAndGlyphs">rel</text><text x="943.4" y="702.9" font-size="29.5" textLength="14.6" lengthAdjust="spacingAndGlyphs">E</text><text x="958.3" y="709.7" font-size="20" textLength="21.5" lengthAdjust="spacingAndGlyphs">rel</text><text x="140" y="702.9" font-size="29.5" textLength="212" lengthAdjust="spacingAndGlyphs">= -13.9 kcal/mol</text><text x="987.5" y="702.9" font-size="29.5" textLength="194.5" lengthAdjust="spacingAndGlyphs">= -1.3 kcal/mol</text></g>
</svg>
</body>
</html>
